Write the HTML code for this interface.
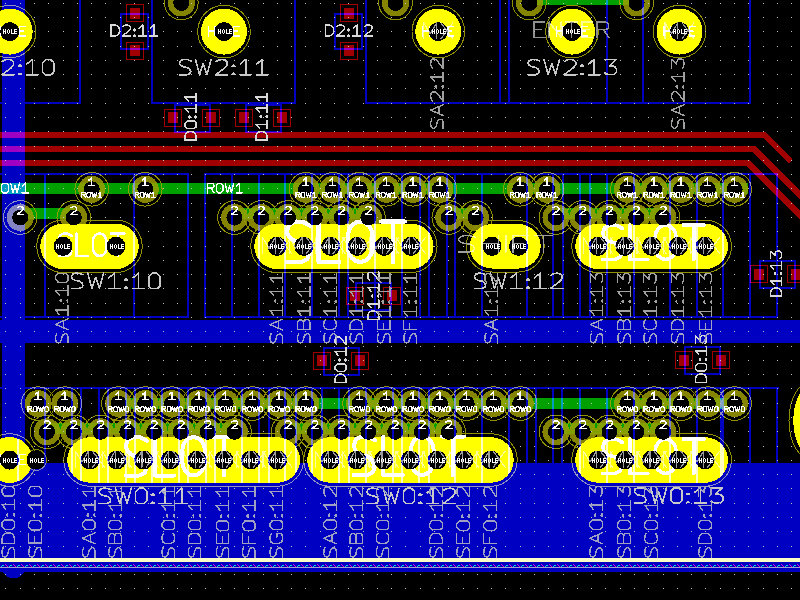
<!DOCTYPE html><html><head><meta charset="utf-8"><style>
*{margin:0;padding:0}
body{background:#000;width:800px;height:600px;overflow:hidden}
svg{display:block;shape-rendering:crispEdges}
text{font-family:"Liberation Sans",sans-serif}
.pn{fill:#fff;font-size:10.5px;text-anchor:middle}
.pnet{fill:#fff;font-size:7.6px;text-anchor:middle}
.hole{fill:#fff;font-size:6.4px;font-weight:bold;text-anchor:middle}
.bl{mix-blend-mode:lighten}
</style></head><body><svg width="800" height="600" viewBox="0 0 800 600"><rect width="800" height="600" fill="#000"/><g><path fill="#c0c0c0" d="M5 3h1v1h-1zM20 3h1v1h-1zM34 3h1v1h-1zM48 3h1v1h-1zM63 3h1v1h-1zM77 3h1v1h-1zM91 3h1v1h-1zM105 3h1v1h-1zM120 3h1v1h-1zM134 3h1v1h-1zM148 3h1v1h-1zM163 3h1v1h-1zM177 3h1v1h-1zM191 3h1v1h-1zM205 3h1v1h-1zM220 3h1v1h-1zM234 3h1v1h-1zM248 3h1v1h-1zM263 3h1v1h-1zM277 3h1v1h-1zM291 3h1v1h-1zM305 3h1v1h-1zM320 3h1v1h-1zM334 3h1v1h-1zM348 3h1v1h-1zM363 3h1v1h-1zM377 3h1v1h-1zM391 3h1v1h-1zM405 3h1v1h-1zM420 3h1v1h-1zM434 3h1v1h-1zM448 3h1v1h-1zM463 3h1v1h-1zM477 3h1v1h-1zM491 3h1v1h-1zM505 3h1v1h-1zM520 3h1v1h-1zM534 3h1v1h-1zM548 3h1v1h-1zM563 3h1v1h-1zM577 3h1v1h-1zM591 3h1v1h-1zM605 3h1v1h-1zM620 3h1v1h-1zM634 3h1v1h-1zM648 3h1v1h-1zM663 3h1v1h-1zM677 3h1v1h-1zM691 3h1v1h-1zM705 3h1v1h-1zM720 3h1v1h-1zM734 3h1v1h-1zM748 3h1v1h-1zM763 3h1v1h-1zM777 3h1v1h-1zM791 3h1v1h-1zM5 17h1v1h-1zM20 17h1v1h-1zM34 17h1v1h-1zM48 17h1v1h-1zM63 17h1v1h-1zM77 17h1v1h-1zM91 17h1v1h-1zM105 17h1v1h-1zM120 17h1v1h-1zM134 17h1v1h-1zM148 17h1v1h-1zM163 17h1v1h-1zM177 17h1v1h-1zM191 17h1v1h-1zM205 17h1v1h-1zM220 17h1v1h-1zM234 17h1v1h-1zM248 17h1v1h-1zM263 17h1v1h-1zM277 17h1v1h-1zM291 17h1v1h-1zM305 17h1v1h-1zM320 17h1v1h-1zM334 17h1v1h-1zM348 17h1v1h-1zM363 17h1v1h-1zM377 17h1v1h-1zM391 17h1v1h-1zM405 17h1v1h-1zM420 17h1v1h-1zM434 17h1v1h-1zM448 17h1v1h-1zM463 17h1v1h-1zM477 17h1v1h-1zM491 17h1v1h-1zM505 17h1v1h-1zM520 17h1v1h-1zM534 17h1v1h-1zM548 17h1v1h-1zM563 17h1v1h-1zM577 17h1v1h-1zM591 17h1v1h-1zM605 17h1v1h-1zM620 17h1v1h-1zM634 17h1v1h-1zM648 17h1v1h-1zM663 17h1v1h-1zM677 17h1v1h-1zM691 17h1v1h-1zM705 17h1v1h-1zM720 17h1v1h-1zM734 17h1v1h-1zM748 17h1v1h-1zM763 17h1v1h-1zM777 17h1v1h-1zM791 17h1v1h-1zM5 31h1v1h-1zM20 31h1v1h-1zM34 31h1v1h-1zM48 31h1v1h-1zM63 31h1v1h-1zM77 31h1v1h-1zM91 31h1v1h-1zM105 31h1v1h-1zM120 31h1v1h-1zM134 31h1v1h-1zM148 31h1v1h-1zM163 31h1v1h-1zM177 31h1v1h-1zM191 31h1v1h-1zM205 31h1v1h-1zM220 31h1v1h-1zM234 31h1v1h-1zM248 31h1v1h-1zM263 31h1v1h-1zM277 31h1v1h-1zM291 31h1v1h-1zM305 31h1v1h-1zM320 31h1v1h-1zM334 31h1v1h-1zM348 31h1v1h-1zM363 31h1v1h-1zM377 31h1v1h-1zM391 31h1v1h-1zM405 31h1v1h-1zM420 31h1v1h-1zM434 31h1v1h-1zM448 31h1v1h-1zM463 31h1v1h-1zM477 31h1v1h-1zM491 31h1v1h-1zM505 31h1v1h-1zM520 31h1v1h-1zM534 31h1v1h-1zM548 31h1v1h-1zM563 31h1v1h-1zM577 31h1v1h-1zM591 31h1v1h-1zM605 31h1v1h-1zM620 31h1v1h-1zM634 31h1v1h-1zM648 31h1v1h-1zM663 31h1v1h-1zM677 31h1v1h-1zM691 31h1v1h-1zM705 31h1v1h-1zM720 31h1v1h-1zM734 31h1v1h-1zM748 31h1v1h-1zM763 31h1v1h-1zM777 31h1v1h-1zM791 31h1v1h-1zM5 46h1v1h-1zM20 46h1v1h-1zM34 46h1v1h-1zM48 46h1v1h-1zM63 46h1v1h-1zM77 46h1v1h-1zM91 46h1v1h-1zM105 46h1v1h-1zM120 46h1v1h-1zM134 46h1v1h-1zM148 46h1v1h-1zM163 46h1v1h-1zM177 46h1v1h-1zM191 46h1v1h-1zM205 46h1v1h-1zM220 46h1v1h-1zM234 46h1v1h-1zM248 46h1v1h-1zM263 46h1v1h-1zM277 46h1v1h-1zM291 46h1v1h-1zM305 46h1v1h-1zM320 46h1v1h-1zM334 46h1v1h-1zM348 46h1v1h-1zM363 46h1v1h-1zM377 46h1v1h-1zM391 46h1v1h-1zM405 46h1v1h-1zM420 46h1v1h-1zM434 46h1v1h-1zM448 46h1v1h-1zM463 46h1v1h-1zM477 46h1v1h-1zM491 46h1v1h-1zM505 46h1v1h-1zM520 46h1v1h-1zM534 46h1v1h-1zM548 46h1v1h-1zM563 46h1v1h-1zM577 46h1v1h-1zM591 46h1v1h-1zM605 46h1v1h-1zM620 46h1v1h-1zM634 46h1v1h-1zM648 46h1v1h-1zM663 46h1v1h-1zM677 46h1v1h-1zM691 46h1v1h-1zM705 46h1v1h-1zM720 46h1v1h-1zM734 46h1v1h-1zM748 46h1v1h-1zM763 46h1v1h-1zM777 46h1v1h-1zM791 46h1v1h-1zM5 60h1v1h-1zM20 60h1v1h-1zM34 60h1v1h-1zM48 60h1v1h-1zM63 60h1v1h-1zM77 60h1v1h-1zM91 60h1v1h-1zM105 60h1v1h-1zM120 60h1v1h-1zM134 60h1v1h-1zM148 60h1v1h-1zM163 60h1v1h-1zM177 60h1v1h-1zM191 60h1v1h-1zM205 60h1v1h-1zM220 60h1v1h-1zM234 60h1v1h-1zM248 60h1v1h-1zM263 60h1v1h-1zM277 60h1v1h-1zM291 60h1v1h-1zM305 60h1v1h-1zM320 60h1v1h-1zM334 60h1v1h-1zM348 60h1v1h-1zM363 60h1v1h-1zM377 60h1v1h-1zM391 60h1v1h-1zM405 60h1v1h-1zM420 60h1v1h-1zM434 60h1v1h-1zM448 60h1v1h-1zM463 60h1v1h-1zM477 60h1v1h-1zM491 60h1v1h-1zM505 60h1v1h-1zM520 60h1v1h-1zM534 60h1v1h-1zM548 60h1v1h-1zM563 60h1v1h-1zM577 60h1v1h-1zM591 60h1v1h-1zM605 60h1v1h-1zM620 60h1v1h-1zM634 60h1v1h-1zM648 60h1v1h-1zM663 60h1v1h-1zM677 60h1v1h-1zM691 60h1v1h-1zM705 60h1v1h-1zM720 60h1v1h-1zM734 60h1v1h-1zM748 60h1v1h-1zM763 60h1v1h-1zM777 60h1v1h-1zM791 60h1v1h-1zM5 74h1v1h-1zM20 74h1v1h-1zM34 74h1v1h-1zM48 74h1v1h-1zM63 74h1v1h-1zM77 74h1v1h-1zM91 74h1v1h-1zM105 74h1v1h-1zM120 74h1v1h-1zM134 74h1v1h-1zM148 74h1v1h-1zM163 74h1v1h-1zM177 74h1v1h-1zM191 74h1v1h-1zM205 74h1v1h-1zM220 74h1v1h-1zM234 74h1v1h-1zM248 74h1v1h-1zM263 74h1v1h-1zM277 74h1v1h-1zM291 74h1v1h-1zM305 74h1v1h-1zM320 74h1v1h-1zM334 74h1v1h-1zM348 74h1v1h-1zM363 74h1v1h-1zM377 74h1v1h-1zM391 74h1v1h-1zM405 74h1v1h-1zM420 74h1v1h-1zM434 74h1v1h-1zM448 74h1v1h-1zM463 74h1v1h-1zM477 74h1v1h-1zM491 74h1v1h-1zM505 74h1v1h-1zM520 74h1v1h-1zM534 74h1v1h-1zM548 74h1v1h-1zM563 74h1v1h-1zM577 74h1v1h-1zM591 74h1v1h-1zM605 74h1v1h-1zM620 74h1v1h-1zM634 74h1v1h-1zM648 74h1v1h-1zM663 74h1v1h-1zM677 74h1v1h-1zM691 74h1v1h-1zM705 74h1v1h-1zM720 74h1v1h-1zM734 74h1v1h-1zM748 74h1v1h-1zM763 74h1v1h-1zM777 74h1v1h-1zM791 74h1v1h-1zM5 88h1v1h-1zM20 88h1v1h-1zM34 88h1v1h-1zM48 88h1v1h-1zM63 88h1v1h-1zM77 88h1v1h-1zM91 88h1v1h-1zM105 88h1v1h-1zM120 88h1v1h-1zM134 88h1v1h-1zM148 88h1v1h-1zM163 88h1v1h-1zM177 88h1v1h-1zM191 88h1v1h-1zM205 88h1v1h-1zM220 88h1v1h-1zM234 88h1v1h-1zM248 88h1v1h-1zM263 88h1v1h-1zM277 88h1v1h-1zM291 88h1v1h-1zM305 88h1v1h-1zM320 88h1v1h-1zM334 88h1v1h-1zM348 88h1v1h-1zM363 88h1v1h-1zM377 88h1v1h-1zM391 88h1v1h-1zM405 88h1v1h-1zM420 88h1v1h-1zM434 88h1v1h-1zM448 88h1v1h-1zM463 88h1v1h-1zM477 88h1v1h-1zM491 88h1v1h-1zM505 88h1v1h-1zM520 88h1v1h-1zM534 88h1v1h-1zM548 88h1v1h-1zM563 88h1v1h-1zM577 88h1v1h-1zM591 88h1v1h-1zM605 88h1v1h-1zM620 88h1v1h-1zM634 88h1v1h-1zM648 88h1v1h-1zM663 88h1v1h-1zM677 88h1v1h-1zM691 88h1v1h-1zM705 88h1v1h-1zM720 88h1v1h-1zM734 88h1v1h-1zM748 88h1v1h-1zM763 88h1v1h-1zM777 88h1v1h-1zM791 88h1v1h-1zM5 103h1v1h-1zM20 103h1v1h-1zM34 103h1v1h-1zM48 103h1v1h-1zM63 103h1v1h-1zM77 103h1v1h-1zM91 103h1v1h-1zM105 103h1v1h-1zM120 103h1v1h-1zM134 103h1v1h-1zM148 103h1v1h-1zM163 103h1v1h-1zM177 103h1v1h-1zM191 103h1v1h-1zM205 103h1v1h-1zM220 103h1v1h-1zM234 103h1v1h-1zM248 103h1v1h-1zM263 103h1v1h-1zM277 103h1v1h-1zM291 103h1v1h-1zM305 103h1v1h-1zM320 103h1v1h-1zM334 103h1v1h-1zM348 103h1v1h-1zM363 103h1v1h-1zM377 103h1v1h-1zM391 103h1v1h-1zM405 103h1v1h-1zM420 103h1v1h-1zM434 103h1v1h-1zM448 103h1v1h-1zM463 103h1v1h-1zM477 103h1v1h-1zM491 103h1v1h-1zM505 103h1v1h-1zM520 103h1v1h-1zM534 103h1v1h-1zM548 103h1v1h-1zM563 103h1v1h-1zM577 103h1v1h-1zM591 103h1v1h-1zM605 103h1v1h-1zM620 103h1v1h-1zM634 103h1v1h-1zM648 103h1v1h-1zM663 103h1v1h-1zM677 103h1v1h-1zM691 103h1v1h-1zM705 103h1v1h-1zM720 103h1v1h-1zM734 103h1v1h-1zM748 103h1v1h-1zM763 103h1v1h-1zM777 103h1v1h-1zM791 103h1v1h-1zM5 117h1v1h-1zM20 117h1v1h-1zM34 117h1v1h-1zM48 117h1v1h-1zM63 117h1v1h-1zM77 117h1v1h-1zM91 117h1v1h-1zM105 117h1v1h-1zM120 117h1v1h-1zM134 117h1v1h-1zM148 117h1v1h-1zM163 117h1v1h-1zM177 117h1v1h-1zM191 117h1v1h-1zM205 117h1v1h-1zM220 117h1v1h-1zM234 117h1v1h-1zM248 117h1v1h-1zM263 117h1v1h-1zM277 117h1v1h-1zM291 117h1v1h-1zM305 117h1v1h-1zM320 117h1v1h-1zM334 117h1v1h-1zM348 117h1v1h-1zM363 117h1v1h-1zM377 117h1v1h-1zM391 117h1v1h-1zM405 117h1v1h-1zM420 117h1v1h-1zM434 117h1v1h-1zM448 117h1v1h-1zM463 117h1v1h-1zM477 117h1v1h-1zM491 117h1v1h-1zM505 117h1v1h-1zM520 117h1v1h-1zM534 117h1v1h-1zM548 117h1v1h-1zM563 117h1v1h-1zM577 117h1v1h-1zM591 117h1v1h-1zM605 117h1v1h-1zM620 117h1v1h-1zM634 117h1v1h-1zM648 117h1v1h-1zM663 117h1v1h-1zM677 117h1v1h-1zM691 117h1v1h-1zM705 117h1v1h-1zM720 117h1v1h-1zM734 117h1v1h-1zM748 117h1v1h-1zM763 117h1v1h-1zM777 117h1v1h-1zM791 117h1v1h-1zM5 131h1v1h-1zM20 131h1v1h-1zM34 131h1v1h-1zM48 131h1v1h-1zM63 131h1v1h-1zM77 131h1v1h-1zM91 131h1v1h-1zM105 131h1v1h-1zM120 131h1v1h-1zM134 131h1v1h-1zM148 131h1v1h-1zM163 131h1v1h-1zM177 131h1v1h-1zM191 131h1v1h-1zM205 131h1v1h-1zM220 131h1v1h-1zM234 131h1v1h-1zM248 131h1v1h-1zM263 131h1v1h-1zM277 131h1v1h-1zM291 131h1v1h-1zM305 131h1v1h-1zM320 131h1v1h-1zM334 131h1v1h-1zM348 131h1v1h-1zM363 131h1v1h-1zM377 131h1v1h-1zM391 131h1v1h-1zM405 131h1v1h-1zM420 131h1v1h-1zM434 131h1v1h-1zM448 131h1v1h-1zM463 131h1v1h-1zM477 131h1v1h-1zM491 131h1v1h-1zM505 131h1v1h-1zM520 131h1v1h-1zM534 131h1v1h-1zM548 131h1v1h-1zM563 131h1v1h-1zM577 131h1v1h-1zM591 131h1v1h-1zM605 131h1v1h-1zM620 131h1v1h-1zM634 131h1v1h-1zM648 131h1v1h-1zM663 131h1v1h-1zM677 131h1v1h-1zM691 131h1v1h-1zM705 131h1v1h-1zM720 131h1v1h-1zM734 131h1v1h-1zM748 131h1v1h-1zM763 131h1v1h-1zM777 131h1v1h-1zM791 131h1v1h-1zM5 146h1v1h-1zM20 146h1v1h-1zM34 146h1v1h-1zM48 146h1v1h-1zM63 146h1v1h-1zM77 146h1v1h-1zM91 146h1v1h-1zM105 146h1v1h-1zM120 146h1v1h-1zM134 146h1v1h-1zM148 146h1v1h-1zM163 146h1v1h-1zM177 146h1v1h-1zM191 146h1v1h-1zM205 146h1v1h-1zM220 146h1v1h-1zM234 146h1v1h-1zM248 146h1v1h-1zM263 146h1v1h-1zM277 146h1v1h-1zM291 146h1v1h-1zM305 146h1v1h-1zM320 146h1v1h-1zM334 146h1v1h-1zM348 146h1v1h-1zM363 146h1v1h-1zM377 146h1v1h-1zM391 146h1v1h-1zM405 146h1v1h-1zM420 146h1v1h-1zM434 146h1v1h-1zM448 146h1v1h-1zM463 146h1v1h-1zM477 146h1v1h-1zM491 146h1v1h-1zM505 146h1v1h-1zM520 146h1v1h-1zM534 146h1v1h-1zM548 146h1v1h-1zM563 146h1v1h-1zM577 146h1v1h-1zM591 146h1v1h-1zM605 146h1v1h-1zM620 146h1v1h-1zM634 146h1v1h-1zM648 146h1v1h-1zM663 146h1v1h-1zM677 146h1v1h-1zM691 146h1v1h-1zM705 146h1v1h-1zM720 146h1v1h-1zM734 146h1v1h-1zM748 146h1v1h-1zM763 146h1v1h-1zM777 146h1v1h-1zM791 146h1v1h-1zM5 160h1v1h-1zM20 160h1v1h-1zM34 160h1v1h-1zM48 160h1v1h-1zM63 160h1v1h-1zM77 160h1v1h-1zM91 160h1v1h-1zM105 160h1v1h-1zM120 160h1v1h-1zM134 160h1v1h-1zM148 160h1v1h-1zM163 160h1v1h-1zM177 160h1v1h-1zM191 160h1v1h-1zM205 160h1v1h-1zM220 160h1v1h-1zM234 160h1v1h-1zM248 160h1v1h-1zM263 160h1v1h-1zM277 160h1v1h-1zM291 160h1v1h-1zM305 160h1v1h-1zM320 160h1v1h-1zM334 160h1v1h-1zM348 160h1v1h-1zM363 160h1v1h-1zM377 160h1v1h-1zM391 160h1v1h-1zM405 160h1v1h-1zM420 160h1v1h-1zM434 160h1v1h-1zM448 160h1v1h-1zM463 160h1v1h-1zM477 160h1v1h-1zM491 160h1v1h-1zM505 160h1v1h-1zM520 160h1v1h-1zM534 160h1v1h-1zM548 160h1v1h-1zM563 160h1v1h-1zM577 160h1v1h-1zM591 160h1v1h-1zM605 160h1v1h-1zM620 160h1v1h-1zM634 160h1v1h-1zM648 160h1v1h-1zM663 160h1v1h-1zM677 160h1v1h-1zM691 160h1v1h-1zM705 160h1v1h-1zM720 160h1v1h-1zM734 160h1v1h-1zM748 160h1v1h-1zM763 160h1v1h-1zM777 160h1v1h-1zM791 160h1v1h-1zM5 174h1v1h-1zM20 174h1v1h-1zM34 174h1v1h-1zM48 174h1v1h-1zM63 174h1v1h-1zM77 174h1v1h-1zM91 174h1v1h-1zM105 174h1v1h-1zM120 174h1v1h-1zM134 174h1v1h-1zM148 174h1v1h-1zM163 174h1v1h-1zM177 174h1v1h-1zM191 174h1v1h-1zM205 174h1v1h-1zM220 174h1v1h-1zM234 174h1v1h-1zM248 174h1v1h-1zM263 174h1v1h-1zM277 174h1v1h-1zM291 174h1v1h-1zM305 174h1v1h-1zM320 174h1v1h-1zM334 174h1v1h-1zM348 174h1v1h-1zM363 174h1v1h-1zM377 174h1v1h-1zM391 174h1v1h-1zM405 174h1v1h-1zM420 174h1v1h-1zM434 174h1v1h-1zM448 174h1v1h-1zM463 174h1v1h-1zM477 174h1v1h-1zM491 174h1v1h-1zM505 174h1v1h-1zM520 174h1v1h-1zM534 174h1v1h-1zM548 174h1v1h-1zM563 174h1v1h-1zM577 174h1v1h-1zM591 174h1v1h-1zM605 174h1v1h-1zM620 174h1v1h-1zM634 174h1v1h-1zM648 174h1v1h-1zM663 174h1v1h-1zM677 174h1v1h-1zM691 174h1v1h-1zM705 174h1v1h-1zM720 174h1v1h-1zM734 174h1v1h-1zM748 174h1v1h-1zM763 174h1v1h-1zM777 174h1v1h-1zM791 174h1v1h-1zM5 188h1v1h-1zM20 188h1v1h-1zM34 188h1v1h-1zM48 188h1v1h-1zM63 188h1v1h-1zM77 188h1v1h-1zM91 188h1v1h-1zM105 188h1v1h-1zM120 188h1v1h-1zM134 188h1v1h-1zM148 188h1v1h-1zM163 188h1v1h-1zM177 188h1v1h-1zM191 188h1v1h-1zM205 188h1v1h-1zM220 188h1v1h-1zM234 188h1v1h-1zM248 188h1v1h-1zM263 188h1v1h-1zM277 188h1v1h-1zM291 188h1v1h-1zM305 188h1v1h-1zM320 188h1v1h-1zM334 188h1v1h-1zM348 188h1v1h-1zM363 188h1v1h-1zM377 188h1v1h-1zM391 188h1v1h-1zM405 188h1v1h-1zM420 188h1v1h-1zM434 188h1v1h-1zM448 188h1v1h-1zM463 188h1v1h-1zM477 188h1v1h-1zM491 188h1v1h-1zM505 188h1v1h-1zM520 188h1v1h-1zM534 188h1v1h-1zM548 188h1v1h-1zM563 188h1v1h-1zM577 188h1v1h-1zM591 188h1v1h-1zM605 188h1v1h-1zM620 188h1v1h-1zM634 188h1v1h-1zM648 188h1v1h-1zM663 188h1v1h-1zM677 188h1v1h-1zM691 188h1v1h-1zM705 188h1v1h-1zM720 188h1v1h-1zM734 188h1v1h-1zM748 188h1v1h-1zM763 188h1v1h-1zM777 188h1v1h-1zM791 188h1v1h-1zM5 203h1v1h-1zM20 203h1v1h-1zM34 203h1v1h-1zM48 203h1v1h-1zM63 203h1v1h-1zM77 203h1v1h-1zM91 203h1v1h-1zM105 203h1v1h-1zM120 203h1v1h-1zM134 203h1v1h-1zM148 203h1v1h-1zM163 203h1v1h-1zM177 203h1v1h-1zM191 203h1v1h-1zM205 203h1v1h-1zM220 203h1v1h-1zM234 203h1v1h-1zM248 203h1v1h-1zM263 203h1v1h-1zM277 203h1v1h-1zM291 203h1v1h-1zM305 203h1v1h-1zM320 203h1v1h-1zM334 203h1v1h-1zM348 203h1v1h-1zM363 203h1v1h-1zM377 203h1v1h-1zM391 203h1v1h-1zM405 203h1v1h-1zM420 203h1v1h-1zM434 203h1v1h-1zM448 203h1v1h-1zM463 203h1v1h-1zM477 203h1v1h-1zM491 203h1v1h-1zM505 203h1v1h-1zM520 203h1v1h-1zM534 203h1v1h-1zM548 203h1v1h-1zM563 203h1v1h-1zM577 203h1v1h-1zM591 203h1v1h-1zM605 203h1v1h-1zM620 203h1v1h-1zM634 203h1v1h-1zM648 203h1v1h-1zM663 203h1v1h-1zM677 203h1v1h-1zM691 203h1v1h-1zM705 203h1v1h-1zM720 203h1v1h-1zM734 203h1v1h-1zM748 203h1v1h-1zM763 203h1v1h-1zM777 203h1v1h-1zM791 203h1v1h-1zM5 217h1v1h-1zM20 217h1v1h-1zM34 217h1v1h-1zM48 217h1v1h-1zM63 217h1v1h-1zM77 217h1v1h-1zM91 217h1v1h-1zM105 217h1v1h-1zM120 217h1v1h-1zM134 217h1v1h-1zM148 217h1v1h-1zM163 217h1v1h-1zM177 217h1v1h-1zM191 217h1v1h-1zM205 217h1v1h-1zM220 217h1v1h-1zM234 217h1v1h-1zM248 217h1v1h-1zM263 217h1v1h-1zM277 217h1v1h-1zM291 217h1v1h-1zM305 217h1v1h-1zM320 217h1v1h-1zM334 217h1v1h-1zM348 217h1v1h-1zM363 217h1v1h-1zM377 217h1v1h-1zM391 217h1v1h-1zM405 217h1v1h-1zM420 217h1v1h-1zM434 217h1v1h-1zM448 217h1v1h-1zM463 217h1v1h-1zM477 217h1v1h-1zM491 217h1v1h-1zM505 217h1v1h-1zM520 217h1v1h-1zM534 217h1v1h-1zM548 217h1v1h-1zM563 217h1v1h-1zM577 217h1v1h-1zM591 217h1v1h-1zM605 217h1v1h-1zM620 217h1v1h-1zM634 217h1v1h-1zM648 217h1v1h-1zM663 217h1v1h-1zM677 217h1v1h-1zM691 217h1v1h-1zM705 217h1v1h-1zM720 217h1v1h-1zM734 217h1v1h-1zM748 217h1v1h-1zM763 217h1v1h-1zM777 217h1v1h-1zM791 217h1v1h-1zM5 231h1v1h-1zM20 231h1v1h-1zM34 231h1v1h-1zM48 231h1v1h-1zM63 231h1v1h-1zM77 231h1v1h-1zM91 231h1v1h-1zM105 231h1v1h-1zM120 231h1v1h-1zM134 231h1v1h-1zM148 231h1v1h-1zM163 231h1v1h-1zM177 231h1v1h-1zM191 231h1v1h-1zM205 231h1v1h-1zM220 231h1v1h-1zM234 231h1v1h-1zM248 231h1v1h-1zM263 231h1v1h-1zM277 231h1v1h-1zM291 231h1v1h-1zM305 231h1v1h-1zM320 231h1v1h-1zM334 231h1v1h-1zM348 231h1v1h-1zM363 231h1v1h-1zM377 231h1v1h-1zM391 231h1v1h-1zM405 231h1v1h-1zM420 231h1v1h-1zM434 231h1v1h-1zM448 231h1v1h-1zM463 231h1v1h-1zM477 231h1v1h-1zM491 231h1v1h-1zM505 231h1v1h-1zM520 231h1v1h-1zM534 231h1v1h-1zM548 231h1v1h-1zM563 231h1v1h-1zM577 231h1v1h-1zM591 231h1v1h-1zM605 231h1v1h-1zM620 231h1v1h-1zM634 231h1v1h-1zM648 231h1v1h-1zM663 231h1v1h-1zM677 231h1v1h-1zM691 231h1v1h-1zM705 231h1v1h-1zM720 231h1v1h-1zM734 231h1v1h-1zM748 231h1v1h-1zM763 231h1v1h-1zM777 231h1v1h-1zM791 231h1v1h-1zM5 246h1v1h-1zM20 246h1v1h-1zM34 246h1v1h-1zM48 246h1v1h-1zM63 246h1v1h-1zM77 246h1v1h-1zM91 246h1v1h-1zM105 246h1v1h-1zM120 246h1v1h-1zM134 246h1v1h-1zM148 246h1v1h-1zM163 246h1v1h-1zM177 246h1v1h-1zM191 246h1v1h-1zM205 246h1v1h-1zM220 246h1v1h-1zM234 246h1v1h-1zM248 246h1v1h-1zM263 246h1v1h-1zM277 246h1v1h-1zM291 246h1v1h-1zM305 246h1v1h-1zM320 246h1v1h-1zM334 246h1v1h-1zM348 246h1v1h-1zM363 246h1v1h-1zM377 246h1v1h-1zM391 246h1v1h-1zM405 246h1v1h-1zM420 246h1v1h-1zM434 246h1v1h-1zM448 246h1v1h-1zM463 246h1v1h-1zM477 246h1v1h-1zM491 246h1v1h-1zM505 246h1v1h-1zM520 246h1v1h-1zM534 246h1v1h-1zM548 246h1v1h-1zM563 246h1v1h-1zM577 246h1v1h-1zM591 246h1v1h-1zM605 246h1v1h-1zM620 246h1v1h-1zM634 246h1v1h-1zM648 246h1v1h-1zM663 246h1v1h-1zM677 246h1v1h-1zM691 246h1v1h-1zM705 246h1v1h-1zM720 246h1v1h-1zM734 246h1v1h-1zM748 246h1v1h-1zM763 246h1v1h-1zM777 246h1v1h-1zM791 246h1v1h-1zM5 260h1v1h-1zM20 260h1v1h-1zM34 260h1v1h-1zM48 260h1v1h-1zM63 260h1v1h-1zM77 260h1v1h-1zM91 260h1v1h-1zM105 260h1v1h-1zM120 260h1v1h-1zM134 260h1v1h-1zM148 260h1v1h-1zM163 260h1v1h-1zM177 260h1v1h-1zM191 260h1v1h-1zM205 260h1v1h-1zM220 260h1v1h-1zM234 260h1v1h-1zM248 260h1v1h-1zM263 260h1v1h-1zM277 260h1v1h-1zM291 260h1v1h-1zM305 260h1v1h-1zM320 260h1v1h-1zM334 260h1v1h-1zM348 260h1v1h-1zM363 260h1v1h-1zM377 260h1v1h-1zM391 260h1v1h-1zM405 260h1v1h-1zM420 260h1v1h-1zM434 260h1v1h-1zM448 260h1v1h-1zM463 260h1v1h-1zM477 260h1v1h-1zM491 260h1v1h-1zM505 260h1v1h-1zM520 260h1v1h-1zM534 260h1v1h-1zM548 260h1v1h-1zM563 260h1v1h-1zM577 260h1v1h-1zM591 260h1v1h-1zM605 260h1v1h-1zM620 260h1v1h-1zM634 260h1v1h-1zM648 260h1v1h-1zM663 260h1v1h-1zM677 260h1v1h-1zM691 260h1v1h-1zM705 260h1v1h-1zM720 260h1v1h-1zM734 260h1v1h-1zM748 260h1v1h-1zM763 260h1v1h-1zM777 260h1v1h-1zM791 260h1v1h-1zM5 274h1v1h-1zM20 274h1v1h-1zM34 274h1v1h-1zM48 274h1v1h-1zM63 274h1v1h-1zM77 274h1v1h-1zM91 274h1v1h-1zM105 274h1v1h-1zM120 274h1v1h-1zM134 274h1v1h-1zM148 274h1v1h-1zM163 274h1v1h-1zM177 274h1v1h-1zM191 274h1v1h-1zM205 274h1v1h-1zM220 274h1v1h-1zM234 274h1v1h-1zM248 274h1v1h-1zM263 274h1v1h-1zM277 274h1v1h-1zM291 274h1v1h-1zM305 274h1v1h-1zM320 274h1v1h-1zM334 274h1v1h-1zM348 274h1v1h-1zM363 274h1v1h-1zM377 274h1v1h-1zM391 274h1v1h-1zM405 274h1v1h-1zM420 274h1v1h-1zM434 274h1v1h-1zM448 274h1v1h-1zM463 274h1v1h-1zM477 274h1v1h-1zM491 274h1v1h-1zM505 274h1v1h-1zM520 274h1v1h-1zM534 274h1v1h-1zM548 274h1v1h-1zM563 274h1v1h-1zM577 274h1v1h-1zM591 274h1v1h-1zM605 274h1v1h-1zM620 274h1v1h-1zM634 274h1v1h-1zM648 274h1v1h-1zM663 274h1v1h-1zM677 274h1v1h-1zM691 274h1v1h-1zM705 274h1v1h-1zM720 274h1v1h-1zM734 274h1v1h-1zM748 274h1v1h-1zM763 274h1v1h-1zM777 274h1v1h-1zM791 274h1v1h-1zM5 288h1v1h-1zM20 288h1v1h-1zM34 288h1v1h-1zM48 288h1v1h-1zM63 288h1v1h-1zM77 288h1v1h-1zM91 288h1v1h-1zM105 288h1v1h-1zM120 288h1v1h-1zM134 288h1v1h-1zM148 288h1v1h-1zM163 288h1v1h-1zM177 288h1v1h-1zM191 288h1v1h-1zM205 288h1v1h-1zM220 288h1v1h-1zM234 288h1v1h-1zM248 288h1v1h-1zM263 288h1v1h-1zM277 288h1v1h-1zM291 288h1v1h-1zM305 288h1v1h-1zM320 288h1v1h-1zM334 288h1v1h-1zM348 288h1v1h-1zM363 288h1v1h-1zM377 288h1v1h-1zM391 288h1v1h-1zM405 288h1v1h-1zM420 288h1v1h-1zM434 288h1v1h-1zM448 288h1v1h-1zM463 288h1v1h-1zM477 288h1v1h-1zM491 288h1v1h-1zM505 288h1v1h-1zM520 288h1v1h-1zM534 288h1v1h-1zM548 288h1v1h-1zM563 288h1v1h-1zM577 288h1v1h-1zM591 288h1v1h-1zM605 288h1v1h-1zM620 288h1v1h-1zM634 288h1v1h-1zM648 288h1v1h-1zM663 288h1v1h-1zM677 288h1v1h-1zM691 288h1v1h-1zM705 288h1v1h-1zM720 288h1v1h-1zM734 288h1v1h-1zM748 288h1v1h-1zM763 288h1v1h-1zM777 288h1v1h-1zM791 288h1v1h-1zM5 303h1v1h-1zM20 303h1v1h-1zM34 303h1v1h-1zM48 303h1v1h-1zM63 303h1v1h-1zM77 303h1v1h-1zM91 303h1v1h-1zM105 303h1v1h-1zM120 303h1v1h-1zM134 303h1v1h-1zM148 303h1v1h-1zM163 303h1v1h-1zM177 303h1v1h-1zM191 303h1v1h-1zM205 303h1v1h-1zM220 303h1v1h-1zM234 303h1v1h-1zM248 303h1v1h-1zM263 303h1v1h-1zM277 303h1v1h-1zM291 303h1v1h-1zM305 303h1v1h-1zM320 303h1v1h-1zM334 303h1v1h-1zM348 303h1v1h-1zM363 303h1v1h-1zM377 303h1v1h-1zM391 303h1v1h-1zM405 303h1v1h-1zM420 303h1v1h-1zM434 303h1v1h-1zM448 303h1v1h-1zM463 303h1v1h-1zM477 303h1v1h-1zM491 303h1v1h-1zM505 303h1v1h-1zM520 303h1v1h-1zM534 303h1v1h-1zM548 303h1v1h-1zM563 303h1v1h-1zM577 303h1v1h-1zM591 303h1v1h-1zM605 303h1v1h-1zM620 303h1v1h-1zM634 303h1v1h-1zM648 303h1v1h-1zM663 303h1v1h-1zM677 303h1v1h-1zM691 303h1v1h-1zM705 303h1v1h-1zM720 303h1v1h-1zM734 303h1v1h-1zM748 303h1v1h-1zM763 303h1v1h-1zM777 303h1v1h-1zM791 303h1v1h-1zM5 317h1v1h-1zM20 317h1v1h-1zM34 317h1v1h-1zM48 317h1v1h-1zM63 317h1v1h-1zM77 317h1v1h-1zM91 317h1v1h-1zM105 317h1v1h-1zM120 317h1v1h-1zM134 317h1v1h-1zM148 317h1v1h-1zM163 317h1v1h-1zM177 317h1v1h-1zM191 317h1v1h-1zM205 317h1v1h-1zM220 317h1v1h-1zM234 317h1v1h-1zM248 317h1v1h-1zM263 317h1v1h-1zM277 317h1v1h-1zM291 317h1v1h-1zM305 317h1v1h-1zM320 317h1v1h-1zM334 317h1v1h-1zM348 317h1v1h-1zM363 317h1v1h-1zM377 317h1v1h-1zM391 317h1v1h-1zM405 317h1v1h-1zM420 317h1v1h-1zM434 317h1v1h-1zM448 317h1v1h-1zM463 317h1v1h-1zM477 317h1v1h-1zM491 317h1v1h-1zM505 317h1v1h-1zM520 317h1v1h-1zM534 317h1v1h-1zM548 317h1v1h-1zM563 317h1v1h-1zM577 317h1v1h-1zM591 317h1v1h-1zM605 317h1v1h-1zM620 317h1v1h-1zM634 317h1v1h-1zM648 317h1v1h-1zM663 317h1v1h-1zM677 317h1v1h-1zM691 317h1v1h-1zM705 317h1v1h-1zM720 317h1v1h-1zM734 317h1v1h-1zM748 317h1v1h-1zM763 317h1v1h-1zM777 317h1v1h-1zM791 317h1v1h-1zM5 331h1v1h-1zM20 331h1v1h-1zM34 331h1v1h-1zM48 331h1v1h-1zM63 331h1v1h-1zM77 331h1v1h-1zM91 331h1v1h-1zM105 331h1v1h-1zM120 331h1v1h-1zM134 331h1v1h-1zM148 331h1v1h-1zM163 331h1v1h-1zM177 331h1v1h-1zM191 331h1v1h-1zM205 331h1v1h-1zM220 331h1v1h-1zM234 331h1v1h-1zM248 331h1v1h-1zM263 331h1v1h-1zM277 331h1v1h-1zM291 331h1v1h-1zM305 331h1v1h-1zM320 331h1v1h-1zM334 331h1v1h-1zM348 331h1v1h-1zM363 331h1v1h-1zM377 331h1v1h-1zM391 331h1v1h-1zM405 331h1v1h-1zM420 331h1v1h-1zM434 331h1v1h-1zM448 331h1v1h-1zM463 331h1v1h-1zM477 331h1v1h-1zM491 331h1v1h-1zM505 331h1v1h-1zM520 331h1v1h-1zM534 331h1v1h-1zM548 331h1v1h-1zM563 331h1v1h-1zM577 331h1v1h-1zM591 331h1v1h-1zM605 331h1v1h-1zM620 331h1v1h-1zM634 331h1v1h-1zM648 331h1v1h-1zM663 331h1v1h-1zM677 331h1v1h-1zM691 331h1v1h-1zM705 331h1v1h-1zM720 331h1v1h-1zM734 331h1v1h-1zM748 331h1v1h-1zM763 331h1v1h-1zM777 331h1v1h-1zM791 331h1v1h-1zM5 346h1v1h-1zM20 346h1v1h-1zM34 346h1v1h-1zM48 346h1v1h-1zM63 346h1v1h-1zM77 346h1v1h-1zM91 346h1v1h-1zM105 346h1v1h-1zM120 346h1v1h-1zM134 346h1v1h-1zM148 346h1v1h-1zM163 346h1v1h-1zM177 346h1v1h-1zM191 346h1v1h-1zM205 346h1v1h-1zM220 346h1v1h-1zM234 346h1v1h-1zM248 346h1v1h-1zM263 346h1v1h-1zM277 346h1v1h-1zM291 346h1v1h-1zM305 346h1v1h-1zM320 346h1v1h-1zM334 346h1v1h-1zM348 346h1v1h-1zM363 346h1v1h-1zM377 346h1v1h-1zM391 346h1v1h-1zM405 346h1v1h-1zM420 346h1v1h-1zM434 346h1v1h-1zM448 346h1v1h-1zM463 346h1v1h-1zM477 346h1v1h-1zM491 346h1v1h-1zM505 346h1v1h-1zM520 346h1v1h-1zM534 346h1v1h-1zM548 346h1v1h-1zM563 346h1v1h-1zM577 346h1v1h-1zM591 346h1v1h-1zM605 346h1v1h-1zM620 346h1v1h-1zM634 346h1v1h-1zM648 346h1v1h-1zM663 346h1v1h-1zM677 346h1v1h-1zM691 346h1v1h-1zM705 346h1v1h-1zM720 346h1v1h-1zM734 346h1v1h-1zM748 346h1v1h-1zM763 346h1v1h-1zM777 346h1v1h-1zM791 346h1v1h-1zM5 360h1v1h-1zM20 360h1v1h-1zM34 360h1v1h-1zM48 360h1v1h-1zM63 360h1v1h-1zM77 360h1v1h-1zM91 360h1v1h-1zM105 360h1v1h-1zM120 360h1v1h-1zM134 360h1v1h-1zM148 360h1v1h-1zM163 360h1v1h-1zM177 360h1v1h-1zM191 360h1v1h-1zM205 360h1v1h-1zM220 360h1v1h-1zM234 360h1v1h-1zM248 360h1v1h-1zM263 360h1v1h-1zM277 360h1v1h-1zM291 360h1v1h-1zM305 360h1v1h-1zM320 360h1v1h-1zM334 360h1v1h-1zM348 360h1v1h-1zM363 360h1v1h-1zM377 360h1v1h-1zM391 360h1v1h-1zM405 360h1v1h-1zM420 360h1v1h-1zM434 360h1v1h-1zM448 360h1v1h-1zM463 360h1v1h-1zM477 360h1v1h-1zM491 360h1v1h-1zM505 360h1v1h-1zM520 360h1v1h-1zM534 360h1v1h-1zM548 360h1v1h-1zM563 360h1v1h-1zM577 360h1v1h-1zM591 360h1v1h-1zM605 360h1v1h-1zM620 360h1v1h-1zM634 360h1v1h-1zM648 360h1v1h-1zM663 360h1v1h-1zM677 360h1v1h-1zM691 360h1v1h-1zM705 360h1v1h-1zM720 360h1v1h-1zM734 360h1v1h-1zM748 360h1v1h-1zM763 360h1v1h-1zM777 360h1v1h-1zM791 360h1v1h-1zM5 374h1v1h-1zM20 374h1v1h-1zM34 374h1v1h-1zM48 374h1v1h-1zM63 374h1v1h-1zM77 374h1v1h-1zM91 374h1v1h-1zM105 374h1v1h-1zM120 374h1v1h-1zM134 374h1v1h-1zM148 374h1v1h-1zM163 374h1v1h-1zM177 374h1v1h-1zM191 374h1v1h-1zM205 374h1v1h-1zM220 374h1v1h-1zM234 374h1v1h-1zM248 374h1v1h-1zM263 374h1v1h-1zM277 374h1v1h-1zM291 374h1v1h-1zM305 374h1v1h-1zM320 374h1v1h-1zM334 374h1v1h-1zM348 374h1v1h-1zM363 374h1v1h-1zM377 374h1v1h-1zM391 374h1v1h-1zM405 374h1v1h-1zM420 374h1v1h-1zM434 374h1v1h-1zM448 374h1v1h-1zM463 374h1v1h-1zM477 374h1v1h-1zM491 374h1v1h-1zM505 374h1v1h-1zM520 374h1v1h-1zM534 374h1v1h-1zM548 374h1v1h-1zM563 374h1v1h-1zM577 374h1v1h-1zM591 374h1v1h-1zM605 374h1v1h-1zM620 374h1v1h-1zM634 374h1v1h-1zM648 374h1v1h-1zM663 374h1v1h-1zM677 374h1v1h-1zM691 374h1v1h-1zM705 374h1v1h-1zM720 374h1v1h-1zM734 374h1v1h-1zM748 374h1v1h-1zM763 374h1v1h-1zM777 374h1v1h-1zM791 374h1v1h-1zM5 388h1v1h-1zM20 388h1v1h-1zM34 388h1v1h-1zM48 388h1v1h-1zM63 388h1v1h-1zM77 388h1v1h-1zM91 388h1v1h-1zM105 388h1v1h-1zM120 388h1v1h-1zM134 388h1v1h-1zM148 388h1v1h-1zM163 388h1v1h-1zM177 388h1v1h-1zM191 388h1v1h-1zM205 388h1v1h-1zM220 388h1v1h-1zM234 388h1v1h-1zM248 388h1v1h-1zM263 388h1v1h-1zM277 388h1v1h-1zM291 388h1v1h-1zM305 388h1v1h-1zM320 388h1v1h-1zM334 388h1v1h-1zM348 388h1v1h-1zM363 388h1v1h-1zM377 388h1v1h-1zM391 388h1v1h-1zM405 388h1v1h-1zM420 388h1v1h-1zM434 388h1v1h-1zM448 388h1v1h-1zM463 388h1v1h-1zM477 388h1v1h-1zM491 388h1v1h-1zM505 388h1v1h-1zM520 388h1v1h-1zM534 388h1v1h-1zM548 388h1v1h-1zM563 388h1v1h-1zM577 388h1v1h-1zM591 388h1v1h-1zM605 388h1v1h-1zM620 388h1v1h-1zM634 388h1v1h-1zM648 388h1v1h-1zM663 388h1v1h-1zM677 388h1v1h-1zM691 388h1v1h-1zM705 388h1v1h-1zM720 388h1v1h-1zM734 388h1v1h-1zM748 388h1v1h-1zM763 388h1v1h-1zM777 388h1v1h-1zM791 388h1v1h-1zM5 403h1v1h-1zM20 403h1v1h-1zM34 403h1v1h-1zM48 403h1v1h-1zM63 403h1v1h-1zM77 403h1v1h-1zM91 403h1v1h-1zM105 403h1v1h-1zM120 403h1v1h-1zM134 403h1v1h-1zM148 403h1v1h-1zM163 403h1v1h-1zM177 403h1v1h-1zM191 403h1v1h-1zM205 403h1v1h-1zM220 403h1v1h-1zM234 403h1v1h-1zM248 403h1v1h-1zM263 403h1v1h-1zM277 403h1v1h-1zM291 403h1v1h-1zM305 403h1v1h-1zM320 403h1v1h-1zM334 403h1v1h-1zM348 403h1v1h-1zM363 403h1v1h-1zM377 403h1v1h-1zM391 403h1v1h-1zM405 403h1v1h-1zM420 403h1v1h-1zM434 403h1v1h-1zM448 403h1v1h-1zM463 403h1v1h-1zM477 403h1v1h-1zM491 403h1v1h-1zM505 403h1v1h-1zM520 403h1v1h-1zM534 403h1v1h-1zM548 403h1v1h-1zM563 403h1v1h-1zM577 403h1v1h-1zM591 403h1v1h-1zM605 403h1v1h-1zM620 403h1v1h-1zM634 403h1v1h-1zM648 403h1v1h-1zM663 403h1v1h-1zM677 403h1v1h-1zM691 403h1v1h-1zM705 403h1v1h-1zM720 403h1v1h-1zM734 403h1v1h-1zM748 403h1v1h-1zM763 403h1v1h-1zM777 403h1v1h-1zM791 403h1v1h-1zM5 417h1v1h-1zM20 417h1v1h-1zM34 417h1v1h-1zM48 417h1v1h-1zM63 417h1v1h-1zM77 417h1v1h-1zM91 417h1v1h-1zM105 417h1v1h-1zM120 417h1v1h-1zM134 417h1v1h-1zM148 417h1v1h-1zM163 417h1v1h-1zM177 417h1v1h-1zM191 417h1v1h-1zM205 417h1v1h-1zM220 417h1v1h-1zM234 417h1v1h-1zM248 417h1v1h-1zM263 417h1v1h-1zM277 417h1v1h-1zM291 417h1v1h-1zM305 417h1v1h-1zM320 417h1v1h-1zM334 417h1v1h-1zM348 417h1v1h-1zM363 417h1v1h-1zM377 417h1v1h-1zM391 417h1v1h-1zM405 417h1v1h-1zM420 417h1v1h-1zM434 417h1v1h-1zM448 417h1v1h-1zM463 417h1v1h-1zM477 417h1v1h-1zM491 417h1v1h-1zM505 417h1v1h-1zM520 417h1v1h-1zM534 417h1v1h-1zM548 417h1v1h-1zM563 417h1v1h-1zM577 417h1v1h-1zM591 417h1v1h-1zM605 417h1v1h-1zM620 417h1v1h-1zM634 417h1v1h-1zM648 417h1v1h-1zM663 417h1v1h-1zM677 417h1v1h-1zM691 417h1v1h-1zM705 417h1v1h-1zM720 417h1v1h-1zM734 417h1v1h-1zM748 417h1v1h-1zM763 417h1v1h-1zM777 417h1v1h-1zM791 417h1v1h-1zM5 431h1v1h-1zM20 431h1v1h-1zM34 431h1v1h-1zM48 431h1v1h-1zM63 431h1v1h-1zM77 431h1v1h-1zM91 431h1v1h-1zM105 431h1v1h-1zM120 431h1v1h-1zM134 431h1v1h-1zM148 431h1v1h-1zM163 431h1v1h-1zM177 431h1v1h-1zM191 431h1v1h-1zM205 431h1v1h-1zM220 431h1v1h-1zM234 431h1v1h-1zM248 431h1v1h-1zM263 431h1v1h-1zM277 431h1v1h-1zM291 431h1v1h-1zM305 431h1v1h-1zM320 431h1v1h-1zM334 431h1v1h-1zM348 431h1v1h-1zM363 431h1v1h-1zM377 431h1v1h-1zM391 431h1v1h-1zM405 431h1v1h-1zM420 431h1v1h-1zM434 431h1v1h-1zM448 431h1v1h-1zM463 431h1v1h-1zM477 431h1v1h-1zM491 431h1v1h-1zM505 431h1v1h-1zM520 431h1v1h-1zM534 431h1v1h-1zM548 431h1v1h-1zM563 431h1v1h-1zM577 431h1v1h-1zM591 431h1v1h-1zM605 431h1v1h-1zM620 431h1v1h-1zM634 431h1v1h-1zM648 431h1v1h-1zM663 431h1v1h-1zM677 431h1v1h-1zM691 431h1v1h-1zM705 431h1v1h-1zM720 431h1v1h-1zM734 431h1v1h-1zM748 431h1v1h-1zM763 431h1v1h-1zM777 431h1v1h-1zM791 431h1v1h-1zM5 446h1v1h-1zM20 446h1v1h-1zM34 446h1v1h-1zM48 446h1v1h-1zM63 446h1v1h-1zM77 446h1v1h-1zM91 446h1v1h-1zM105 446h1v1h-1zM120 446h1v1h-1zM134 446h1v1h-1zM148 446h1v1h-1zM163 446h1v1h-1zM177 446h1v1h-1zM191 446h1v1h-1zM205 446h1v1h-1zM220 446h1v1h-1zM234 446h1v1h-1zM248 446h1v1h-1zM263 446h1v1h-1zM277 446h1v1h-1zM291 446h1v1h-1zM305 446h1v1h-1zM320 446h1v1h-1zM334 446h1v1h-1zM348 446h1v1h-1zM363 446h1v1h-1zM377 446h1v1h-1zM391 446h1v1h-1zM405 446h1v1h-1zM420 446h1v1h-1zM434 446h1v1h-1zM448 446h1v1h-1zM463 446h1v1h-1zM477 446h1v1h-1zM491 446h1v1h-1zM505 446h1v1h-1zM520 446h1v1h-1zM534 446h1v1h-1zM548 446h1v1h-1zM563 446h1v1h-1zM577 446h1v1h-1zM591 446h1v1h-1zM605 446h1v1h-1zM620 446h1v1h-1zM634 446h1v1h-1zM648 446h1v1h-1zM663 446h1v1h-1zM677 446h1v1h-1zM691 446h1v1h-1zM705 446h1v1h-1zM720 446h1v1h-1zM734 446h1v1h-1zM748 446h1v1h-1zM763 446h1v1h-1zM777 446h1v1h-1zM791 446h1v1h-1zM5 460h1v1h-1zM20 460h1v1h-1zM34 460h1v1h-1zM48 460h1v1h-1zM63 460h1v1h-1zM77 460h1v1h-1zM91 460h1v1h-1zM105 460h1v1h-1zM120 460h1v1h-1zM134 460h1v1h-1zM148 460h1v1h-1zM163 460h1v1h-1zM177 460h1v1h-1zM191 460h1v1h-1zM205 460h1v1h-1zM220 460h1v1h-1zM234 460h1v1h-1zM248 460h1v1h-1zM263 460h1v1h-1zM277 460h1v1h-1zM291 460h1v1h-1zM305 460h1v1h-1zM320 460h1v1h-1zM334 460h1v1h-1zM348 460h1v1h-1zM363 460h1v1h-1zM377 460h1v1h-1zM391 460h1v1h-1zM405 460h1v1h-1zM420 460h1v1h-1zM434 460h1v1h-1zM448 460h1v1h-1zM463 460h1v1h-1zM477 460h1v1h-1zM491 460h1v1h-1zM505 460h1v1h-1zM520 460h1v1h-1zM534 460h1v1h-1zM548 460h1v1h-1zM563 460h1v1h-1zM577 460h1v1h-1zM591 460h1v1h-1zM605 460h1v1h-1zM620 460h1v1h-1zM634 460h1v1h-1zM648 460h1v1h-1zM663 460h1v1h-1zM677 460h1v1h-1zM691 460h1v1h-1zM705 460h1v1h-1zM720 460h1v1h-1zM734 460h1v1h-1zM748 460h1v1h-1zM763 460h1v1h-1zM777 460h1v1h-1zM791 460h1v1h-1zM5 474h1v1h-1zM20 474h1v1h-1zM34 474h1v1h-1zM48 474h1v1h-1zM63 474h1v1h-1zM77 474h1v1h-1zM91 474h1v1h-1zM105 474h1v1h-1zM120 474h1v1h-1zM134 474h1v1h-1zM148 474h1v1h-1zM163 474h1v1h-1zM177 474h1v1h-1zM191 474h1v1h-1zM205 474h1v1h-1zM220 474h1v1h-1zM234 474h1v1h-1zM248 474h1v1h-1zM263 474h1v1h-1zM277 474h1v1h-1zM291 474h1v1h-1zM305 474h1v1h-1zM320 474h1v1h-1zM334 474h1v1h-1zM348 474h1v1h-1zM363 474h1v1h-1zM377 474h1v1h-1zM391 474h1v1h-1zM405 474h1v1h-1zM420 474h1v1h-1zM434 474h1v1h-1zM448 474h1v1h-1zM463 474h1v1h-1zM477 474h1v1h-1zM491 474h1v1h-1zM505 474h1v1h-1zM520 474h1v1h-1zM534 474h1v1h-1zM548 474h1v1h-1zM563 474h1v1h-1zM577 474h1v1h-1zM591 474h1v1h-1zM605 474h1v1h-1zM620 474h1v1h-1zM634 474h1v1h-1zM648 474h1v1h-1zM663 474h1v1h-1zM677 474h1v1h-1zM691 474h1v1h-1zM705 474h1v1h-1zM720 474h1v1h-1zM734 474h1v1h-1zM748 474h1v1h-1zM763 474h1v1h-1zM777 474h1v1h-1zM791 474h1v1h-1zM5 488h1v1h-1zM20 488h1v1h-1zM34 488h1v1h-1zM48 488h1v1h-1zM63 488h1v1h-1zM77 488h1v1h-1zM91 488h1v1h-1zM105 488h1v1h-1zM120 488h1v1h-1zM134 488h1v1h-1zM148 488h1v1h-1zM163 488h1v1h-1zM177 488h1v1h-1zM191 488h1v1h-1zM205 488h1v1h-1zM220 488h1v1h-1zM234 488h1v1h-1zM248 488h1v1h-1zM263 488h1v1h-1zM277 488h1v1h-1zM291 488h1v1h-1zM305 488h1v1h-1zM320 488h1v1h-1zM334 488h1v1h-1zM348 488h1v1h-1zM363 488h1v1h-1zM377 488h1v1h-1zM391 488h1v1h-1zM405 488h1v1h-1zM420 488h1v1h-1zM434 488h1v1h-1zM448 488h1v1h-1zM463 488h1v1h-1zM477 488h1v1h-1zM491 488h1v1h-1zM505 488h1v1h-1zM520 488h1v1h-1zM534 488h1v1h-1zM548 488h1v1h-1zM563 488h1v1h-1zM577 488h1v1h-1zM591 488h1v1h-1zM605 488h1v1h-1zM620 488h1v1h-1zM634 488h1v1h-1zM648 488h1v1h-1zM663 488h1v1h-1zM677 488h1v1h-1zM691 488h1v1h-1zM705 488h1v1h-1zM720 488h1v1h-1zM734 488h1v1h-1zM748 488h1v1h-1zM763 488h1v1h-1zM777 488h1v1h-1zM791 488h1v1h-1zM5 503h1v1h-1zM20 503h1v1h-1zM34 503h1v1h-1zM48 503h1v1h-1zM63 503h1v1h-1zM77 503h1v1h-1zM91 503h1v1h-1zM105 503h1v1h-1zM120 503h1v1h-1zM134 503h1v1h-1zM148 503h1v1h-1zM163 503h1v1h-1zM177 503h1v1h-1zM191 503h1v1h-1zM205 503h1v1h-1zM220 503h1v1h-1zM234 503h1v1h-1zM248 503h1v1h-1zM263 503h1v1h-1zM277 503h1v1h-1zM291 503h1v1h-1zM305 503h1v1h-1zM320 503h1v1h-1zM334 503h1v1h-1zM348 503h1v1h-1zM363 503h1v1h-1zM377 503h1v1h-1zM391 503h1v1h-1zM405 503h1v1h-1zM420 503h1v1h-1zM434 503h1v1h-1zM448 503h1v1h-1zM463 503h1v1h-1zM477 503h1v1h-1zM491 503h1v1h-1zM505 503h1v1h-1zM520 503h1v1h-1zM534 503h1v1h-1zM548 503h1v1h-1zM563 503h1v1h-1zM577 503h1v1h-1zM591 503h1v1h-1zM605 503h1v1h-1zM620 503h1v1h-1zM634 503h1v1h-1zM648 503h1v1h-1zM663 503h1v1h-1zM677 503h1v1h-1zM691 503h1v1h-1zM705 503h1v1h-1zM720 503h1v1h-1zM734 503h1v1h-1zM748 503h1v1h-1zM763 503h1v1h-1zM777 503h1v1h-1zM791 503h1v1h-1zM5 517h1v1h-1zM20 517h1v1h-1zM34 517h1v1h-1zM48 517h1v1h-1zM63 517h1v1h-1zM77 517h1v1h-1zM91 517h1v1h-1zM105 517h1v1h-1zM120 517h1v1h-1zM134 517h1v1h-1zM148 517h1v1h-1zM163 517h1v1h-1zM177 517h1v1h-1zM191 517h1v1h-1zM205 517h1v1h-1zM220 517h1v1h-1zM234 517h1v1h-1zM248 517h1v1h-1zM263 517h1v1h-1zM277 517h1v1h-1zM291 517h1v1h-1zM305 517h1v1h-1zM320 517h1v1h-1zM334 517h1v1h-1zM348 517h1v1h-1zM363 517h1v1h-1zM377 517h1v1h-1zM391 517h1v1h-1zM405 517h1v1h-1zM420 517h1v1h-1zM434 517h1v1h-1zM448 517h1v1h-1zM463 517h1v1h-1zM477 517h1v1h-1zM491 517h1v1h-1zM505 517h1v1h-1zM520 517h1v1h-1zM534 517h1v1h-1zM548 517h1v1h-1zM563 517h1v1h-1zM577 517h1v1h-1zM591 517h1v1h-1zM605 517h1v1h-1zM620 517h1v1h-1zM634 517h1v1h-1zM648 517h1v1h-1zM663 517h1v1h-1zM677 517h1v1h-1zM691 517h1v1h-1zM705 517h1v1h-1zM720 517h1v1h-1zM734 517h1v1h-1zM748 517h1v1h-1zM763 517h1v1h-1zM777 517h1v1h-1zM791 517h1v1h-1zM5 531h1v1h-1zM20 531h1v1h-1zM34 531h1v1h-1zM48 531h1v1h-1zM63 531h1v1h-1zM77 531h1v1h-1zM91 531h1v1h-1zM105 531h1v1h-1zM120 531h1v1h-1zM134 531h1v1h-1zM148 531h1v1h-1zM163 531h1v1h-1zM177 531h1v1h-1zM191 531h1v1h-1zM205 531h1v1h-1zM220 531h1v1h-1zM234 531h1v1h-1zM248 531h1v1h-1zM263 531h1v1h-1zM277 531h1v1h-1zM291 531h1v1h-1zM305 531h1v1h-1zM320 531h1v1h-1zM334 531h1v1h-1zM348 531h1v1h-1zM363 531h1v1h-1zM377 531h1v1h-1zM391 531h1v1h-1zM405 531h1v1h-1zM420 531h1v1h-1zM434 531h1v1h-1zM448 531h1v1h-1zM463 531h1v1h-1zM477 531h1v1h-1zM491 531h1v1h-1zM505 531h1v1h-1zM520 531h1v1h-1zM534 531h1v1h-1zM548 531h1v1h-1zM563 531h1v1h-1zM577 531h1v1h-1zM591 531h1v1h-1zM605 531h1v1h-1zM620 531h1v1h-1zM634 531h1v1h-1zM648 531h1v1h-1zM663 531h1v1h-1zM677 531h1v1h-1zM691 531h1v1h-1zM705 531h1v1h-1zM720 531h1v1h-1zM734 531h1v1h-1zM748 531h1v1h-1zM763 531h1v1h-1zM777 531h1v1h-1zM791 531h1v1h-1zM5 546h1v1h-1zM20 546h1v1h-1zM34 546h1v1h-1zM48 546h1v1h-1zM63 546h1v1h-1zM77 546h1v1h-1zM91 546h1v1h-1zM105 546h1v1h-1zM120 546h1v1h-1zM134 546h1v1h-1zM148 546h1v1h-1zM163 546h1v1h-1zM177 546h1v1h-1zM191 546h1v1h-1zM205 546h1v1h-1zM220 546h1v1h-1zM234 546h1v1h-1zM248 546h1v1h-1zM263 546h1v1h-1zM277 546h1v1h-1zM291 546h1v1h-1zM305 546h1v1h-1zM320 546h1v1h-1zM334 546h1v1h-1zM348 546h1v1h-1zM363 546h1v1h-1zM377 546h1v1h-1zM391 546h1v1h-1zM405 546h1v1h-1zM420 546h1v1h-1zM434 546h1v1h-1zM448 546h1v1h-1zM463 546h1v1h-1zM477 546h1v1h-1zM491 546h1v1h-1zM505 546h1v1h-1zM520 546h1v1h-1zM534 546h1v1h-1zM548 546h1v1h-1zM563 546h1v1h-1zM577 546h1v1h-1zM591 546h1v1h-1zM605 546h1v1h-1zM620 546h1v1h-1zM634 546h1v1h-1zM648 546h1v1h-1zM663 546h1v1h-1zM677 546h1v1h-1zM691 546h1v1h-1zM705 546h1v1h-1zM720 546h1v1h-1zM734 546h1v1h-1zM748 546h1v1h-1zM763 546h1v1h-1zM777 546h1v1h-1zM791 546h1v1h-1zM5 560h1v1h-1zM20 560h1v1h-1zM34 560h1v1h-1zM48 560h1v1h-1zM63 560h1v1h-1zM77 560h1v1h-1zM91 560h1v1h-1zM105 560h1v1h-1zM120 560h1v1h-1zM134 560h1v1h-1zM148 560h1v1h-1zM163 560h1v1h-1zM177 560h1v1h-1zM191 560h1v1h-1zM205 560h1v1h-1zM220 560h1v1h-1zM234 560h1v1h-1zM248 560h1v1h-1zM263 560h1v1h-1zM277 560h1v1h-1zM291 560h1v1h-1zM305 560h1v1h-1zM320 560h1v1h-1zM334 560h1v1h-1zM348 560h1v1h-1zM363 560h1v1h-1zM377 560h1v1h-1zM391 560h1v1h-1zM405 560h1v1h-1zM420 560h1v1h-1zM434 560h1v1h-1zM448 560h1v1h-1zM463 560h1v1h-1zM477 560h1v1h-1zM491 560h1v1h-1zM505 560h1v1h-1zM520 560h1v1h-1zM534 560h1v1h-1zM548 560h1v1h-1zM563 560h1v1h-1zM577 560h1v1h-1zM591 560h1v1h-1zM605 560h1v1h-1zM620 560h1v1h-1zM634 560h1v1h-1zM648 560h1v1h-1zM663 560h1v1h-1zM677 560h1v1h-1zM691 560h1v1h-1zM705 560h1v1h-1zM720 560h1v1h-1zM734 560h1v1h-1zM748 560h1v1h-1zM763 560h1v1h-1zM777 560h1v1h-1zM791 560h1v1h-1zM5 574h1v1h-1zM20 574h1v1h-1zM34 574h1v1h-1zM48 574h1v1h-1zM63 574h1v1h-1zM77 574h1v1h-1zM91 574h1v1h-1zM105 574h1v1h-1zM120 574h1v1h-1zM134 574h1v1h-1zM148 574h1v1h-1zM163 574h1v1h-1zM177 574h1v1h-1zM191 574h1v1h-1zM205 574h1v1h-1zM220 574h1v1h-1zM234 574h1v1h-1zM248 574h1v1h-1zM263 574h1v1h-1zM277 574h1v1h-1zM291 574h1v1h-1zM305 574h1v1h-1zM320 574h1v1h-1zM334 574h1v1h-1zM348 574h1v1h-1zM363 574h1v1h-1zM377 574h1v1h-1zM391 574h1v1h-1zM405 574h1v1h-1zM420 574h1v1h-1zM434 574h1v1h-1zM448 574h1v1h-1zM463 574h1v1h-1zM477 574h1v1h-1zM491 574h1v1h-1zM505 574h1v1h-1zM520 574h1v1h-1zM534 574h1v1h-1zM548 574h1v1h-1zM563 574h1v1h-1zM577 574h1v1h-1zM591 574h1v1h-1zM605 574h1v1h-1zM620 574h1v1h-1zM634 574h1v1h-1zM648 574h1v1h-1zM663 574h1v1h-1zM677 574h1v1h-1zM691 574h1v1h-1zM705 574h1v1h-1zM720 574h1v1h-1zM734 574h1v1h-1zM748 574h1v1h-1zM763 574h1v1h-1zM777 574h1v1h-1zM791 574h1v1h-1zM5 588h1v1h-1zM20 588h1v1h-1zM34 588h1v1h-1zM48 588h1v1h-1zM63 588h1v1h-1zM77 588h1v1h-1zM91 588h1v1h-1zM105 588h1v1h-1zM120 588h1v1h-1zM134 588h1v1h-1zM148 588h1v1h-1zM163 588h1v1h-1zM177 588h1v1h-1zM191 588h1v1h-1zM205 588h1v1h-1zM220 588h1v1h-1zM234 588h1v1h-1zM248 588h1v1h-1zM263 588h1v1h-1zM277 588h1v1h-1zM291 588h1v1h-1zM305 588h1v1h-1zM320 588h1v1h-1zM334 588h1v1h-1zM348 588h1v1h-1zM363 588h1v1h-1zM377 588h1v1h-1zM391 588h1v1h-1zM405 588h1v1h-1zM420 588h1v1h-1zM434 588h1v1h-1zM448 588h1v1h-1zM463 588h1v1h-1zM477 588h1v1h-1zM491 588h1v1h-1zM505 588h1v1h-1zM520 588h1v1h-1zM534 588h1v1h-1zM548 588h1v1h-1zM563 588h1v1h-1zM577 588h1v1h-1zM591 588h1v1h-1zM605 588h1v1h-1zM620 588h1v1h-1zM634 588h1v1h-1zM648 588h1v1h-1zM663 588h1v1h-1zM677 588h1v1h-1zM691 588h1v1h-1zM705 588h1v1h-1zM720 588h1v1h-1zM734 588h1v1h-1zM748 588h1v1h-1zM763 588h1v1h-1zM777 588h1v1h-1zM791 588h1v1h-1z"/></g><g class="bl"><path fill="#0000c2" d="M2 0H25V567A11.5 11.5 0 0 1 2 567Z"/><rect fill="#0000c2" x="0" y="320" width="800" height="23"/><rect fill="#0000c2" x="0" y="463" width="800" height="109"/><rect x="0" y="558" width="800" height="4" fill="#ffffc8"/><rect x="0" y="567" width="800" height="1" fill="#a0a0c8"/><path stroke="#e000e0" stroke-width="1" fill="none" d="M-2.9 564.5L0.1 566.7M5.1 564.5L8.1 566.7M13.1 564.5L16.1 566.7M21.1 564.5L24.1 566.7M29.1 564.5L32.1 566.7M37.1 564.5L40.1 566.7M45.1 564.5L48.1 566.7M53.1 564.5L56.1 566.7M61.1 564.5L64.1 566.7M69.1 564.5L72.1 566.7M77.1 564.5L80.1 566.7M85.1 564.5L88.1 566.7M93.1 564.5L96.1 566.7M101.1 564.5L104.1 566.7M109.1 564.5L112.1 566.7M117.1 564.5L120.1 566.7M125.1 564.5L128.1 566.7M133.1 564.5L136.1 566.7M141.1 564.5L144.1 566.7M149.1 564.5L152.1 566.7M157.1 564.5L160.1 566.7M165.1 564.5L168.1 566.7M173.1 564.5L176.1 566.7M181.1 564.5L184.1 566.7M189.1 564.5L192.1 566.7M197.1 564.5L200.1 566.7M205.1 564.5L208.1 566.7M213.1 564.5L216.1 566.7M221.1 564.5L224.1 566.7M229.1 564.5L232.1 566.7M237.1 564.5L240.1 566.7M245.1 564.5L248.1 566.7M253.1 564.5L256.1 566.7M261.1 564.5L264.1 566.7M269.1 564.5L272.1 566.7M277.1 564.5L280.1 566.7M285.1 564.5L288.1 566.7M293.1 564.5L296.1 566.7M301.1 564.5L304.1 566.7M309.1 564.5L312.1 566.7M317.1 564.5L320.1 566.7M325.1 564.5L328.1 566.7M333.1 564.5L336.1 566.7M341.1 564.5L344.1 566.7M349.1 564.5L352.1 566.7M357.1 564.5L360.1 566.7M365.1 564.5L368.1 566.7M373.1 564.5L376.1 566.7M381.1 564.5L384.1 566.7M389.1 564.5L392.1 566.7M397.1 564.5L400.1 566.7M405.1 564.5L408.1 566.7M413.1 564.5L416.1 566.7M421.1 564.5L424.1 566.7M429.1 564.5L432.1 566.7M437.1 564.5L440.1 566.7M445.1 564.5L448.1 566.7M453.1 564.5L456.1 566.7M461.1 564.5L464.1 566.7M469.1 564.5L472.1 566.7M477.1 564.5L480.1 566.7M485.1 564.5L488.1 566.7M493.1 564.5L496.1 566.7M501.1 564.5L504.1 566.7M509.1 564.5L512.1 566.7M517.1 564.5L520.1 566.7M525.1 564.5L528.1 566.7M533.1 564.5L536.1 566.7M541.1 564.5L544.1 566.7M549.1 564.5L552.1 566.7M557.1 564.5L560.1 566.7M565.1 564.5L568.1 566.7M573.1 564.5L576.1 566.7M581.1 564.5L584.1 566.7M589.1 564.5L592.1 566.7M597.1 564.5L600.1 566.7M605.1 564.5L608.1 566.7M613.1 564.5L616.1 566.7M621.1 564.5L624.1 566.7M629.1 564.5L632.1 566.7M637.1 564.5L640.1 566.7M645.1 564.5L648.1 566.7M653.1 564.5L656.1 566.7M661.1 564.5L664.1 566.7M669.1 564.5L672.1 566.7M677.1 564.5L680.1 566.7M685.1 564.5L688.1 566.7M693.1 564.5L696.1 566.7M701.1 564.5L704.1 566.7M709.1 564.5L712.1 566.7M717.1 564.5L720.1 566.7M725.1 564.5L728.1 566.7M733.1 564.5L736.1 566.7M741.1 564.5L744.1 566.7M749.1 564.5L752.1 566.7M757.1 564.5L760.1 566.7M765.1 564.5L768.1 566.7M773.1 564.5L776.1 566.7M781.1 564.5L784.1 566.7M789.1 564.5L792.1 566.7M797.1 564.5L800.1 566.7M805.1 564.5L808.1 566.7"/><path stroke="#00e0e0" stroke-width="1" fill="none" d="M0.9 566.7L4.5 564.5M8.9 566.7L12.5 564.5M16.9 566.7L20.5 564.5M24.9 566.7L28.5 564.5M32.9 566.7L36.5 564.5M40.9 566.7L44.5 564.5M48.9 566.7L52.5 564.5M56.9 566.7L60.5 564.5M64.9 566.7L68.5 564.5M72.9 566.7L76.5 564.5M80.9 566.7L84.5 564.5M88.9 566.7L92.5 564.5M96.9 566.7L100.5 564.5M104.9 566.7L108.5 564.5M112.9 566.7L116.5 564.5M120.9 566.7L124.5 564.5M128.9 566.7L132.5 564.5M136.9 566.7L140.5 564.5M144.9 566.7L148.5 564.5M152.9 566.7L156.5 564.5M160.9 566.7L164.5 564.5M168.9 566.7L172.5 564.5M176.9 566.7L180.5 564.5M184.9 566.7L188.5 564.5M192.9 566.7L196.5 564.5M200.9 566.7L204.5 564.5M208.9 566.7L212.5 564.5M216.9 566.7L220.5 564.5M224.9 566.7L228.5 564.5M232.9 566.7L236.5 564.5M240.9 566.7L244.5 564.5M248.9 566.7L252.5 564.5M256.9 566.7L260.5 564.5M264.9 566.7L268.5 564.5M272.9 566.7L276.5 564.5M280.9 566.7L284.5 564.5M288.9 566.7L292.5 564.5M296.9 566.7L300.5 564.5M304.9 566.7L308.5 564.5M312.9 566.7L316.5 564.5M320.9 566.7L324.5 564.5M328.9 566.7L332.5 564.5M336.9 566.7L340.5 564.5M344.9 566.7L348.5 564.5M352.9 566.7L356.5 564.5M360.9 566.7L364.5 564.5M368.9 566.7L372.5 564.5M376.9 566.7L380.5 564.5M384.9 566.7L388.5 564.5M392.9 566.7L396.5 564.5M400.9 566.7L404.5 564.5M408.9 566.7L412.5 564.5M416.9 566.7L420.5 564.5M424.9 566.7L428.5 564.5M432.9 566.7L436.5 564.5M440.9 566.7L444.5 564.5M448.9 566.7L452.5 564.5M456.9 566.7L460.5 564.5M464.9 566.7L468.5 564.5M472.9 566.7L476.5 564.5M480.9 566.7L484.5 564.5M488.9 566.7L492.5 564.5M496.9 566.7L500.5 564.5M504.9 566.7L508.5 564.5M512.9 566.7L516.5 564.5M520.9 566.7L524.5 564.5M528.9 566.7L532.5 564.5M536.9 566.7L540.5 564.5M544.9 566.7L548.5 564.5M552.9 566.7L556.5 564.5M560.9 566.7L564.5 564.5M568.9 566.7L572.5 564.5M576.9 566.7L580.5 564.5M584.9 566.7L588.5 564.5M592.9 566.7L596.5 564.5M600.9 566.7L604.5 564.5M608.9 566.7L612.5 564.5M616.9 566.7L620.5 564.5M624.9 566.7L628.5 564.5M632.9 566.7L636.5 564.5M640.9 566.7L644.5 564.5M648.9 566.7L652.5 564.5M656.9 566.7L660.5 564.5M664.9 566.7L668.5 564.5M672.9 566.7L676.5 564.5M680.9 566.7L684.5 564.5M688.9 566.7L692.5 564.5M696.9 566.7L700.5 564.5M704.9 566.7L708.5 564.5M712.9 566.7L716.5 564.5M720.9 566.7L724.5 564.5M728.9 566.7L732.5 564.5M736.9 566.7L740.5 564.5M744.9 566.7L748.5 564.5M752.9 566.7L756.5 564.5M760.9 566.7L764.5 564.5M768.9 566.7L772.5 564.5M776.9 566.7L780.5 564.5M784.9 566.7L788.5 564.5M792.9 566.7L796.5 564.5M800.9 566.7L804.5 564.5M808.9 566.7L812.5 564.5"/></g><g class="bl"><path stroke="#a00000" stroke-width="6" fill="none" stroke-linecap="round" stroke-linejoin="round" d="M-5 135H764.4L789 159.6"/><path stroke="#a00000" stroke-width="6" fill="none" d="M-5 149H754L830 225"/><path stroke="#a00000" stroke-width="6" fill="none" d="M-5 163H748L830 245"/><rect x="129.5" y="7.65" width="10" height="11" fill="#a00000"/><rect x="126" y="4.65" width="17" height="17" fill="none" stroke="#a00000" stroke-width="1"/><rect x="129.5" y="45.15" width="10" height="11" fill="#a00000"/><rect x="126" y="42.15" width="17" height="17" fill="none" stroke="#a00000" stroke-width="1"/><rect x="343.8" y="7.65" width="10" height="11" fill="#a00000"/><rect x="340.3" y="4.65" width="17" height="17" fill="none" stroke="#a00000" stroke-width="1"/><rect x="343.8" y="45.15" width="10" height="11" fill="#a00000"/><rect x="340.3" y="42.15" width="17" height="17" fill="none" stroke="#a00000" stroke-width="1"/><rect x="168.25" y="112" width="10" height="11" fill="#a00000"/><rect x="164.75" y="109" width="17" height="17" fill="none" stroke="#a00000" stroke-width="1"/><rect x="205.75" y="112" width="10" height="11" fill="#a00000"/><rect x="202.25" y="109" width="17" height="17" fill="none" stroke="#a00000" stroke-width="1"/><rect x="239.25" y="112" width="10" height="11" fill="#a00000"/><rect x="235.75" y="109" width="17" height="17" fill="none" stroke="#a00000" stroke-width="1"/><rect x="276.75" y="112" width="10" height="11" fill="#a00000"/><rect x="273.25" y="109" width="17" height="17" fill="none" stroke="#a00000" stroke-width="1"/><rect x="317.25" y="355.1" width="10" height="11" fill="#a00000"/><rect x="313.75" y="352.1" width="17" height="17" fill="none" stroke="#a00000" stroke-width="1"/><rect x="354.75" y="355.1" width="10" height="11" fill="#a00000"/><rect x="351.25" y="352.1" width="17" height="17" fill="none" stroke="#a00000" stroke-width="1"/><rect x="349.5" y="290.25" width="10" height="11" fill="#a00000"/><rect x="346" y="287.25" width="17" height="17" fill="none" stroke="#a00000" stroke-width="1"/><rect x="387" y="290.25" width="10" height="11" fill="#a00000"/><rect x="383.5" y="287.25" width="17" height="17" fill="none" stroke="#a00000" stroke-width="1"/><rect x="678.5" y="354.5" width="10" height="11" fill="#a00000"/><rect x="675" y="351.5" width="17" height="17" fill="none" stroke="#a00000" stroke-width="1"/><rect x="716" y="354.5" width="10" height="11" fill="#a00000"/><rect x="712.5" y="351.5" width="17" height="17" fill="none" stroke="#a00000" stroke-width="1"/><rect x="753.5" y="268.5" width="10" height="11" fill="#a00000"/><rect x="750" y="265.5" width="17" height="17" fill="none" stroke="#a00000" stroke-width="1"/><rect x="791" y="268.5" width="10" height="11" fill="#a00000"/><rect x="787.5" y="265.5" width="17" height="17" fill="none" stroke="#a00000" stroke-width="1"/></g><g class="bl"><rect x="-5" y="183" width="753" height="11" fill="#00a000"/><rect x="20.21" y="208" width="53.57" height="11" fill="#00a000"/><rect x="234.5" y="208" width="133.93" height="11" fill="#00a000"/><rect x="448.79" y="208" width="26.79" height="11" fill="#00a000"/><rect x="555.93" y="208" width="107.14" height="11" fill="#00a000"/><rect x="118" y="398" width="616" height="11" fill="#00a000"/><rect x="47" y="422.8" width="187.5" height="11" fill="#00a000"/><rect x="288.07" y="422.8" width="160.71" height="11" fill="#00a000"/><rect x="555.93" y="422.8" width="107.14" height="11" fill="#00a000"/><rect x="529.4" y="-6" width="107.2" height="11" fill="#00a000"/></g><g class="bl"><circle cx="91.71" cy="189.3" r="13.5" fill="#848400"/><circle cx="91.71" cy="189.3" r="16.8" fill="none" stroke="#909000" stroke-width="1"/><circle cx="20.21" cy="217.5" r="13.5" fill="#848400"/><circle cx="20.21" cy="217.5" r="16.8" fill="none" stroke="#909000" stroke-width="1"/><circle cx="145.29" cy="189.3" r="13.5" fill="#848400"/><circle cx="145.29" cy="189.3" r="16.8" fill="none" stroke="#909000" stroke-width="1"/><circle cx="73.79" cy="217.5" r="13.5" fill="#848400"/><circle cx="73.79" cy="217.5" r="16.8" fill="none" stroke="#909000" stroke-width="1"/><circle cx="306" cy="189.3" r="13.5" fill="#848400"/><circle cx="306" cy="189.3" r="16.8" fill="none" stroke="#909000" stroke-width="1"/><circle cx="234.5" cy="217.5" r="13.5" fill="#848400"/><circle cx="234.5" cy="217.5" r="16.8" fill="none" stroke="#909000" stroke-width="1"/><circle cx="332.79" cy="189.3" r="13.5" fill="#848400"/><circle cx="332.79" cy="189.3" r="16.8" fill="none" stroke="#909000" stroke-width="1"/><circle cx="261.29" cy="217.5" r="13.5" fill="#848400"/><circle cx="261.29" cy="217.5" r="16.8" fill="none" stroke="#909000" stroke-width="1"/><circle cx="359.57" cy="189.3" r="13.5" fill="#848400"/><circle cx="359.57" cy="189.3" r="16.8" fill="none" stroke="#909000" stroke-width="1"/><circle cx="288.07" cy="217.5" r="13.5" fill="#848400"/><circle cx="288.07" cy="217.5" r="16.8" fill="none" stroke="#909000" stroke-width="1"/><circle cx="386.36" cy="189.3" r="13.5" fill="#848400"/><circle cx="386.36" cy="189.3" r="16.8" fill="none" stroke="#909000" stroke-width="1"/><circle cx="314.86" cy="217.5" r="13.5" fill="#848400"/><circle cx="314.86" cy="217.5" r="16.8" fill="none" stroke="#909000" stroke-width="1"/><circle cx="413.14" cy="189.3" r="13.5" fill="#848400"/><circle cx="413.14" cy="189.3" r="16.8" fill="none" stroke="#909000" stroke-width="1"/><circle cx="341.64" cy="217.5" r="13.5" fill="#848400"/><circle cx="341.64" cy="217.5" r="16.8" fill="none" stroke="#909000" stroke-width="1"/><circle cx="439.93" cy="189.3" r="13.5" fill="#848400"/><circle cx="439.93" cy="189.3" r="16.8" fill="none" stroke="#909000" stroke-width="1"/><circle cx="368.43" cy="217.5" r="13.5" fill="#848400"/><circle cx="368.43" cy="217.5" r="16.8" fill="none" stroke="#909000" stroke-width="1"/><circle cx="520.29" cy="189.3" r="13.5" fill="#848400"/><circle cx="520.29" cy="189.3" r="16.8" fill="none" stroke="#909000" stroke-width="1"/><circle cx="448.79" cy="217.5" r="13.5" fill="#848400"/><circle cx="448.79" cy="217.5" r="16.8" fill="none" stroke="#909000" stroke-width="1"/><circle cx="547.07" cy="189.3" r="13.5" fill="#848400"/><circle cx="547.07" cy="189.3" r="16.8" fill="none" stroke="#909000" stroke-width="1"/><circle cx="475.57" cy="217.5" r="13.5" fill="#848400"/><circle cx="475.57" cy="217.5" r="16.8" fill="none" stroke="#909000" stroke-width="1"/><circle cx="627.43" cy="189.3" r="13.5" fill="#848400"/><circle cx="627.43" cy="189.3" r="16.8" fill="none" stroke="#909000" stroke-width="1"/><circle cx="555.93" cy="217.5" r="13.5" fill="#848400"/><circle cx="555.93" cy="217.5" r="16.8" fill="none" stroke="#909000" stroke-width="1"/><circle cx="654.21" cy="189.3" r="13.5" fill="#848400"/><circle cx="654.21" cy="189.3" r="16.8" fill="none" stroke="#909000" stroke-width="1"/><circle cx="582.71" cy="217.5" r="13.5" fill="#848400"/><circle cx="582.71" cy="217.5" r="16.8" fill="none" stroke="#909000" stroke-width="1"/><circle cx="681" cy="189.3" r="13.5" fill="#848400"/><circle cx="681" cy="189.3" r="16.8" fill="none" stroke="#909000" stroke-width="1"/><circle cx="609.5" cy="217.5" r="13.5" fill="#848400"/><circle cx="609.5" cy="217.5" r="16.8" fill="none" stroke="#909000" stroke-width="1"/><circle cx="707.79" cy="189.3" r="13.5" fill="#848400"/><circle cx="707.79" cy="189.3" r="16.8" fill="none" stroke="#909000" stroke-width="1"/><circle cx="636.29" cy="217.5" r="13.5" fill="#848400"/><circle cx="636.29" cy="217.5" r="16.8" fill="none" stroke="#909000" stroke-width="1"/><circle cx="734.57" cy="189.3" r="13.5" fill="#848400"/><circle cx="734.57" cy="189.3" r="16.8" fill="none" stroke="#909000" stroke-width="1"/><circle cx="663.07" cy="217.5" r="13.5" fill="#848400"/><circle cx="663.07" cy="217.5" r="16.8" fill="none" stroke="#909000" stroke-width="1"/><circle cx="38.14" cy="403.6" r="13.5" fill="#848400"/><circle cx="38.14" cy="403.6" r="16.8" fill="none" stroke="#909000" stroke-width="1"/><circle cx="64.93" cy="403.6" r="13.5" fill="#848400"/><circle cx="64.93" cy="403.6" r="16.8" fill="none" stroke="#909000" stroke-width="1"/><circle cx="118.5" cy="403.6" r="13.5" fill="#848400"/><circle cx="118.5" cy="403.6" r="16.8" fill="none" stroke="#909000" stroke-width="1"/><circle cx="145.29" cy="403.6" r="13.5" fill="#848400"/><circle cx="145.29" cy="403.6" r="16.8" fill="none" stroke="#909000" stroke-width="1"/><circle cx="172.07" cy="403.6" r="13.5" fill="#848400"/><circle cx="172.07" cy="403.6" r="16.8" fill="none" stroke="#909000" stroke-width="1"/><circle cx="198.86" cy="403.6" r="13.5" fill="#848400"/><circle cx="198.86" cy="403.6" r="16.8" fill="none" stroke="#909000" stroke-width="1"/><circle cx="225.64" cy="403.6" r="13.5" fill="#848400"/><circle cx="225.64" cy="403.6" r="16.8" fill="none" stroke="#909000" stroke-width="1"/><circle cx="252.43" cy="403.6" r="13.5" fill="#848400"/><circle cx="252.43" cy="403.6" r="16.8" fill="none" stroke="#909000" stroke-width="1"/><circle cx="279.21" cy="403.6" r="13.5" fill="#848400"/><circle cx="279.21" cy="403.6" r="16.8" fill="none" stroke="#909000" stroke-width="1"/><circle cx="306" cy="403.6" r="13.5" fill="#848400"/><circle cx="306" cy="403.6" r="16.8" fill="none" stroke="#909000" stroke-width="1"/><circle cx="359.57" cy="403.6" r="13.5" fill="#848400"/><circle cx="359.57" cy="403.6" r="16.8" fill="none" stroke="#909000" stroke-width="1"/><circle cx="386.36" cy="403.6" r="13.5" fill="#848400"/><circle cx="386.36" cy="403.6" r="16.8" fill="none" stroke="#909000" stroke-width="1"/><circle cx="413.14" cy="403.6" r="13.5" fill="#848400"/><circle cx="413.14" cy="403.6" r="16.8" fill="none" stroke="#909000" stroke-width="1"/><circle cx="439.93" cy="403.6" r="13.5" fill="#848400"/><circle cx="439.93" cy="403.6" r="16.8" fill="none" stroke="#909000" stroke-width="1"/><circle cx="466.71" cy="403.6" r="13.5" fill="#848400"/><circle cx="466.71" cy="403.6" r="16.8" fill="none" stroke="#909000" stroke-width="1"/><circle cx="493.5" cy="403.6" r="13.5" fill="#848400"/><circle cx="493.5" cy="403.6" r="16.8" fill="none" stroke="#909000" stroke-width="1"/><circle cx="520.29" cy="403.6" r="13.5" fill="#848400"/><circle cx="520.29" cy="403.6" r="16.8" fill="none" stroke="#909000" stroke-width="1"/><circle cx="627.43" cy="403.6" r="13.5" fill="#848400"/><circle cx="627.43" cy="403.6" r="16.8" fill="none" stroke="#909000" stroke-width="1"/><circle cx="654.21" cy="403.6" r="13.5" fill="#848400"/><circle cx="654.21" cy="403.6" r="16.8" fill="none" stroke="#909000" stroke-width="1"/><circle cx="681" cy="403.6" r="13.5" fill="#848400"/><circle cx="681" cy="403.6" r="16.8" fill="none" stroke="#909000" stroke-width="1"/><circle cx="707.79" cy="403.6" r="13.5" fill="#848400"/><circle cx="707.79" cy="403.6" r="16.8" fill="none" stroke="#909000" stroke-width="1"/><circle cx="734.57" cy="403.6" r="13.5" fill="#848400"/><circle cx="734.57" cy="403.6" r="16.8" fill="none" stroke="#909000" stroke-width="1"/><circle cx="47" cy="431.8" r="13.5" fill="#848400"/><circle cx="47" cy="431.8" r="16.8" fill="none" stroke="#909000" stroke-width="1"/><circle cx="73.79" cy="431.8" r="13.5" fill="#848400"/><circle cx="73.79" cy="431.8" r="16.8" fill="none" stroke="#909000" stroke-width="1"/><circle cx="100.57" cy="431.8" r="13.5" fill="#848400"/><circle cx="100.57" cy="431.8" r="16.8" fill="none" stroke="#909000" stroke-width="1"/><circle cx="127.36" cy="431.8" r="13.5" fill="#848400"/><circle cx="127.36" cy="431.8" r="16.8" fill="none" stroke="#909000" stroke-width="1"/><circle cx="154.14" cy="431.8" r="13.5" fill="#848400"/><circle cx="154.14" cy="431.8" r="16.8" fill="none" stroke="#909000" stroke-width="1"/><circle cx="180.93" cy="431.8" r="13.5" fill="#848400"/><circle cx="180.93" cy="431.8" r="16.8" fill="none" stroke="#909000" stroke-width="1"/><circle cx="207.71" cy="431.8" r="13.5" fill="#848400"/><circle cx="207.71" cy="431.8" r="16.8" fill="none" stroke="#909000" stroke-width="1"/><circle cx="234.5" cy="431.8" r="13.5" fill="#848400"/><circle cx="234.5" cy="431.8" r="16.8" fill="none" stroke="#909000" stroke-width="1"/><circle cx="288.07" cy="431.8" r="13.5" fill="#848400"/><circle cx="288.07" cy="431.8" r="16.8" fill="none" stroke="#909000" stroke-width="1"/><circle cx="314.86" cy="431.8" r="13.5" fill="#848400"/><circle cx="314.86" cy="431.8" r="16.8" fill="none" stroke="#909000" stroke-width="1"/><circle cx="341.64" cy="431.8" r="13.5" fill="#848400"/><circle cx="341.64" cy="431.8" r="16.8" fill="none" stroke="#909000" stroke-width="1"/><circle cx="368.43" cy="431.8" r="13.5" fill="#848400"/><circle cx="368.43" cy="431.8" r="16.8" fill="none" stroke="#909000" stroke-width="1"/><circle cx="395.21" cy="431.8" r="13.5" fill="#848400"/><circle cx="395.21" cy="431.8" r="16.8" fill="none" stroke="#909000" stroke-width="1"/><circle cx="422" cy="431.8" r="13.5" fill="#848400"/><circle cx="422" cy="431.8" r="16.8" fill="none" stroke="#909000" stroke-width="1"/><circle cx="448.79" cy="431.8" r="13.5" fill="#848400"/><circle cx="448.79" cy="431.8" r="16.8" fill="none" stroke="#909000" stroke-width="1"/><circle cx="555.93" cy="431.8" r="13.5" fill="#848400"/><circle cx="555.93" cy="431.8" r="16.8" fill="none" stroke="#909000" stroke-width="1"/><circle cx="582.71" cy="431.8" r="13.5" fill="#848400"/><circle cx="582.71" cy="431.8" r="16.8" fill="none" stroke="#909000" stroke-width="1"/><circle cx="609.5" cy="431.8" r="13.5" fill="#848400"/><circle cx="609.5" cy="431.8" r="16.8" fill="none" stroke="#909000" stroke-width="1"/><circle cx="636.29" cy="431.8" r="13.5" fill="#848400"/><circle cx="636.29" cy="431.8" r="16.8" fill="none" stroke="#909000" stroke-width="1"/><circle cx="663.07" cy="431.8" r="13.5" fill="#848400"/><circle cx="663.07" cy="431.8" r="16.8" fill="none" stroke="#909000" stroke-width="1"/><circle cx="181.3" cy="3" r="13.5" fill="#848400"/><circle cx="181.3" cy="3" r="16.8" fill="none" stroke="#909000" stroke-width="1"/><circle cx="395.5" cy="3" r="13.5" fill="#848400"/><circle cx="395.5" cy="3" r="16.8" fill="none" stroke="#909000" stroke-width="1"/><circle cx="529.4" cy="3" r="13.5" fill="#848400"/><circle cx="529.4" cy="3" r="16.8" fill="none" stroke="#909000" stroke-width="1"/><circle cx="636.6" cy="3" r="13.5" fill="#848400"/><circle cx="636.6" cy="3" r="16.8" fill="none" stroke="#909000" stroke-width="1"/><circle cx="9.7" cy="31.6" r="26.3" fill="none" stroke="#909000" stroke-width="1"/><circle cx="224" cy="31.6" r="26.3" fill="none" stroke="#909000" stroke-width="1"/><circle cx="438.3" cy="31.6" r="26.3" fill="none" stroke="#909000" stroke-width="1"/><circle cx="572" cy="31.6" r="26.3" fill="none" stroke="#909000" stroke-width="1"/><circle cx="679.5" cy="31.6" r="26.3" fill="none" stroke="#909000" stroke-width="1"/><ellipse cx="810" cy="420.5" rx="21" ry="38" fill="none" stroke="#909000" stroke-width="1"/><circle cx="9.5" cy="460" r="26.3" fill="none" stroke="#909000" stroke-width="1"/><circle cx="36" cy="460" r="10.5" fill="none" stroke="#848400" stroke-width="1"/><rect x="36.75" y="220.05" width="105.5" height="52.5" rx="26.25" fill="none" stroke="#909000" stroke-width="1"/><rect x="250.75" y="220.05" width="186.3" height="52.5" rx="26.25" fill="none" stroke="#909000" stroke-width="1"/><rect x="466.3" y="220.6" width="77.9" height="51.4" rx="25.7" fill="none" stroke="#909000" stroke-width="1"/><rect x="571.75" y="220.05" width="159.7" height="52.5" rx="26.25" fill="none" stroke="#909000" stroke-width="1"/><rect x="63.75" y="433.75" width="239.8" height="52.5" rx="26.25" fill="none" stroke="#909000" stroke-width="1"/><rect x="303.75" y="433.75" width="213.5" height="52.5" rx="26.25" fill="none" stroke="#909000" stroke-width="1"/><rect x="571.75" y="433.75" width="159.7" height="52.5" rx="26.25" fill="none" stroke="#909000" stroke-width="1"/></g><g><circle cx="9.7" cy="31.6" r="23" fill="#ffff00"/><circle cx="224" cy="31.6" r="23" fill="#ffff00"/><circle cx="438.3" cy="31.6" r="23" fill="#ffff00"/><circle cx="572" cy="31.6" r="23" fill="#ffff00"/><circle cx="679.5" cy="31.6" r="23" fill="#ffff00"/><ellipse cx="810" cy="420.5" rx="16.7" ry="34" fill="#ffff00"/><circle cx="9.5" cy="460" r="23" fill="#ffff00"/><rect x="40.25" y="223.55" width="98.5" height="45.5" rx="22.75" fill="#ffff00"/><rect x="254.25" y="223.55" width="179.3" height="45.5" rx="22.75" fill="#ffff00"/><rect x="469.8" y="224.1" width="70.9" height="44.4" rx="22.2" fill="#ffff00"/><rect x="575.25" y="223.55" width="152.7" height="45.5" rx="22.75" fill="#ffff00"/><rect x="67.25" y="437.25" width="232.8" height="45.5" rx="22.75" fill="#ffff00"/><rect x="307.25" y="437.25" width="206.5" height="45.5" rx="22.75" fill="#ffff00"/><rect x="575.25" y="437.25" width="152.7" height="45.5" rx="22.75" fill="#ffff00"/></g><g class="bl"><path d="M71.67 235.75L67.83 233.72L63.50 233.50L60.33 235.07L58.83 238.90L60.17 242.05L62.83 244.07L67.83 245.43L70.33 247.90L71.33 251.50L70.33 254.43L67.17 256.00L59.00 256.00M76.50 233.50L76.50 256.00L88.17 256.00M92.83 241.60L93.35 238.50L94.83 235.87L97.05 234.12L99.67 233.50L102.28 234.12L104.50 235.87L105.98 238.50L106.50 241.60L106.50 247.90L105.98 251.00L104.50 253.63L102.28 255.38L99.67 256.00L97.05 255.38L94.83 253.63L93.35 251.00L92.83 247.90L92.83 241.60M111.17 233.50L124.50 233.50M117.83 233.50L117.83 256.00" fill="none" stroke="#ffffff" stroke-width="2.6" stroke-linecap="round" stroke-linejoin="round"/><path d="M309.74 225.55L302.83 221.91L295.02 221.50L289.31 224.34L286.60 231.22L289.01 236.89L293.81 240.53L302.83 242.97L307.34 247.42L309.14 253.90L307.34 259.17L301.63 262.00L286.90 262.00M318.45 221.50L318.45 262.00L339.49 262.00M347.90 236.08L348.84 230.50L351.51 225.77L355.51 222.61L360.22 221.50L364.94 222.61L368.94 225.77L371.61 230.50L372.55 236.08L372.55 247.42L371.61 253.00L368.94 257.73L364.94 260.89L360.22 262.00L355.51 260.89L351.51 257.73L348.84 253.00L347.90 247.42L347.90 236.08M380.96 221.50L405.00 221.50M392.98 221.50L392.98 262.00" fill="none" stroke="#ffffff" stroke-width="4.2" stroke-linecap="round" stroke-linejoin="round"/><path d="M622.35 228.45L616.42 225.34L609.73 225.00L604.83 227.41L602.52 233.28L604.58 238.11L608.70 241.22L616.42 243.28L620.29 247.08L621.83 252.60L620.29 257.08L615.39 259.50L602.77 259.50M629.82 225.00L629.82 259.50L647.85 259.50M655.06 237.42L655.86 232.67L658.15 228.64L661.58 225.95L665.62 225.00L669.66 225.95L673.09 228.64L675.38 232.67L676.18 237.42L676.18 247.08L675.38 251.83L673.09 255.86L669.66 258.55L665.62 259.50L661.58 258.55L658.15 255.86L655.86 251.83L655.06 247.08L655.06 237.42M683.39 225.00L704.00 225.00M693.70 225.00L693.70 259.50" fill="none" stroke="#ffffff" stroke-width="3.6" stroke-linecap="round" stroke-linejoin="round"/><path d="M146.94 440.85L140.56 437.38L133.33 437.00L128.06 439.69L125.56 446.24L127.78 451.63L132.22 455.10L140.56 457.40L144.72 461.64L146.39 467.80L144.72 472.81L139.44 475.50L125.83 475.50M155.00 437.00L155.00 475.50L174.44 475.50M182.22 450.86L183.09 445.56L185.56 441.06L189.25 438.06L193.61 437.00L197.97 438.06L201.66 441.06L204.13 445.56L205.00 450.86L205.00 461.64L204.13 466.94L201.66 471.44L197.97 474.44L193.61 475.50L189.25 474.44L185.56 471.44L183.09 466.94L182.22 461.64L182.22 450.86M212.78 437.00L235.00 437.00M223.89 437.00L223.89 475.50" fill="none" stroke="#ffffff" stroke-width="4.0" stroke-linecap="round" stroke-linejoin="round"/><path d="M375.14 440.35L368.70 436.88L361.41 436.50L356.08 439.19L353.56 445.74L355.80 451.13L360.29 454.60L368.70 456.90L372.90 461.14L374.58 467.30L372.90 472.31L367.58 475.00L353.84 475.00M383.27 436.50L383.27 475.00L402.89 475.00M410.74 450.36L411.62 445.06L414.11 440.56L417.84 437.56L422.23 436.50L426.63 437.56L430.36 440.56L432.85 445.06L433.73 450.36L433.73 461.14L432.85 466.44L430.36 470.94L426.63 473.94L422.23 475.00L417.84 473.94L414.11 470.94L411.62 466.44L410.74 461.14L410.74 450.36M441.58 436.50L464.00 436.50M452.79 436.50L452.79 475.00" fill="none" stroke="#ffffff" stroke-width="4.0" stroke-linecap="round" stroke-linejoin="round"/><path d="M622.35 442.45L616.42 439.35L609.73 439.00L604.83 441.42L602.52 447.28L604.58 452.11L608.70 455.21L616.42 457.29L620.29 461.08L621.83 466.60L620.29 471.08L615.39 473.50L602.77 473.50M629.82 439.00L629.82 473.50L647.85 473.50M655.06 451.42L655.86 446.67L658.15 442.64L661.58 439.95L665.62 439.00L669.66 439.95L673.09 442.64L675.38 446.67L676.18 451.42L676.18 461.08L675.38 465.83L673.09 469.86L669.66 472.55L665.62 473.50L661.58 472.55L658.15 469.86L655.86 465.83L655.06 461.08L655.06 451.42M683.39 439.00L704.00 439.00M693.70 439.00L693.70 473.50" fill="none" stroke="#ffffff" stroke-width="3.6" stroke-linecap="round" stroke-linejoin="round"/><path d="M-5.80 26.40L-5.80 36.00M0.62 26.40L0.62 36.00M-5.80 31.01L0.62 31.01M2.87 28.70L4.64 26.40L7.53 26.40L9.30 28.51L9.30 34.08L7.69 36.00L4.48 36.00L2.87 34.08L2.87 28.70M11.55 26.40L11.55 36.00L17.17 36.00M25.20 26.40L19.42 26.40L19.42 36.00L25.20 36.00M19.42 31.01L23.27 31.01" fill="none" stroke="#ffffff" stroke-width="1.3" stroke-linecap="round" stroke-linejoin="round"/><path d="M208.50 26.40L208.50 36.00M214.92 26.40L214.92 36.00M208.50 31.01L214.92 31.01M217.17 28.70L218.94 26.40L221.83 26.40L223.60 28.51L223.60 34.08L221.99 36.00L218.78 36.00L217.17 34.08L217.17 28.70M225.85 26.40L225.85 36.00L231.47 36.00M239.50 26.40L233.72 26.40L233.72 36.00L239.50 36.00M233.72 31.01L237.57 31.01" fill="none" stroke="#ffffff" stroke-width="1.3" stroke-linecap="round" stroke-linejoin="round"/><path d="M422.80 26.40L422.80 36.00M429.22 26.40L429.22 36.00M422.80 31.01L429.22 31.01M431.47 28.70L433.24 26.40L436.13 26.40L437.90 28.51L437.90 34.08L436.29 36.00L433.08 36.00L431.47 34.08L431.47 28.70M440.15 26.40L440.15 36.00L445.77 36.00M453.80 26.40L448.02 26.40L448.02 36.00L453.80 36.00M448.02 31.01L451.87 31.01" fill="none" stroke="#ffffff" stroke-width="1.3" stroke-linecap="round" stroke-linejoin="round"/><path d="M556.50 26.40L556.50 36.00M562.92 26.40L562.92 36.00M556.50 31.01L562.92 31.01M565.17 28.70L566.94 26.40L569.83 26.40L571.60 28.51L571.60 34.08L569.99 36.00L566.78 36.00L565.17 34.08L565.17 28.70M573.85 26.40L573.85 36.00L579.47 36.00M587.50 26.40L581.72 26.40L581.72 36.00L587.50 36.00M581.72 31.01L585.57 31.01" fill="none" stroke="#ffffff" stroke-width="1.3" stroke-linecap="round" stroke-linejoin="round"/><path d="M664.00 26.40L664.00 36.00M670.42 26.40L670.42 36.00M664.00 31.01L670.42 31.01M672.67 28.70L674.44 26.40L677.33 26.40L679.10 28.51L679.10 34.08L677.49 36.00L674.28 36.00L672.67 34.08L672.67 28.70M681.35 26.40L681.35 36.00L686.97 36.00M695.00 26.40L689.22 26.40L689.22 36.00L695.00 36.00M689.22 31.01L693.07 31.01" fill="none" stroke="#ffffff" stroke-width="1.3" stroke-linecap="round" stroke-linejoin="round"/><path d="M-6.00 454.80L-6.00 464.40M0.42 454.80L0.42 464.40M-6.00 459.41L0.42 459.41M2.67 457.10L4.44 454.80L7.33 454.80L9.10 456.91L9.10 462.48L7.49 464.40L4.28 464.40L2.67 462.48L2.67 457.10M11.35 454.80L11.35 464.40L16.97 464.40M25.00 454.80L19.22 454.80L19.22 464.40L25.00 464.40M19.22 459.41L23.07 459.41" fill="none" stroke="#ffffff" stroke-width="1.3" stroke-linecap="round" stroke-linejoin="round"/></g><g><circle cx="91.71" cy="189.3" r="8" fill="#000"/><circle cx="20.21" cy="217.5" r="8" fill="#000"/><circle cx="145.29" cy="189.3" r="8" fill="#000"/><circle cx="73.79" cy="217.5" r="8" fill="#000"/><circle cx="306" cy="189.3" r="8" fill="#000"/><circle cx="234.5" cy="217.5" r="8" fill="#000"/><circle cx="332.79" cy="189.3" r="8" fill="#000"/><circle cx="261.29" cy="217.5" r="8" fill="#000"/><circle cx="359.57" cy="189.3" r="8" fill="#000"/><circle cx="288.07" cy="217.5" r="8" fill="#000"/><circle cx="386.36" cy="189.3" r="8" fill="#000"/><circle cx="314.86" cy="217.5" r="8" fill="#000"/><circle cx="413.14" cy="189.3" r="8" fill="#000"/><circle cx="341.64" cy="217.5" r="8" fill="#000"/><circle cx="439.93" cy="189.3" r="8" fill="#000"/><circle cx="368.43" cy="217.5" r="8" fill="#000"/><circle cx="520.29" cy="189.3" r="8" fill="#000"/><circle cx="448.79" cy="217.5" r="8" fill="#000"/><circle cx="547.07" cy="189.3" r="8" fill="#000"/><circle cx="475.57" cy="217.5" r="8" fill="#000"/><circle cx="627.43" cy="189.3" r="8" fill="#000"/><circle cx="555.93" cy="217.5" r="8" fill="#000"/><circle cx="654.21" cy="189.3" r="8" fill="#000"/><circle cx="582.71" cy="217.5" r="8" fill="#000"/><circle cx="681" cy="189.3" r="8" fill="#000"/><circle cx="609.5" cy="217.5" r="8" fill="#000"/><circle cx="707.79" cy="189.3" r="8" fill="#000"/><circle cx="636.29" cy="217.5" r="8" fill="#000"/><circle cx="734.57" cy="189.3" r="8" fill="#000"/><circle cx="663.07" cy="217.5" r="8" fill="#000"/><circle cx="38.14" cy="403.6" r="8" fill="#000"/><circle cx="64.93" cy="403.6" r="8" fill="#000"/><circle cx="118.5" cy="403.6" r="8" fill="#000"/><circle cx="145.29" cy="403.6" r="8" fill="#000"/><circle cx="172.07" cy="403.6" r="8" fill="#000"/><circle cx="198.86" cy="403.6" r="8" fill="#000"/><circle cx="225.64" cy="403.6" r="8" fill="#000"/><circle cx="252.43" cy="403.6" r="8" fill="#000"/><circle cx="279.21" cy="403.6" r="8" fill="#000"/><circle cx="306" cy="403.6" r="8" fill="#000"/><circle cx="359.57" cy="403.6" r="8" fill="#000"/><circle cx="386.36" cy="403.6" r="8" fill="#000"/><circle cx="413.14" cy="403.6" r="8" fill="#000"/><circle cx="439.93" cy="403.6" r="8" fill="#000"/><circle cx="466.71" cy="403.6" r="8" fill="#000"/><circle cx="493.5" cy="403.6" r="8" fill="#000"/><circle cx="520.29" cy="403.6" r="8" fill="#000"/><circle cx="627.43" cy="403.6" r="8" fill="#000"/><circle cx="654.21" cy="403.6" r="8" fill="#000"/><circle cx="681" cy="403.6" r="8" fill="#000"/><circle cx="707.79" cy="403.6" r="8" fill="#000"/><circle cx="734.57" cy="403.6" r="8" fill="#000"/><circle cx="47" cy="431.8" r="8" fill="#000"/><circle cx="73.79" cy="431.8" r="8" fill="#000"/><circle cx="100.57" cy="431.8" r="8" fill="#000"/><circle cx="127.36" cy="431.8" r="8" fill="#000"/><circle cx="154.14" cy="431.8" r="8" fill="#000"/><circle cx="180.93" cy="431.8" r="8" fill="#000"/><circle cx="207.71" cy="431.8" r="8" fill="#000"/><circle cx="234.5" cy="431.8" r="8" fill="#000"/><circle cx="288.07" cy="431.8" r="8" fill="#000"/><circle cx="314.86" cy="431.8" r="8" fill="#000"/><circle cx="341.64" cy="431.8" r="8" fill="#000"/><circle cx="368.43" cy="431.8" r="8" fill="#000"/><circle cx="395.21" cy="431.8" r="8" fill="#000"/><circle cx="422" cy="431.8" r="8" fill="#000"/><circle cx="448.79" cy="431.8" r="8" fill="#000"/><circle cx="555.93" cy="431.8" r="8" fill="#000"/><circle cx="582.71" cy="431.8" r="8" fill="#000"/><circle cx="609.5" cy="431.8" r="8" fill="#000"/><circle cx="636.29" cy="431.8" r="8" fill="#000"/><circle cx="663.07" cy="431.8" r="8" fill="#000"/><circle cx="181.3" cy="3" r="8" fill="#000"/><circle cx="395.5" cy="3" r="8" fill="#000"/><circle cx="529.4" cy="3" r="8" fill="#000"/><circle cx="636.6" cy="3" r="8" fill="#000"/><circle cx="9.7" cy="31.6" r="9.5" fill="#000"/><circle cx="224" cy="31.6" r="9.5" fill="#000"/><circle cx="438.3" cy="31.6" r="9.5" fill="#000"/><circle cx="572" cy="31.6" r="9.5" fill="#000"/><circle cx="679.5" cy="31.6" r="9.5" fill="#000"/><circle cx="9.5" cy="460" r="9.5" fill="#000"/><circle cx="36" cy="460" r="9.5" fill="#000"/><circle cx="63" cy="246.3" r="9.5" fill="#000"/><circle cx="116" cy="246.3" r="9.5" fill="#000"/><circle cx="277" cy="246.3" r="9.5" fill="#000"/><circle cx="303.79" cy="246.3" r="9.5" fill="#000"/><circle cx="330.57" cy="246.3" r="9.5" fill="#000"/><circle cx="357.36" cy="246.3" r="9.5" fill="#000"/><circle cx="384.14" cy="246.3" r="9.5" fill="#000"/><circle cx="410.93" cy="246.3" r="9.5" fill="#000"/><circle cx="492" cy="246.3" r="9.5" fill="#000"/><circle cx="518.5" cy="246.3" r="9.5" fill="#000"/><circle cx="598" cy="246.3" r="9.5" fill="#000"/><circle cx="624.79" cy="246.3" r="9.5" fill="#000"/><circle cx="651.57" cy="246.3" r="9.5" fill="#000"/><circle cx="678.36" cy="246.3" r="9.5" fill="#000"/><circle cx="705.14" cy="246.3" r="9.5" fill="#000"/><circle cx="90" cy="460" r="9.5" fill="#000"/><circle cx="116.79" cy="460" r="9.5" fill="#000"/><circle cx="143.57" cy="460" r="9.5" fill="#000"/><circle cx="170.36" cy="460" r="9.5" fill="#000"/><circle cx="197.14" cy="460" r="9.5" fill="#000"/><circle cx="223.93" cy="460" r="9.5" fill="#000"/><circle cx="250.71" cy="460" r="9.5" fill="#000"/><circle cx="277.5" cy="460" r="9.5" fill="#000"/><circle cx="330" cy="460" r="9.5" fill="#000"/><circle cx="356.79" cy="460" r="9.5" fill="#000"/><circle cx="383.57" cy="460" r="9.5" fill="#000"/><circle cx="410.36" cy="460" r="9.5" fill="#000"/><circle cx="437.14" cy="460" r="9.5" fill="#000"/><circle cx="463.93" cy="460" r="9.5" fill="#000"/><circle cx="490.71" cy="460" r="9.5" fill="#000"/><circle cx="598" cy="460" r="9.5" fill="#000"/><circle cx="624.79" cy="460" r="9.5" fill="#000"/><circle cx="651.57" cy="460" r="9.5" fill="#000"/><circle cx="678.36" cy="460" r="9.5" fill="#000"/><circle cx="705.14" cy="460" r="9.5" fill="#000"/></g><g class="bl"><path d="M423.80 38.80L423.80 22.80L430.23 33.68L436.66 22.80L436.66 38.80M440.84 22.80L452.80 38.80M452.80 22.80L440.84 38.80" fill="none" stroke="#9a9a9a" stroke-width="1.2" stroke-linecap="round" stroke-linejoin="round"/><path d="M665.00 38.80L665.00 22.80L671.43 33.68L677.86 22.80L677.86 38.80M682.04 22.80L694.00 38.80M694.00 22.80L682.04 38.80" fill="none" stroke="#9a9a9a" stroke-width="1.2" stroke-linecap="round" stroke-linejoin="round"/><path d="M262.50 253.50L262.50 237.50L268.93 248.38L275.36 237.50L275.36 253.50M279.54 237.50L291.50 253.50M291.50 237.50L279.54 253.50" fill="none" stroke="#9a9a9a" stroke-width="1.2" stroke-linecap="round" stroke-linejoin="round"/><path d="M289.29 253.50L289.29 237.50L295.71 248.38L302.14 237.50L302.14 253.50M306.33 237.50L318.29 253.50M318.29 237.50L306.33 253.50" fill="none" stroke="#9a9a9a" stroke-width="1.2" stroke-linecap="round" stroke-linejoin="round"/><path d="M316.07 253.50L316.07 237.50L322.50 248.38L328.93 237.50L328.93 253.50M333.11 237.50L345.07 253.50M345.07 237.50L333.11 253.50" fill="none" stroke="#9a9a9a" stroke-width="1.2" stroke-linecap="round" stroke-linejoin="round"/><path d="M342.86 253.50L342.86 237.50L349.28 248.38L355.71 237.50L355.71 253.50M359.90 237.50L371.86 253.50M371.86 237.50L359.90 253.50" fill="none" stroke="#9a9a9a" stroke-width="1.2" stroke-linecap="round" stroke-linejoin="round"/><path d="M369.64 253.50L369.64 237.50L376.07 248.38L382.50 237.50L382.50 253.50M386.68 237.50L398.64 253.50M398.64 237.50L386.68 253.50" fill="none" stroke="#9a9a9a" stroke-width="1.2" stroke-linecap="round" stroke-linejoin="round"/><path d="M396.43 253.50L396.43 237.50L402.86 248.38L409.28 237.50L409.28 253.50M413.47 237.50L425.43 253.50M425.43 237.50L413.47 253.50" fill="none" stroke="#9a9a9a" stroke-width="1.2" stroke-linecap="round" stroke-linejoin="round"/><path d="M583.50 253.50L583.50 237.50L589.93 248.38L596.36 237.50L596.36 253.50M600.54 237.50L612.50 253.50M612.50 237.50L600.54 253.50" fill="none" stroke="#9a9a9a" stroke-width="1.2" stroke-linecap="round" stroke-linejoin="round"/><path d="M610.29 253.50L610.29 237.50L616.71 248.38L623.14 237.50L623.14 253.50M627.33 237.50L639.29 253.50M639.29 237.50L627.33 253.50" fill="none" stroke="#9a9a9a" stroke-width="1.2" stroke-linecap="round" stroke-linejoin="round"/><path d="M637.07 253.50L637.07 237.50L643.50 248.38L649.93 237.50L649.93 253.50M654.11 237.50L666.07 253.50M666.07 237.50L654.11 253.50" fill="none" stroke="#9a9a9a" stroke-width="1.2" stroke-linecap="round" stroke-linejoin="round"/><path d="M663.86 253.50L663.86 237.50L670.28 248.38L676.71 237.50L676.71 253.50M680.90 237.50L692.86 253.50M692.86 237.50L680.90 253.50" fill="none" stroke="#9a9a9a" stroke-width="1.2" stroke-linecap="round" stroke-linejoin="round"/><path d="M690.64 253.50L690.64 237.50L697.07 248.38L703.50 237.50L703.50 253.50M707.68 237.50L719.64 253.50M719.64 237.50L707.68 253.50" fill="none" stroke="#9a9a9a" stroke-width="1.2" stroke-linecap="round" stroke-linejoin="round"/><path d="M75.50 467.20L75.50 451.20L81.93 462.08L88.36 451.20L88.36 467.20M92.54 451.20L104.50 467.20M104.50 451.20L92.54 467.20" fill="none" stroke="#9a9a9a" stroke-width="1.2" stroke-linecap="round" stroke-linejoin="round"/><path d="M102.29 467.20L102.29 451.20L108.71 462.08L115.14 451.20L115.14 467.20M119.33 451.20L131.29 467.20M131.29 451.20L119.33 467.20" fill="none" stroke="#9a9a9a" stroke-width="1.2" stroke-linecap="round" stroke-linejoin="round"/><path d="M129.07 467.20L129.07 451.20L135.50 462.08L141.93 451.20L141.93 467.20M146.11 451.20L158.07 467.20M158.07 451.20L146.11 467.20" fill="none" stroke="#9a9a9a" stroke-width="1.2" stroke-linecap="round" stroke-linejoin="round"/><path d="M155.86 467.20L155.86 451.20L162.28 462.08L168.71 451.20L168.71 467.20M172.90 451.20L184.86 467.20M184.86 451.20L172.90 467.20" fill="none" stroke="#9a9a9a" stroke-width="1.2" stroke-linecap="round" stroke-linejoin="round"/><path d="M182.64 467.20L182.64 451.20L189.07 462.08L195.50 451.20L195.50 467.20M199.68 451.20L211.64 467.20M211.64 451.20L199.68 467.20" fill="none" stroke="#9a9a9a" stroke-width="1.2" stroke-linecap="round" stroke-linejoin="round"/><path d="M209.43 467.20L209.43 451.20L215.86 462.08L222.28 451.20L222.28 467.20M226.47 451.20L238.43 467.20M238.43 451.20L226.47 467.20" fill="none" stroke="#9a9a9a" stroke-width="1.2" stroke-linecap="round" stroke-linejoin="round"/><path d="M236.21 467.20L236.21 451.20L242.64 462.08L249.07 451.20L249.07 467.20M253.26 451.20L265.21 467.20M265.21 451.20L253.26 467.20" fill="none" stroke="#9a9a9a" stroke-width="1.2" stroke-linecap="round" stroke-linejoin="round"/><path d="M263.00 467.20L263.00 451.20L269.43 462.08L275.86 451.20L275.86 467.20M280.04 451.20L292.00 467.20M292.00 451.20L280.04 467.20" fill="none" stroke="#9a9a9a" stroke-width="1.2" stroke-linecap="round" stroke-linejoin="round"/><path d="M315.50 467.20L315.50 451.20L321.93 462.08L328.36 451.20L328.36 467.20M332.54 451.20L344.50 467.20M344.50 451.20L332.54 467.20" fill="none" stroke="#9a9a9a" stroke-width="1.2" stroke-linecap="round" stroke-linejoin="round"/><path d="M342.29 467.20L342.29 451.20L348.71 462.08L355.14 451.20L355.14 467.20M359.33 451.20L371.29 467.20M371.29 451.20L359.33 467.20" fill="none" stroke="#9a9a9a" stroke-width="1.2" stroke-linecap="round" stroke-linejoin="round"/><path d="M369.07 467.20L369.07 451.20L375.50 462.08L381.93 451.20L381.93 467.20M386.11 451.20L398.07 467.20M398.07 451.20L386.11 467.20" fill="none" stroke="#9a9a9a" stroke-width="1.2" stroke-linecap="round" stroke-linejoin="round"/><path d="M395.86 467.20L395.86 451.20L402.28 462.08L408.71 451.20L408.71 467.20M412.90 451.20L424.86 467.20M424.86 451.20L412.90 467.20" fill="none" stroke="#9a9a9a" stroke-width="1.2" stroke-linecap="round" stroke-linejoin="round"/><path d="M422.64 467.20L422.64 451.20L429.07 462.08L435.50 451.20L435.50 467.20M439.68 451.20L451.64 467.20M451.64 451.20L439.68 467.20" fill="none" stroke="#9a9a9a" stroke-width="1.2" stroke-linecap="round" stroke-linejoin="round"/><path d="M449.43 467.20L449.43 451.20L455.86 462.08L462.28 451.20L462.28 467.20M466.47 451.20L478.43 467.20M478.43 451.20L466.47 467.20" fill="none" stroke="#9a9a9a" stroke-width="1.2" stroke-linecap="round" stroke-linejoin="round"/><path d="M476.21 467.20L476.21 451.20L482.64 462.08L489.07 451.20L489.07 467.20M493.26 451.20L505.21 467.20M505.21 451.20L493.26 467.20" fill="none" stroke="#9a9a9a" stroke-width="1.2" stroke-linecap="round" stroke-linejoin="round"/><path d="M583.50 467.20L583.50 451.20L589.93 462.08L596.36 451.20L596.36 467.20M600.54 451.20L612.50 467.20M612.50 451.20L600.54 467.20" fill="none" stroke="#9a9a9a" stroke-width="1.2" stroke-linecap="round" stroke-linejoin="round"/><path d="M610.29 467.20L610.29 451.20L616.71 462.08L623.14 451.20L623.14 467.20M627.33 451.20L639.29 467.20M639.29 451.20L627.33 467.20" fill="none" stroke="#9a9a9a" stroke-width="1.2" stroke-linecap="round" stroke-linejoin="round"/><path d="M637.07 467.20L637.07 451.20L643.50 462.08L649.93 451.20L649.93 467.20M654.11 451.20L666.07 467.20M666.07 451.20L654.11 467.20" fill="none" stroke="#9a9a9a" stroke-width="1.2" stroke-linecap="round" stroke-linejoin="round"/><path d="M663.86 467.20L663.86 451.20L670.28 462.08L676.71 451.20L676.71 467.20M680.90 451.20L692.86 467.20M692.86 451.20L680.90 467.20" fill="none" stroke="#9a9a9a" stroke-width="1.2" stroke-linecap="round" stroke-linejoin="round"/><path d="M690.64 467.20L690.64 451.20L697.07 462.08L703.50 451.20L703.50 467.20M707.68 451.20L719.64 467.20M719.64 451.20L707.68 467.20" fill="none" stroke="#9a9a9a" stroke-width="1.2" stroke-linecap="round" stroke-linejoin="round"/></g><g class="bl"><rect x="0" y="102" width="81" height="2" fill="#0000c2"/><rect x="151" y="102" width="145" height="2" fill="#0000c2"/><rect x="365" y="102" width="386" height="2" fill="#0000c2"/><rect x="79" y="0" width="2" height="104" fill="#0000c2"/><rect x="151" y="0" width="2" height="104" fill="#0000c2"/><rect x="294" y="0" width="2" height="104" fill="#0000c2"/><rect x="365" y="0" width="2" height="104" fill="#0000c2"/><rect x="499" y="0" width="2" height="104" fill="#0000c2"/><rect x="508" y="0" width="2" height="104" fill="#0000c2"/><rect x="606" y="0" width="2" height="104" fill="#0000c2"/><rect x="642" y="0" width="2" height="104" fill="#0000c2"/><rect x="749" y="0" width="2" height="104" fill="#0000c2"/><rect x="0" y="173" width="189" height="2" fill="#0000c2"/><rect x="204" y="173" width="574" height="2" fill="#0000c2"/><rect x="0" y="316" width="189" height="2" fill="#0000c2"/><rect x="204" y="316" width="574" height="2" fill="#0000c2"/><rect x="-10" y="173" width="2" height="145" fill="#0000c2"/><rect x="133" y="173" width="2" height="145" fill="#0000c2"/><rect x="44" y="173" width="2" height="145" fill="#0000c2"/><rect x="187" y="173" width="2" height="145" fill="#0000c2"/><rect x="204" y="173" width="2" height="145" fill="#0000c2"/><rect x="347" y="173" width="2" height="145" fill="#0000c2"/><rect x="231" y="173" width="2" height="145" fill="#0000c2"/><rect x="374" y="173" width="2" height="145" fill="#0000c2"/><rect x="258" y="173" width="2" height="145" fill="#0000c2"/><rect x="401" y="173" width="2" height="145" fill="#0000c2"/><rect x="284" y="173" width="2" height="145" fill="#0000c2"/><rect x="428" y="173" width="2" height="145" fill="#0000c2"/><rect x="311" y="173" width="2" height="145" fill="#0000c2"/><rect x="454" y="173" width="2" height="145" fill="#0000c2"/><rect x="338" y="173" width="2" height="145" fill="#0000c2"/><rect x="481" y="173" width="2" height="145" fill="#0000c2"/><rect x="419" y="173" width="2" height="145" fill="#0000c2"/><rect x="562" y="173" width="2" height="145" fill="#0000c2"/><rect x="446" y="173" width="2" height="145" fill="#0000c2"/><rect x="589" y="173" width="2" height="145" fill="#0000c2"/><rect x="526" y="173" width="2" height="145" fill="#0000c2"/><rect x="669" y="173" width="2" height="145" fill="#0000c2"/><rect x="552" y="173" width="2" height="145" fill="#0000c2"/><rect x="696" y="173" width="2" height="145" fill="#0000c2"/><rect x="579" y="173" width="2" height="145" fill="#0000c2"/><rect x="722" y="173" width="2" height="145" fill="#0000c2"/><rect x="606" y="173" width="2" height="145" fill="#0000c2"/><rect x="749" y="173" width="2" height="145" fill="#0000c2"/><rect x="633" y="173" width="2" height="145" fill="#0000c2"/><rect x="776" y="173" width="2" height="145" fill="#0000c2"/><rect x="0" y="387" width="779" height="2" fill="#0000c2"/><rect x="-63" y="387" width="2" height="143" fill="#0000c2"/><rect x="80" y="387" width="2" height="143" fill="#0000c2"/><rect x="-36" y="387" width="2" height="143" fill="#0000c2"/><rect x="107" y="387" width="2" height="143" fill="#0000c2"/><rect x="-9" y="387" width="2" height="143" fill="#0000c2"/><rect x="134" y="387" width="2" height="143" fill="#0000c2"/><rect x="17" y="387" width="2" height="143" fill="#0000c2"/><rect x="161" y="387" width="2" height="143" fill="#0000c2"/><rect x="44" y="387" width="2" height="143" fill="#0000c2"/><rect x="187" y="387" width="2" height="143" fill="#0000c2"/><rect x="71" y="387" width="2" height="143" fill="#0000c2"/><rect x="214" y="387" width="2" height="143" fill="#0000c2"/><rect x="98" y="387" width="2" height="143" fill="#0000c2"/><rect x="241" y="387" width="2" height="143" fill="#0000c2"/><rect x="125" y="387" width="2" height="143" fill="#0000c2"/><rect x="268" y="387" width="2" height="143" fill="#0000c2"/><rect x="151" y="387" width="2" height="143" fill="#0000c2"/><rect x="295" y="387" width="2" height="143" fill="#0000c2"/><rect x="178" y="387" width="2" height="143" fill="#0000c2"/><rect x="321" y="387" width="2" height="143" fill="#0000c2"/><rect x="205" y="387" width="2" height="143" fill="#0000c2"/><rect x="348" y="387" width="2" height="143" fill="#0000c2"/><rect x="258" y="387" width="2" height="143" fill="#0000c2"/><rect x="401" y="387" width="2" height="143" fill="#0000c2"/><rect x="284" y="387" width="2" height="143" fill="#0000c2"/><rect x="428" y="387" width="2" height="143" fill="#0000c2"/><rect x="311" y="387" width="2" height="143" fill="#0000c2"/><rect x="454" y="387" width="2" height="143" fill="#0000c2"/><rect x="338" y="387" width="2" height="143" fill="#0000c2"/><rect x="481" y="387" width="2" height="143" fill="#0000c2"/><rect x="365" y="387" width="2" height="143" fill="#0000c2"/><rect x="508" y="387" width="2" height="143" fill="#0000c2"/><rect x="392" y="387" width="2" height="143" fill="#0000c2"/><rect x="535" y="387" width="2" height="143" fill="#0000c2"/><rect x="418" y="387" width="2" height="143" fill="#0000c2"/><rect x="561" y="387" width="2" height="143" fill="#0000c2"/><rect x="526" y="387" width="2" height="143" fill="#0000c2"/><rect x="669" y="387" width="2" height="143" fill="#0000c2"/><rect x="552" y="387" width="2" height="143" fill="#0000c2"/><rect x="696" y="387" width="2" height="143" fill="#0000c2"/><rect x="579" y="387" width="2" height="143" fill="#0000c2"/><rect x="722" y="387" width="2" height="143" fill="#0000c2"/><rect x="606" y="387" width="2" height="143" fill="#0000c2"/><rect x="749" y="387" width="2" height="143" fill="#0000c2"/><rect x="633" y="387" width="2" height="143" fill="#0000c2"/><rect x="776" y="387" width="2" height="143" fill="#0000c2"/><rect x="720" y="387" width="2" height="143" fill="#0000c2"/><rect x="863" y="387" width="2" height="143" fill="#0000c2"/><rect x="121" y="13.9" width="27" height="35" fill="none" stroke="#0000c2" stroke-width="2"/><rect x="335.3" y="13.9" width="27" height="35" fill="none" stroke="#0000c2" stroke-width="2"/><rect x="175" y="104.5" width="35" height="27" fill="none" stroke="#0000c2" stroke-width="2"/><rect x="246" y="104.5" width="35" height="27" fill="none" stroke="#0000c2" stroke-width="2"/><rect x="324" y="347.6" width="35" height="27" fill="none" stroke="#0000c2" stroke-width="2"/><rect x="356.25" y="282.75" width="35" height="27" fill="none" stroke="#0000c2" stroke-width="2"/><rect x="685.25" y="347" width="35" height="27" fill="none" stroke="#0000c2" stroke-width="2"/><rect x="760.25" y="261" width="35" height="27" fill="none" stroke="#0000c2" stroke-width="2"/></g><g class="bl"><path d="M475.11 237.15L470.13 235.66L464.50 235.50L460.38 236.66L458.43 239.46L460.17 241.77L463.63 243.25L470.13 244.25L473.38 246.06L474.68 248.70L473.38 250.84L469.26 252.00L458.65 252.00M481.39 235.50L481.39 252.00M498.72 235.50L498.72 252.00M481.39 243.42L498.72 243.42M505.87 235.50L505.87 252.00M528.61 235.50L513.01 235.50L513.01 252.00M513.01 243.42L523.41 243.42M534.67 235.50L552.00 235.50M543.34 235.50L543.34 252.00" fill="none" stroke="#a0a0a0" stroke-width="1.5" stroke-linecap="round" stroke-linejoin="round"/><path d="M544.89 22.00L534.00 22.00L534.00 37.50L544.89 37.50M534.00 29.44L541.26 29.44M549.12 37.50L549.12 22.00L561.22 37.50L561.22 22.00M565.45 22.00L577.55 22.00M571.50 22.00L571.50 37.50M592.67 22.00L581.78 22.00L581.78 37.50L592.67 37.50M581.78 29.44L589.04 29.44M596.90 37.50L596.90 22.00L605.22 22.00L607.79 22.93L608.70 24.48L608.70 27.12L607.79 28.66L605.22 29.59L596.90 29.59M603.25 29.59L609.00 37.50" fill="none" stroke="#909090" stroke-width="1.5" stroke-linecap="round" stroke-linejoin="round"/><path d="M191.06 60.98L187.55 59.60L183.58 59.45L180.68 60.52L179.31 63.12L180.53 65.26L182.97 66.64L187.55 67.56L189.84 69.24L190.75 71.69L189.84 73.68L186.94 74.75L179.46 74.75M195.49 59.45L199.61 74.75L203.27 63.58L206.94 74.75L211.06 59.45M215.94 61.59L219.15 59.76L222.20 59.45L225.10 60.06L227.24 62.05L227.24 64.81L224.80 67.86L215.64 74.75L227.70 74.75M231.97 66.18L233.50 64.96L235.03 66.18L231.97 66.18M231.97 74.44L233.50 73.22L235.03 74.44L231.97 74.44M240.22 64.04L245.71 59.45L245.71 74.75M239.76 74.75L251.36 74.75M256.70 64.04L262.20 59.45L262.20 74.75M256.25 74.75L267.85 74.75" fill="none" stroke="#c8c8c8" stroke-width="1.6" stroke-linecap="round" stroke-linejoin="round"/><path d="M-23.06 60.98L-26.62 59.60L-30.65 59.45L-33.59 60.52L-34.98 63.12L-33.74 65.26L-31.27 66.64L-26.62 67.56L-24.30 69.24L-23.37 71.69L-24.30 73.68L-27.24 74.75L-34.83 74.75M-18.57 59.45L-14.39 74.75L-10.68 63.58L-6.96 74.75L-2.79 59.45M2.17 61.59L5.42 59.76L8.51 59.45L11.45 60.06L13.62 62.05L13.62 64.81L11.14 67.86L1.86 74.75L14.09 74.75M18.42 66.18L19.97 64.96L21.52 66.18L18.42 66.18M18.42 74.44L19.97 73.22L21.52 74.44L18.42 74.44M26.78 64.04L32.35 59.45L32.35 74.75M26.31 74.75L38.08 74.75M42.57 62.82L46.13 59.45L50.30 59.45L53.71 62.51L53.71 72.30L51.23 74.75L44.89 74.75L42.57 72.30L42.57 62.82" fill="none" stroke="#c8c8c8" stroke-width="1.6" stroke-linecap="round" stroke-linejoin="round"/><path d="M539.56 60.98L536.05 59.60L532.08 59.45L529.18 60.52L527.81 63.12L529.03 65.26L531.47 66.64L536.05 67.56L538.34 69.24L539.25 71.69L538.34 73.68L535.44 74.75L527.96 74.75M543.99 59.45L548.11 74.75L551.77 63.58L555.44 74.75L559.56 59.45M564.44 61.59L567.65 59.76L570.70 59.45L573.60 60.06L575.74 62.05L575.74 64.81L573.30 67.86L564.14 74.75L576.20 74.75M580.47 66.18L582.00 64.96L583.53 66.18L580.47 66.18M580.47 74.44L582.00 73.22L583.53 74.44L580.47 74.44M588.72 64.04L594.21 59.45L594.21 74.75M588.26 74.75L599.86 74.75M605.05 59.45L615.74 59.45L609.33 65.88L611.92 65.88L614.67 66.64L616.35 68.63L616.35 72.00L614.67 74.14L611.16 74.75L607.65 74.44L604.75 72.91" fill="none" stroke="#c8c8c8" stroke-width="1.6" stroke-linecap="round" stroke-linejoin="round"/><path d="M83.25 274.73L79.68 273.35L75.65 273.20L72.71 274.27L71.31 276.87L72.55 279.01L75.03 280.39L79.68 281.31L82.01 282.99L82.94 285.44L82.01 287.43L79.06 288.50L71.47 288.50M87.75 273.20L91.93 288.50L95.65 277.33L99.37 288.50L103.56 273.20M108.83 277.79L114.41 273.20L114.41 288.50M108.37 288.50L120.15 288.50M124.65 279.93L126.20 278.71L127.75 279.93L124.65 279.93M124.65 288.19L126.20 286.97L127.75 288.19L124.65 288.19M133.02 277.79L138.60 273.20L138.60 288.50M132.56 288.50L144.34 288.50M148.84 276.57L152.40 273.20L156.59 273.20L160.00 276.26L160.00 286.05L157.52 288.50L151.16 288.50L148.84 286.05L148.84 276.57" fill="none" stroke="#c8c8c8" stroke-width="1.6" stroke-linecap="round" stroke-linejoin="round"/><path d="M485.99 274.73L482.50 273.35L478.55 273.20L475.67 274.27L474.30 276.87L475.52 279.01L477.95 280.39L482.50 281.31L484.78 282.99L485.69 285.44L484.78 287.43L481.89 288.50L474.46 288.50M490.39 273.20L494.49 288.50L498.14 277.33L501.78 288.50L505.88 273.20M511.04 277.79L516.50 273.20L516.50 288.50M510.58 288.50L522.12 288.50M526.52 279.93L528.04 278.71L529.56 279.93L526.52 279.93M526.52 288.19L528.04 286.97L529.56 288.19L526.52 288.19M534.72 277.79L540.19 273.20L540.19 288.50M534.27 288.50L545.80 288.50M550.81 275.34L554.00 273.51L557.04 273.20L559.92 273.81L562.04 275.80L562.04 278.56L559.62 281.62L550.51 288.50L562.50 288.50" fill="none" stroke="#c8c8c8" stroke-width="1.6" stroke-linecap="round" stroke-linejoin="round"/><path d="M111.00 489.73L107.43 488.35L103.40 488.20L100.46 489.27L99.06 491.87L100.30 494.01L102.78 495.39L107.43 496.31L109.76 497.99L110.69 500.44L109.76 502.43L106.81 503.50L99.22 503.50M115.50 488.20L119.68 503.50L123.40 492.33L127.12 503.50L131.31 488.20M135.65 491.57L139.22 488.20L143.41 488.20L146.82 491.26L146.82 501.05L144.34 503.50L137.98 503.50L135.65 501.05L135.65 491.57M151.16 494.93L152.71 493.71L154.26 494.93L151.16 494.93M151.16 503.19L152.71 501.97L154.26 503.19L151.16 503.19M159.53 492.79L165.11 488.20L165.11 503.50M159.07 503.50L170.85 503.50M176.28 492.79L181.86 488.20L181.86 503.50M175.81 503.50L187.59 503.50" fill="none" stroke="#c8c8c8" stroke-width="1.6" stroke-linecap="round" stroke-linejoin="round"/><path d="M378.73 489.73L375.17 488.35L371.14 488.20L368.20 489.27L366.81 491.87L368.05 494.01L370.52 495.39L375.17 496.31L377.49 497.99L378.42 500.44L377.49 502.43L374.55 503.50L366.96 503.50M383.22 488.20L387.40 503.50L391.11 492.33L394.83 503.50L399.00 488.20M403.34 491.57L406.90 488.20L411.08 488.20L414.48 491.26L414.48 501.05L412.01 503.50L405.66 503.50L403.34 501.05L403.34 491.57M418.82 494.93L420.36 493.71L421.91 494.93L418.82 494.93M418.82 503.19L420.36 501.97L421.91 503.19L418.82 503.19M427.17 492.79L432.75 488.20L432.75 503.50M426.71 503.50L438.47 503.50M443.58 490.34L446.83 488.51L449.93 488.20L452.87 488.81L455.04 490.80L455.04 493.56L452.56 496.62L443.27 503.50L455.50 503.50" fill="none" stroke="#c8c8c8" stroke-width="1.6" stroke-linecap="round" stroke-linejoin="round"/><path d="M646.25 489.23L642.68 487.85L638.65 487.70L635.71 488.77L634.31 491.37L635.55 493.51L638.03 494.89L642.68 495.81L645.01 497.49L645.94 499.94L645.01 501.93L642.06 503.00L634.47 503.00M650.75 487.70L654.93 503.00L658.65 491.83L662.37 503.00L666.56 487.70M670.90 491.07L674.47 487.70L678.66 487.70L682.07 490.76L682.07 500.55L679.59 503.00L673.23 503.00L670.90 500.55L670.90 491.07M686.41 494.43L687.96 493.21L689.51 494.43L686.41 494.43M686.41 502.69L687.96 501.47L689.51 502.69L686.41 502.69M694.78 492.29L700.36 487.70L700.36 503.00M694.32 503.00L706.10 503.00M711.37 487.70L722.22 487.70L715.71 494.13L718.35 494.13L721.14 494.89L722.84 496.88L722.84 500.25L721.14 502.39L717.57 503.00L714.01 502.69L711.06 501.16" fill="none" stroke="#c8c8c8" stroke-width="1.6" stroke-linecap="round" stroke-linejoin="round"/><path d="M111.00 25.00L111.00 36.00L114.63 36.00L117.23 35.23L118.78 33.58L119.30 31.60L119.30 29.40L118.78 27.42L117.23 25.77L114.63 25.00L111.00 25.00M122.62 26.54L124.80 25.22L126.87 25.00L128.85 25.44L130.30 26.87L130.30 28.85L128.64 31.05L122.41 36.00L130.61 36.00M133.51 29.84L134.55 28.96L135.59 29.84L133.51 29.84M133.51 35.78L134.55 34.90L135.59 35.78L133.51 35.78M139.12 28.30L142.85 25.00L142.85 36.00M138.81 36.00L146.69 36.00M150.32 28.30L154.06 25.00L154.06 36.00M150.01 36.00L157.90 36.00" fill="none" stroke="#d8d8d8" stroke-width="1.5" stroke-linecap="round" stroke-linejoin="round"/><path d="M325.30 25.00L325.30 36.00L328.92 36.00L331.51 35.23L333.06 33.58L333.58 31.60L333.58 29.40L333.06 27.42L331.51 25.77L328.92 25.00L325.30 25.00M336.89 26.54L339.07 25.22L341.14 25.00L343.11 25.44L344.56 26.87L344.56 28.85L342.90 31.05L336.69 36.00L344.87 36.00M347.76 29.84L348.80 28.96L349.84 29.84L347.76 29.84M347.76 35.78L348.80 34.90L349.84 35.78L347.76 35.78M353.36 28.30L357.08 25.00L357.08 36.00M353.04 36.00L360.91 36.00M364.33 26.54L366.50 25.22L368.57 25.00L370.54 25.44L371.99 26.87L371.99 28.85L370.33 31.05L364.12 36.00L372.30 36.00" fill="none" stroke="#d8d8d8" stroke-width="1.5" stroke-linecap="round" stroke-linejoin="round"/><path d="M185.00 140.00L196.00 140.00L196.00 136.30L195.23 133.65L193.58 132.06L191.60 131.53L189.40 131.53L187.42 132.06L185.77 133.65L185.00 136.30L185.00 140.00M187.42 128.57L185.00 126.13L185.00 123.27L187.20 120.95L194.24 120.95L196.00 122.64L196.00 126.98L194.24 128.57L187.42 128.57M189.84 117.98L188.96 116.92L189.84 115.86L189.84 117.98M195.78 117.98L194.90 116.92L195.78 115.86L195.78 117.98M188.30 112.27L185.00 108.45L196.00 108.45M196.00 112.58L196.00 104.54M188.30 100.83L185.00 97.02L196.00 97.02M196.00 101.15L196.00 93.11" fill="none" stroke="#d8d8d8" stroke-width="1.5" stroke-linecap="round" stroke-linejoin="round"/><path d="M256.00 140.00L267.00 140.00L267.00 136.36L266.23 133.76L264.58 132.20L262.60 131.68L260.40 131.68L258.42 132.20L256.77 133.76L256.00 136.36L256.00 140.00M259.30 128.15L256.00 124.40L267.00 124.40M267.00 128.46L267.00 120.56M260.84 117.54L259.96 116.50L260.84 115.46L260.84 117.54M266.78 117.54L265.90 116.50L266.78 115.46L266.78 117.54M259.30 111.92L256.00 108.18L267.00 108.18M267.00 112.24L267.00 104.33M259.30 100.69L256.00 96.95L267.00 96.95M267.00 101.01L267.00 93.10" fill="none" stroke="#d8d8d8" stroke-width="1.5" stroke-linecap="round" stroke-linejoin="round"/><path d="M335.00 382.50L346.00 382.50L346.00 378.88L345.23 376.30L343.58 374.75L341.60 374.23L339.40 374.23L337.42 374.75L335.77 376.30L335.00 378.88L335.00 382.50M337.42 371.34L335.00 368.96L335.00 366.17L337.20 363.89L344.24 363.89L346.00 365.55L346.00 369.79L344.24 371.34L337.42 371.34M339.84 361.00L338.96 359.97L339.84 358.93L339.84 361.00M345.78 361.00L344.90 359.97L345.78 358.93L345.78 361.00M338.30 355.42L335.00 351.70L346.00 351.70M346.00 355.73L346.00 347.87M336.54 344.46L335.22 342.29L335.00 340.22L335.44 338.26L336.87 336.81L338.85 336.81L341.05 338.46L346.00 344.67L346.00 336.50" fill="none" stroke="#d8d8d8" stroke-width="1.5" stroke-linecap="round" stroke-linejoin="round"/><path d="M367.75 319.50L378.75 319.50L378.75 315.83L377.98 313.21L376.33 311.64L374.35 311.11L372.15 311.11L370.17 311.64L368.52 313.21L367.75 315.83L367.75 319.50M371.05 307.55L367.75 303.77L378.75 303.77M378.75 307.86L378.75 299.89M372.59 296.85L371.71 295.80L372.59 294.75L372.59 296.85M378.53 296.85L377.65 295.80L378.53 294.75L378.53 296.85M371.05 291.19L367.75 287.41L378.75 287.41M378.75 291.50L378.75 283.53M369.29 280.07L367.97 277.87L367.75 275.77L368.19 273.78L369.62 272.31L371.60 272.31L373.80 273.99L378.75 280.28L378.75 272.00" fill="none" stroke="#d8d8d8" stroke-width="1.5" stroke-linecap="round" stroke-linejoin="round"/><path d="M695.50 382.50L706.50 382.50L706.50 378.80L705.73 376.15L704.08 374.56L702.10 374.03L699.90 374.03L697.92 374.56L696.27 376.15L695.50 378.80L695.50 382.50M697.92 371.07L695.50 368.63L695.50 365.77L697.70 363.45L704.74 363.45L706.50 365.14L706.50 369.48L704.74 371.07L697.92 371.07M700.34 360.48L699.46 359.42L700.34 358.36L700.34 360.48M706.28 360.48L705.40 359.42L706.28 358.36L706.28 360.48M698.80 354.77L695.50 350.95L706.50 350.95M706.50 355.08L706.50 347.04M695.50 343.44L695.50 336.03L700.12 340.48L700.12 338.68L700.67 336.77L702.10 335.61L704.52 335.61L706.06 336.77L706.50 339.20L706.28 341.64L705.18 343.65" fill="none" stroke="#d8d8d8" stroke-width="1.5" stroke-linecap="round" stroke-linejoin="round"/><path d="M770.50 296.00L781.50 296.00L781.50 292.52L780.73 290.03L779.08 288.53L777.10 288.04L774.90 288.04L772.92 288.53L771.27 290.03L770.50 292.52L770.50 296.00M773.80 284.65L770.50 281.07L781.50 281.07M781.50 284.95L781.50 277.38M775.34 274.50L774.46 273.50L775.34 272.50L775.34 274.50M781.28 274.50L780.40 273.50L781.28 272.50L781.28 274.50M773.80 269.12L770.50 265.54L781.50 265.54M781.50 269.42L781.50 261.85M770.50 258.47L770.50 251.50L775.12 255.68L775.12 253.99L775.67 252.19L777.10 251.10L779.52 251.10L781.06 252.19L781.50 254.48L781.28 256.77L780.18 258.67" fill="none" stroke="#d8d8d8" stroke-width="1.5" stroke-linecap="round" stroke-linejoin="round"/><path d="M431.90 119.01L430.77 121.85L430.65 125.05L431.52 127.39L433.65 128.50L435.40 127.52L436.52 125.55L437.27 121.85L438.65 120.00L440.65 119.26L442.27 120.00L443.15 122.34L443.15 128.38M443.15 115.44L430.65 110.14L443.15 104.84M438.90 113.59L438.90 106.69M432.40 100.90L430.90 98.31L430.65 95.85L431.15 93.50L432.77 91.78L435.02 91.78L437.52 93.75L443.15 101.14L443.15 91.41M436.15 87.96L435.15 86.73L436.15 85.49L436.15 87.96M442.90 87.96L441.90 86.73L442.90 85.49L442.90 87.96M434.40 81.30L430.65 76.87L443.15 76.87M443.15 81.67L443.15 72.31M432.40 68.24L430.90 65.65L430.65 63.19L431.15 60.85L432.77 59.12L435.02 59.12L437.52 61.09L443.15 68.49L443.15 58.75" fill="none" stroke="#a0a0a0" stroke-width="1.45" stroke-linecap="round" stroke-linejoin="round"/><path d="M672.75 119.00L671.62 121.84L671.50 125.05L672.38 127.39L674.50 128.50L676.25 127.52L677.38 125.54L678.12 121.84L679.50 119.98L681.50 119.24L683.12 119.98L684.00 122.33L684.00 128.38M684.00 115.42L671.50 110.11L684.00 104.80M679.75 113.56L679.75 106.65M673.25 100.85L671.75 98.26L671.50 95.79L672.00 93.44L673.62 91.71L675.88 91.71L678.38 93.69L684.00 101.10L684.00 91.34M677.00 87.89L676.00 86.65L677.00 85.42L677.00 87.89M683.75 87.89L682.75 86.65L683.75 85.42L683.75 87.89M675.25 81.22L671.50 76.77L684.00 76.77M684.00 81.59L684.00 72.21M671.50 68.01L671.50 59.37L676.75 64.55L676.75 62.45L677.38 60.23L679.00 58.87L681.75 58.87L683.50 60.23L684.00 63.07L683.75 65.91L682.50 68.26" fill="none" stroke="#a0a0a0" stroke-width="1.45" stroke-linecap="round" stroke-linejoin="round"/><path d="M56.75 333.34L55.62 336.22L55.50 339.49L56.38 341.87L58.50 343.00L60.25 342.00L61.38 339.99L62.12 336.22L63.50 334.34L65.50 333.59L67.12 334.34L68.00 336.73L68.00 342.87M68.00 329.70L55.50 324.31L68.00 318.91M63.75 327.82L63.75 320.79M59.25 314.65L55.50 310.13L68.00 310.13M68.00 315.02L68.00 305.49M61.00 301.85L60.00 300.60L61.00 299.34L61.00 301.85M67.75 301.85L66.75 300.60L67.75 299.34L67.75 301.85M59.25 295.08L55.50 290.56L68.00 290.56M68.00 295.45L68.00 285.92M58.25 282.28L55.50 279.40L55.50 276.01L58.00 273.25L66.00 273.25L68.00 275.26L68.00 280.40L66.00 282.28L58.25 282.28" fill="none" stroke="#a0a0a0" stroke-width="1.45" stroke-linecap="round" stroke-linejoin="round"/><path d="M271.25 333.48L270.12 336.32L270.00 339.54L270.88 341.89L273.00 343.00L274.75 342.01L275.88 340.03L276.62 336.32L278.00 334.47L280.00 333.73L281.62 334.47L282.50 336.82L282.50 342.88M282.50 329.89L270.00 324.58L282.50 319.26M278.25 328.04L278.25 321.11M273.75 315.05L270.00 310.60L282.50 310.60M282.50 315.42L282.50 306.02M275.50 302.44L274.50 301.20L275.50 299.96L275.50 302.44M282.25 302.44L281.25 301.20L282.25 299.96L282.25 302.44M273.75 295.76L270.00 291.31L282.50 291.31M282.50 296.13L282.50 286.73M273.75 282.40L270.00 277.95L282.50 277.95M282.50 282.77L282.50 273.37" fill="none" stroke="#a0a0a0" stroke-width="1.45" stroke-linecap="round" stroke-linejoin="round"/><path d="M298.75 333.38L297.62 336.25L297.50 339.50L298.38 341.88L300.50 343.00L302.25 342.00L303.38 340.00L304.12 336.25L305.50 334.38L307.50 333.62L309.12 334.38L310.00 336.75L310.00 342.88M303.50 329.75L303.50 322.88L302.75 320.75L301.25 320.00L299.62 320.00L298.25 320.75L297.50 322.88L297.50 329.75L310.00 329.75L310.00 322.50L309.25 320.38L307.75 319.75L305.75 319.75L304.25 320.38L303.50 322.50M301.25 315.50L297.50 311.00L310.00 311.00M310.00 315.88L310.00 306.38M303.00 302.75L302.00 301.50L303.00 300.25L303.00 302.75M309.75 302.75L308.75 301.50L309.75 300.25L309.75 302.75M301.25 296.00L297.50 291.50L310.00 291.50M310.00 296.38L310.00 286.88M301.25 282.50L297.50 278.00L310.00 278.00M310.00 282.88L310.00 273.38" fill="none" stroke="#a0a0a0" stroke-width="1.45" stroke-linecap="round" stroke-linejoin="round"/><path d="M325.00 333.38L323.88 336.25L323.75 339.50L324.62 341.88L326.75 343.00L328.50 342.00L329.62 340.00L330.38 336.25L331.75 334.38L333.75 333.62L335.38 334.38L336.25 336.75L336.25 342.88M325.50 319.75L324.12 321.50L323.75 324.12L323.75 326.00L324.75 328.25L327.12 329.50L328.75 329.75L331.25 329.75L332.88 329.50L335.25 328.25L336.25 326.00L336.25 324.12L335.88 321.50L334.50 319.75M327.50 315.50L323.75 311.00L336.25 311.00M336.25 315.88L336.25 306.38M329.25 302.75L328.25 301.50L329.25 300.25L329.25 302.75M336.00 302.75L335.00 301.50L336.00 300.25L336.00 302.75M327.50 296.00L323.75 291.50L336.25 291.50M336.25 296.38L336.25 286.88M327.50 282.50L323.75 278.00L336.25 278.00M336.25 282.88L336.25 273.38" fill="none" stroke="#a0a0a0" stroke-width="1.45" stroke-linecap="round" stroke-linejoin="round"/><path d="M351.25 333.38L350.12 336.25L350.00 339.50L350.88 341.88L353.00 343.00L354.75 342.00L355.88 340.00L356.62 336.25L358.00 334.38L360.00 333.62L361.62 334.38L362.50 336.75L362.50 342.88M350.00 329.75L362.50 329.75L362.50 325.38L361.62 322.25L359.75 320.38L357.50 319.75L355.00 319.75L352.75 320.38L350.88 322.25L350.00 325.38L350.00 329.75M353.75 315.50L350.00 311.00L362.50 311.00M362.50 315.88L362.50 306.38M355.50 302.75L354.50 301.50L355.50 300.25L355.50 302.75M362.25 302.75L361.25 301.50L362.25 300.25L362.25 302.75M353.75 296.00L350.00 291.50L362.50 291.50M362.50 296.38L362.50 286.88M353.75 282.50L350.00 278.00L362.50 278.00M362.50 282.88L362.50 273.38" fill="none" stroke="#a0a0a0" stroke-width="1.45" stroke-linecap="round" stroke-linejoin="round"/><path d="M378.75 333.23L377.62 336.15L377.50 339.45L378.38 341.86L380.50 343.00L382.25 341.98L383.38 339.95L384.12 336.15L385.50 334.25L387.50 333.49L389.12 334.25L390.00 336.66L390.00 342.87M377.50 320.42L377.50 329.55L390.00 329.55L390.00 320.42M383.50 329.55L383.50 323.47M381.25 316.11L377.50 311.55L390.00 311.55M390.00 316.49L390.00 306.86M383.00 303.18L382.00 301.91L383.00 300.64L383.00 303.18M389.75 303.18L388.75 301.91L389.75 300.64L389.75 303.18M381.25 296.33L377.50 291.76L390.00 291.76M390.00 296.71L390.00 287.07M381.25 282.63L377.50 278.07L390.00 278.07M390.00 283.01L390.00 273.38" fill="none" stroke="#a0a0a0" stroke-width="1.45" stroke-linecap="round" stroke-linejoin="round"/><path d="M405.00 333.23L403.88 336.15L403.75 339.45L404.62 341.86L406.75 343.00L408.50 341.98L409.62 339.95L410.38 336.15L411.75 334.25L413.75 333.49L415.38 334.25L416.25 336.66L416.25 342.87M403.75 320.42L403.75 329.55L416.25 329.55M409.75 329.55L409.75 323.47M407.50 316.11L403.75 311.55L416.25 311.55M416.25 316.49L416.25 306.86M409.25 303.18L408.25 301.91L409.25 300.64L409.25 303.18M416.00 303.18L415.00 301.91L416.00 300.64L416.00 303.18M407.50 296.33L403.75 291.76L416.25 291.76M416.25 296.71L416.25 287.07M407.50 282.63L403.75 278.07L416.25 278.07M416.25 283.01L416.25 273.38" fill="none" stroke="#a0a0a0" stroke-width="1.45" stroke-linecap="round" stroke-linejoin="round"/><path d="M486.00 333.50L484.88 336.34L484.75 339.55L485.62 341.89L487.75 343.00L489.50 342.02L490.62 340.04L491.38 336.34L492.75 334.48L494.75 333.74L496.38 334.48L497.25 336.83L497.25 342.88M497.25 329.92L484.75 324.61L497.25 319.30M493.00 328.06L493.00 321.15M488.50 315.10L484.75 310.66L497.25 310.66M497.25 315.47L497.25 306.09M490.25 302.51L489.25 301.27L490.25 300.04L490.25 302.51M497.00 302.51L496.00 301.27L497.00 300.04L497.00 302.51M488.50 295.84L484.75 291.40L497.25 291.40M497.25 296.21L497.25 286.83M486.50 282.76L485.00 280.16L484.75 277.69L485.25 275.35L486.88 273.62L489.12 273.62L491.62 275.60L497.25 283.00L497.25 273.25" fill="none" stroke="#a0a0a0" stroke-width="1.45" stroke-linecap="round" stroke-linejoin="round"/><path d="M591.50 333.48L590.38 336.32L590.25 339.54L591.12 341.89L593.25 343.00L595.00 342.01L596.12 340.03L596.88 336.32L598.25 334.47L600.25 333.73L601.88 334.47L602.75 336.82L602.75 342.88M602.75 329.89L590.25 324.58L602.75 319.26M598.50 328.04L598.50 321.11M594.00 315.05L590.25 310.60L602.75 310.60M602.75 315.42L602.75 306.02M595.75 302.44L594.75 301.20L595.75 299.96L595.75 302.44M602.50 302.44L601.50 301.20L602.50 299.96L602.50 302.44M594.00 295.76L590.25 291.31L602.75 291.31M602.75 296.13L602.75 286.73M590.25 282.53L590.25 273.87L595.50 279.06L595.50 276.96L596.12 274.73L597.75 273.37L600.50 273.37L602.25 274.73L602.75 277.58L602.50 280.42L601.25 282.77" fill="none" stroke="#a0a0a0" stroke-width="1.45" stroke-linecap="round" stroke-linejoin="round"/><path d="M619.00 333.38L617.88 336.25L617.75 339.50L618.62 341.88L620.75 343.00L622.50 342.00L623.62 340.00L624.38 336.25L625.75 334.38L627.75 333.62L629.38 334.38L630.25 336.75L630.25 342.88M623.75 329.75L623.75 322.88L623.00 320.75L621.50 320.00L619.88 320.00L618.50 320.75L617.75 322.88L617.75 329.75L630.25 329.75L630.25 322.50L629.50 320.38L628.00 319.75L626.00 319.75L624.50 320.38L623.75 322.50M621.50 315.50L617.75 311.00L630.25 311.00M630.25 315.88L630.25 306.38M623.25 302.75L622.25 301.50L623.25 300.25L623.25 302.75M630.00 302.75L629.00 301.50L630.00 300.25L630.00 302.75M621.50 296.00L617.75 291.50L630.25 291.50M630.25 296.38L630.25 286.88M617.75 282.62L617.75 273.88L623.00 279.12L623.00 277.00L623.62 274.75L625.25 273.38L628.00 273.38L629.75 274.75L630.25 277.62L630.00 280.50L628.75 282.88" fill="none" stroke="#a0a0a0" stroke-width="1.45" stroke-linecap="round" stroke-linejoin="round"/><path d="M645.00 333.38L643.88 336.25L643.75 339.50L644.62 341.88L646.75 343.00L648.50 342.00L649.62 340.00L650.38 336.25L651.75 334.38L653.75 333.62L655.38 334.38L656.25 336.75L656.25 342.88M645.50 319.75L644.12 321.50L643.75 324.12L643.75 326.00L644.75 328.25L647.12 329.50L648.75 329.75L651.25 329.75L652.88 329.50L655.25 328.25L656.25 326.00L656.25 324.12L655.88 321.50L654.50 319.75M647.50 315.50L643.75 311.00L656.25 311.00M656.25 315.88L656.25 306.38M649.25 302.75L648.25 301.50L649.25 300.25L649.25 302.75M656.00 302.75L655.00 301.50L656.00 300.25L656.00 302.75M647.50 296.00L643.75 291.50L656.25 291.50M656.25 296.38L656.25 286.88M643.75 282.62L643.75 273.88L649.00 279.12L649.00 277.00L649.62 274.75L651.25 273.38L654.00 273.38L655.75 274.75L656.25 277.62L656.00 280.50L654.75 282.88" fill="none" stroke="#a0a0a0" stroke-width="1.45" stroke-linecap="round" stroke-linejoin="round"/><path d="M672.50 333.38L671.38 336.25L671.25 339.50L672.12 341.88L674.25 343.00L676.00 342.00L677.12 340.00L677.88 336.25L679.25 334.38L681.25 333.62L682.88 334.38L683.75 336.75L683.75 342.88M671.25 329.75L683.75 329.75L683.75 325.38L682.88 322.25L681.00 320.38L678.75 319.75L676.25 319.75L674.00 320.38L672.12 322.25L671.25 325.38L671.25 329.75M675.00 315.50L671.25 311.00L683.75 311.00M683.75 315.88L683.75 306.38M676.75 302.75L675.75 301.50L676.75 300.25L676.75 302.75M683.50 302.75L682.50 301.50L683.50 300.25L683.50 302.75M675.00 296.00L671.25 291.50L683.75 291.50M683.75 296.38L683.75 286.88M671.25 282.62L671.25 273.88L676.50 279.12L676.50 277.00L677.12 274.75L678.75 273.38L681.50 273.38L683.25 274.75L683.75 277.62L683.50 280.50L682.25 282.88" fill="none" stroke="#a0a0a0" stroke-width="1.45" stroke-linecap="round" stroke-linejoin="round"/><path d="M700.50 333.23L699.38 336.15L699.25 339.45L700.12 341.86L702.25 343.00L704.00 341.98L705.12 339.95L705.88 336.15L707.25 334.25L709.25 333.49L710.88 334.25L711.75 336.66L711.75 342.87M699.25 320.42L699.25 329.55L711.75 329.55L711.75 320.42M705.25 329.55L705.25 323.47M703.00 316.11L699.25 311.55L711.75 311.55M711.75 316.49L711.75 306.86M704.75 303.18L703.75 301.91L704.75 300.64L704.75 303.18M711.50 303.18L710.50 301.91L711.50 300.64L711.50 303.18M703.00 296.33L699.25 291.76L711.75 291.76M711.75 296.71L711.75 287.07M699.25 282.76L699.25 273.88L704.50 279.21L704.50 277.05L705.12 274.77L706.75 273.38L709.50 273.38L711.25 274.77L711.75 277.69L711.50 280.61L710.25 283.01" fill="none" stroke="#a0a0a0" stroke-width="1.45" stroke-linecap="round" stroke-linejoin="round"/><path d="M3.25 547.19L2.12 550.19L2.00 553.58L2.88 556.06L5.00 557.24L6.75 556.19L7.88 554.11L8.62 550.19L10.00 548.23L12.00 547.45L13.62 548.23L14.50 550.71L14.50 557.11M2.00 543.40L14.50 543.40L14.50 538.84L13.62 535.57L11.75 533.62L9.50 532.96L7.00 532.96L4.75 533.62L2.88 535.57L2.00 538.84L2.00 543.40M4.75 529.31L2.00 526.31L2.00 522.78L4.50 519.91L12.50 519.91L14.50 522.00L14.50 527.35L12.50 529.31L4.75 529.31M7.50 516.26L6.50 514.95L7.50 513.65L7.50 516.26M14.25 516.26L13.25 514.95L14.25 513.65L14.25 516.26M5.75 509.21L2.00 504.51L14.50 504.51M14.50 509.60L14.50 499.68M4.75 495.90L2.00 492.90L2.00 489.37L4.50 486.50L12.50 486.50L14.50 488.59L14.50 493.94L12.50 495.90L4.75 495.90" fill="none" stroke="#a0a0a0" stroke-width="1.45" stroke-linecap="round" stroke-linejoin="round"/><path d="M30.00 547.04L28.88 550.08L28.75 553.53L29.62 556.04L31.75 557.24L33.50 556.18L34.62 554.06L35.38 550.08L36.75 548.10L38.75 547.30L40.38 548.10L41.25 550.61L41.25 557.10M28.75 533.66L28.75 543.19L41.25 543.19L41.25 533.66M34.75 543.19L34.75 536.84M31.50 529.95L28.75 526.90L28.75 523.32L31.25 520.41L39.25 520.41L41.25 522.53L41.25 527.96L39.25 529.95L31.50 529.95M34.25 516.70L33.25 515.38L34.25 514.05L34.25 516.70M41.00 516.70L40.00 515.38L41.00 514.05L41.00 516.70M32.50 509.55L28.75 504.78L41.25 504.78M41.25 509.95L41.25 499.88M31.50 496.04L28.75 492.99L28.75 489.41L31.25 486.50L39.25 486.50L41.25 488.62L41.25 494.05L39.25 496.04L31.50 496.04" fill="none" stroke="#a0a0a0" stroke-width="1.45" stroke-linecap="round" stroke-linejoin="round"/><path d="M83.75 547.45L82.62 550.37L82.50 553.68L83.38 556.10L85.50 557.25L87.25 556.23L88.38 554.19L89.12 550.37L90.50 548.47L92.50 547.70L94.12 548.47L95.00 550.88L95.00 557.12M95.00 543.76L82.50 538.29L95.00 532.82M90.75 541.85L90.75 534.72M85.25 529.25L82.50 526.33L82.50 522.89L85.00 520.09L93.00 520.09L95.00 522.13L95.00 527.34L93.00 529.25L85.25 529.25M88.00 516.53L87.00 515.26L88.00 513.98L88.00 516.53M94.75 516.53L93.75 515.26L94.75 513.98L94.75 516.53M86.25 509.66L82.50 505.08L95.00 505.08M95.00 510.04L95.00 500.37M86.25 495.92L82.50 491.34L95.00 491.34M95.00 496.30L95.00 486.63" fill="none" stroke="#a0a0a0" stroke-width="1.45" stroke-linecap="round" stroke-linejoin="round"/><path d="M110.00 547.34L108.88 550.30L108.75 553.64L109.62 556.09L111.75 557.24L113.50 556.21L114.62 554.16L115.38 550.30L116.75 548.37L118.75 547.60L120.38 548.37L121.25 550.81L121.25 557.11M114.75 543.61L114.75 536.53L114.00 534.35L112.50 533.58L110.88 533.58L109.50 534.35L108.75 536.53L108.75 543.61L121.25 543.61L121.25 536.15L120.50 533.96L119.00 533.32L117.00 533.32L115.50 533.96L114.75 536.15M111.50 529.72L108.75 526.76L108.75 523.29L111.25 520.46L119.25 520.46L121.25 522.51L121.25 527.79L119.25 529.72L111.50 529.72M114.25 516.86L113.25 515.57L114.25 514.28L114.25 516.86M121.00 516.86L120.00 515.57L121.00 514.28L121.00 516.86M112.50 509.91L108.75 505.28L121.25 505.28M121.25 510.30L121.25 500.52M112.50 496.02L108.75 491.39L121.25 491.39M121.25 496.40L121.25 486.63" fill="none" stroke="#a0a0a0" stroke-width="1.45" stroke-linecap="round" stroke-linejoin="round"/><path d="M163.25 547.34L162.12 550.30L162.00 553.64L162.88 556.09L165.00 557.24L166.75 556.21L167.88 554.16L168.62 550.30L170.00 548.37L172.00 547.60L173.62 548.37L174.50 550.81L174.50 557.11M163.75 533.32L162.38 535.12L162.00 537.82L162.00 539.75L163.00 542.07L165.38 543.35L167.00 543.61L169.50 543.61L171.12 543.35L173.50 542.07L174.50 539.75L174.50 537.82L174.12 535.12L172.75 533.32M164.75 529.72L162.00 526.76L162.00 523.29L164.50 520.46L172.50 520.46L174.50 522.51L174.50 527.79L172.50 529.72L164.75 529.72M167.50 516.86L166.50 515.57L167.50 514.28L167.50 516.86M174.25 516.86L173.25 515.57L174.25 514.28L174.25 516.86M165.75 509.91L162.00 505.28L174.50 505.28M174.50 510.30L174.50 500.52M165.75 496.02L162.00 491.39L174.50 491.39M174.50 496.40L174.50 486.63" fill="none" stroke="#a0a0a0" stroke-width="1.45" stroke-linecap="round" stroke-linejoin="round"/><path d="M189.50 547.34L188.38 550.30L188.25 553.64L189.12 556.09L191.25 557.24L193.00 556.21L194.12 554.16L194.88 550.30L196.25 548.37L198.25 547.60L199.88 548.37L200.75 550.81L200.75 557.11M188.25 543.61L200.75 543.61L200.75 539.11L199.88 535.89L198.00 533.96L195.75 533.32L193.25 533.32L191.00 533.96L189.12 535.89L188.25 539.11L188.25 543.61M191.00 529.72L188.25 526.76L188.25 523.29L190.75 520.46L198.75 520.46L200.75 522.51L200.75 527.79L198.75 529.72L191.00 529.72M193.75 516.86L192.75 515.57L193.75 514.28L193.75 516.86M200.50 516.86L199.50 515.57L200.50 514.28L200.50 516.86M192.00 509.91L188.25 505.28L200.75 505.28M200.75 510.30L200.75 500.52M192.00 496.02L188.25 491.39L200.75 491.39M200.75 496.40L200.75 486.63" fill="none" stroke="#a0a0a0" stroke-width="1.45" stroke-linecap="round" stroke-linejoin="round"/><path d="M217.50 547.19L216.38 550.19L216.25 553.58L217.12 556.06L219.25 557.24L221.00 556.19L222.12 554.11L222.88 550.19L224.25 548.23L226.25 547.45L227.88 548.23L228.75 550.71L228.75 557.11M216.25 534.01L216.25 543.40L228.75 543.40L228.75 534.01M222.25 543.40L222.25 537.14M219.00 530.35L216.25 527.35L216.25 523.83L218.75 520.96L226.75 520.96L228.75 523.04L228.75 528.40L226.75 530.35L219.00 530.35M221.75 517.30L220.75 516.00L221.75 514.69L221.75 517.30M228.50 517.30L227.50 516.00L228.50 514.69L228.50 517.30M220.00 510.25L216.25 505.56L228.75 505.56M228.75 510.65L228.75 500.73M220.00 496.16L216.25 491.46L228.75 491.46M228.75 496.55L228.75 486.63" fill="none" stroke="#a0a0a0" stroke-width="1.45" stroke-linecap="round" stroke-linejoin="round"/><path d="M243.75 547.19L242.62 550.19L242.50 553.58L243.38 556.06L245.50 557.24L247.25 556.19L248.38 554.11L249.12 550.19L250.50 548.23L252.50 547.45L254.12 548.23L255.00 550.71L255.00 557.11M242.50 534.01L242.50 543.40L255.00 543.40M248.50 543.40L248.50 537.14M245.25 530.35L242.50 527.35L242.50 523.83L245.00 520.96L253.00 520.96L255.00 523.04L255.00 528.40L253.00 530.35L245.25 530.35M248.00 517.30L247.00 516.00L248.00 514.69L248.00 517.30M254.75 517.30L253.75 516.00L254.75 514.69L254.75 517.30M246.25 510.25L242.50 505.56L255.00 505.56M255.00 510.65L255.00 500.73M246.25 496.16L242.50 491.46L255.00 491.46M255.00 496.55L255.00 486.63" fill="none" stroke="#a0a0a0" stroke-width="1.45" stroke-linecap="round" stroke-linejoin="round"/><path d="M271.25 547.34L270.12 550.30L270.00 553.64L270.88 556.09L273.00 557.24L274.75 556.21L275.88 554.16L276.62 550.30L278.00 548.37L280.00 547.60L281.62 548.37L282.50 550.81L282.50 557.11M271.75 533.32L270.38 535.12L270.00 537.82L270.00 539.75L271.00 542.07L273.38 543.35L275.00 543.61L277.50 543.61L279.12 543.35L281.50 542.07L282.50 539.75L282.50 537.82L282.12 535.12L280.75 533.32L276.88 533.32L276.88 537.18M272.75 529.72L270.00 526.76L270.00 523.29L272.50 520.46L280.50 520.46L282.50 522.51L282.50 527.79L280.50 529.72L272.75 529.72M275.50 516.86L274.50 515.57L275.50 514.28L275.50 516.86M282.25 516.86L281.25 515.57L282.25 514.28L282.25 516.86M273.75 509.91L270.00 505.28L282.50 505.28M282.50 510.30L282.50 500.52M273.75 496.02L270.00 491.39L282.50 491.39M282.50 496.40L282.50 486.63" fill="none" stroke="#a0a0a0" stroke-width="1.45" stroke-linecap="round" stroke-linejoin="round"/><path d="M325.00 547.47L323.88 550.39L323.75 553.69L324.62 556.10L326.75 557.25L328.50 556.23L329.62 554.20L330.38 550.39L331.75 548.48L333.75 547.72L335.38 548.48L336.25 550.90L336.25 557.12M336.25 543.78L323.75 538.32L336.25 532.86M332.00 541.88L332.00 534.76M326.50 529.30L323.75 526.38L323.75 522.95L326.25 520.16L334.25 520.16L336.25 522.19L336.25 527.40L334.25 529.30L326.50 529.30M329.25 516.60L328.25 515.33L329.25 514.06L329.25 516.60M336.00 516.60L335.00 515.33L336.00 514.06L336.00 516.60M327.50 509.74L323.75 505.17L336.25 505.17M336.25 510.12L336.25 500.47M325.50 496.28L324.00 493.61L323.75 491.07L324.25 488.66L325.88 486.88L328.12 486.88L330.62 488.91L336.25 496.53L336.25 486.50" fill="none" stroke="#a0a0a0" stroke-width="1.45" stroke-linecap="round" stroke-linejoin="round"/><path d="M351.25 547.36L350.12 550.31L350.00 553.65L350.88 556.09L353.00 557.24L354.75 556.22L355.88 554.16L356.62 550.31L358.00 548.38L360.00 547.61L361.62 548.38L362.50 550.82L362.50 557.11M356.00 543.63L356.00 536.57L355.25 534.39L353.75 533.62L352.12 533.62L350.75 534.39L350.00 536.57L350.00 543.63L362.50 543.63L362.50 536.19L361.75 534.00L360.25 533.36L358.25 533.36L356.75 534.00L356.00 536.19M352.75 529.77L350.00 526.81L350.00 523.35L352.50 520.52L360.50 520.52L362.50 522.58L362.50 527.84L360.50 529.77L352.75 529.77M355.50 516.93L354.50 515.64L355.50 514.36L355.50 516.93M362.25 516.93L361.25 515.64L362.25 514.36L362.25 516.93M353.75 510.00L350.00 505.37L362.50 505.37M362.50 510.38L362.50 500.62M351.75 496.39L350.25 493.69L350.00 491.12L350.50 488.68L352.12 486.89L354.38 486.89L356.88 488.94L362.50 496.64L362.50 486.50" fill="none" stroke="#a0a0a0" stroke-width="1.45" stroke-linecap="round" stroke-linejoin="round"/><path d="M377.50 547.36L376.38 550.31L376.25 553.65L377.12 556.09L379.25 557.24L381.00 556.22L382.12 554.16L382.88 550.31L384.25 548.38L386.25 547.61L387.88 548.38L388.75 550.82L388.75 557.11M378.00 533.36L376.62 535.16L376.25 537.86L376.25 539.78L377.25 542.09L379.62 543.38L381.25 543.63L383.75 543.63L385.38 543.38L387.75 542.09L388.75 539.78L388.75 537.86L388.38 535.16L387.00 533.36M379.00 529.77L376.25 526.81L376.25 523.35L378.75 520.52L386.75 520.52L388.75 522.58L388.75 527.84L386.75 529.77L379.00 529.77M381.75 516.93L380.75 515.64L381.75 514.36L381.75 516.93M388.50 516.93L387.50 515.64L388.50 514.36L388.50 516.93M380.00 510.00L376.25 505.37L388.75 505.37M388.75 510.38L388.75 500.62M378.00 496.39L376.50 493.69L376.25 491.12L376.75 488.68L378.38 486.89L380.62 486.89L383.12 488.94L388.75 496.64L388.75 486.50" fill="none" stroke="#a0a0a0" stroke-width="1.45" stroke-linecap="round" stroke-linejoin="round"/><path d="M431.00 547.36L429.88 550.31L429.75 553.65L430.62 556.09L432.75 557.24L434.50 556.22L435.62 554.16L436.38 550.31L437.75 548.38L439.75 547.61L441.38 548.38L442.25 550.82L442.25 557.11M429.75 543.63L442.25 543.63L442.25 539.14L441.38 535.93L439.50 534.00L437.25 533.36L434.75 533.36L432.50 534.00L430.62 535.93L429.75 539.14L429.75 543.63M432.50 529.77L429.75 526.81L429.75 523.35L432.25 520.52L440.25 520.52L442.25 522.58L442.25 527.84L440.25 529.77L432.50 529.77M435.25 516.93L434.25 515.64L435.25 514.36L435.25 516.93M442.00 516.93L441.00 515.64L442.00 514.36L442.00 516.93M433.50 510.00L429.75 505.37L442.25 505.37M442.25 510.38L442.25 500.62M431.50 496.39L430.00 493.69L429.75 491.12L430.25 488.68L431.88 486.89L434.12 486.89L436.62 488.94L442.25 496.64L442.25 486.50" fill="none" stroke="#a0a0a0" stroke-width="1.45" stroke-linecap="round" stroke-linejoin="round"/><path d="M458.00 547.21L456.88 550.20L456.75 553.59L457.62 556.07L459.75 557.24L461.50 556.20L462.62 554.11L463.38 550.20L464.75 548.25L466.75 547.47L468.38 548.25L469.25 550.73L469.25 557.11M456.75 534.05L456.75 543.43L469.25 543.43L469.25 534.05M462.75 543.43L462.75 537.18M459.50 530.40L456.75 527.41L456.75 523.89L459.25 521.02L467.25 521.02L469.25 523.11L469.25 528.45L467.25 530.40L459.50 530.40M462.25 517.38L461.25 516.07L462.25 514.77L462.25 517.38M469.00 517.38L468.00 516.07L469.00 514.77L469.00 517.38M460.50 510.34L456.75 505.65L469.25 505.65M469.25 510.73L469.25 500.83M458.50 496.53L457.00 493.80L456.75 491.19L457.25 488.71L458.88 486.89L461.12 486.89L463.62 488.98L469.25 496.79L469.25 486.50" fill="none" stroke="#a0a0a0" stroke-width="1.45" stroke-linecap="round" stroke-linejoin="round"/><path d="M485.00 547.21L483.88 550.20L483.75 553.59L484.62 556.07L486.75 557.24L488.50 556.20L489.62 554.11L490.38 550.20L491.75 548.25L493.75 547.47L495.38 548.25L496.25 550.73L496.25 557.11M483.75 534.05L483.75 543.43L496.25 543.43M489.75 543.43L489.75 537.18M486.50 530.40L483.75 527.41L483.75 523.89L486.25 521.02L494.25 521.02L496.25 523.11L496.25 528.45L494.25 530.40L486.50 530.40M489.25 517.38L488.25 516.07L489.25 514.77L489.25 517.38M496.00 517.38L495.00 516.07L496.00 514.77L496.00 517.38M487.50 510.34L483.75 505.65L496.25 505.65M496.25 510.73L496.25 500.83M485.50 496.53L484.00 493.80L483.75 491.19L484.25 488.71L485.88 486.89L488.12 486.89L490.62 488.98L496.25 496.79L496.25 486.50" fill="none" stroke="#a0a0a0" stroke-width="1.45" stroke-linecap="round" stroke-linejoin="round"/><path d="M591.00 547.45L589.88 550.37L589.75 553.68L590.62 556.10L592.75 557.25L594.50 556.23L595.62 554.19L596.38 550.37L597.75 548.47L599.75 547.70L601.38 548.47L602.25 550.88L602.25 557.12M602.25 543.76L589.75 538.29L602.25 532.82M598.00 541.85L598.00 534.72M592.50 529.25L589.75 526.33L589.75 522.89L592.25 520.09L600.25 520.09L602.25 522.13L602.25 527.34L600.25 529.25L592.50 529.25M595.25 516.53L594.25 515.26L595.25 513.98L595.25 516.53M602.00 516.53L601.00 515.26L602.00 513.98L602.00 516.53M593.50 509.66L589.75 505.08L602.25 505.08M602.25 510.04L602.25 500.37M589.75 496.04L589.75 487.14L595.00 492.48L595.00 490.32L595.62 488.03L597.25 486.63L600.00 486.63L601.75 488.03L602.25 490.95L602.00 493.88L600.75 496.30" fill="none" stroke="#a0a0a0" stroke-width="1.45" stroke-linecap="round" stroke-linejoin="round"/><path d="M619.00 547.34L617.88 550.30L617.75 553.64L618.62 556.09L620.75 557.24L622.50 556.21L623.62 554.16L624.38 550.30L625.75 548.37L627.75 547.60L629.38 548.37L630.25 550.81L630.25 557.11M623.75 543.61L623.75 536.53L623.00 534.35L621.50 533.58L619.88 533.58L618.50 534.35L617.75 536.53L617.75 543.61L630.25 543.61L630.25 536.15L629.50 533.96L628.00 533.32L626.00 533.32L624.50 533.96L623.75 536.15M620.50 529.72L617.75 526.76L617.75 523.29L620.25 520.46L628.25 520.46L630.25 522.51L630.25 527.79L628.25 529.72L620.50 529.72M623.25 516.86L622.25 515.57L623.25 514.28L623.25 516.86M630.00 516.86L629.00 515.57L630.00 514.28L630.00 516.86M621.50 509.91L617.75 505.28L630.25 505.28M630.25 510.30L630.25 500.52M617.75 496.15L617.75 487.14L623.00 492.55L623.00 490.36L623.62 488.04L625.25 486.63L628.00 486.63L629.75 488.04L630.25 491.00L630.00 493.96L628.75 496.40" fill="none" stroke="#a0a0a0" stroke-width="1.45" stroke-linecap="round" stroke-linejoin="round"/><path d="M646.00 547.34L644.88 550.30L644.75 553.64L645.62 556.09L647.75 557.24L649.50 556.21L650.62 554.16L651.38 550.30L652.75 548.37L654.75 547.60L656.38 548.37L657.25 550.81L657.25 557.11M646.50 533.32L645.12 535.12L644.75 537.82L644.75 539.75L645.75 542.07L648.12 543.35L649.75 543.61L652.25 543.61L653.88 543.35L656.25 542.07L657.25 539.75L657.25 537.82L656.88 535.12L655.50 533.32M647.50 529.72L644.75 526.76L644.75 523.29L647.25 520.46L655.25 520.46L657.25 522.51L657.25 527.79L655.25 529.72L647.50 529.72M650.25 516.86L649.25 515.57L650.25 514.28L650.25 516.86M657.00 516.86L656.00 515.57L657.00 514.28L657.00 516.86M648.50 509.91L644.75 505.28L657.25 505.28M657.25 510.30L657.25 500.52M644.75 496.15L644.75 487.14L650.00 492.55L650.00 490.36L650.62 488.04L652.25 486.63L655.00 486.63L656.75 488.04L657.25 491.00L657.00 493.96L655.75 496.40" fill="none" stroke="#a0a0a0" stroke-width="1.45" stroke-linecap="round" stroke-linejoin="round"/><path d="M700.00 547.34L698.88 550.30L698.75 553.64L699.62 556.09L701.75 557.24L703.50 556.21L704.62 554.16L705.38 550.30L706.75 548.37L708.75 547.60L710.38 548.37L711.25 550.81L711.25 557.11M698.75 543.61L711.25 543.61L711.25 539.11L710.38 535.89L708.50 533.96L706.25 533.32L703.75 533.32L701.50 533.96L699.62 535.89L698.75 539.11L698.75 543.61M701.50 529.72L698.75 526.76L698.75 523.29L701.25 520.46L709.25 520.46L711.25 522.51L711.25 527.79L709.25 529.72L701.50 529.72M704.25 516.86L703.25 515.57L704.25 514.28L704.25 516.86M711.00 516.86L710.00 515.57L711.00 514.28L711.00 516.86M702.50 509.91L698.75 505.28L711.25 505.28M711.25 510.30L711.25 500.52M698.75 496.15L698.75 487.14L704.00 492.55L704.00 490.36L704.62 488.04L706.25 486.63L709.00 486.63L710.75 488.04L711.25 491.00L711.00 493.96L709.75 496.40" fill="none" stroke="#a0a0a0" stroke-width="1.45" stroke-linecap="round" stroke-linejoin="round"/><path d="M-7.80 192.80L-7.80 183.20L-3.09 183.20L-1.63 183.78L-1.12 184.74L-1.12 186.37L-1.63 187.33L-3.09 187.90L-7.80 187.90M-4.20 187.90L-0.95 192.80M1.45 185.50L3.34 183.20L6.42 183.20L8.31 185.31L8.31 190.88L6.59 192.80L3.17 192.80L1.45 190.88L1.45 185.50M10.71 183.20L13.02 192.80L15.08 185.79L17.13 192.80L19.45 183.20M22.36 186.08L25.44 183.20L25.44 192.80M22.10 192.80L28.61 192.80" fill="none" stroke="#ffffff" stroke-width="1.4" stroke-linecap="round" stroke-linejoin="round"/><path d="M207.50 192.80L207.50 183.40L212.02 183.40L213.42 183.96L213.91 184.90L213.91 186.50L213.42 187.44L212.02 188.01L207.50 188.01M210.95 188.01L214.07 192.80M216.37 185.66L218.18 183.40L221.14 183.40L222.95 185.47L222.95 190.92L221.30 192.80L218.02 192.80L216.37 190.92L216.37 185.66M225.25 183.40L227.46 192.80L229.44 185.94L231.41 192.80L233.63 183.40M236.42 186.22L239.38 183.40L239.38 192.80M236.17 192.80L242.42 192.80" fill="none" stroke="#ffffff" stroke-width="1.4" stroke-linecap="round" stroke-linejoin="round"/></g><g><path d="M88.96 180.05L91.66 177.80L91.66 185.30M88.74 185.30L94.44 185.30" fill="none" stroke="#ffffff" stroke-width="1.5" stroke-linecap="round" stroke-linejoin="round"/><path d="M81.61 197.30L81.61 192.30L84.22 192.30L85.03 192.60L85.31 193.10L85.31 193.95L85.03 194.45L84.22 194.75L81.61 194.75M83.61 194.75L85.41 197.30M86.74 193.50L87.78 192.30L89.49 192.30L90.53 193.40L90.53 196.30L89.58 197.30L87.68 197.30L86.74 196.30L86.74 193.50M91.86 192.30L93.14 197.30L94.27 193.65L95.41 197.30L96.69 192.30M98.31 193.80L100.01 192.30L100.01 197.30M98.16 197.30L101.77 197.30" fill="none" stroke="#ffffff" stroke-width="1.3" stroke-linecap="round" stroke-linejoin="round"/><path d="M17.42 207.68L19.03 206.75L20.56 206.60L22.01 206.91L23.08 207.91L23.08 209.30L21.86 210.84L17.27 214.30L23.31 214.30" fill="none" stroke="#ffffff" stroke-width="1.5" stroke-linecap="round" stroke-linejoin="round"/><path d="M142.54 180.05L145.24 177.80L145.24 185.30M142.31 185.30L148.01 185.30" fill="none" stroke="#ffffff" stroke-width="1.5" stroke-linecap="round" stroke-linejoin="round"/><path d="M135.19 197.30L135.19 192.30L137.79 192.30L138.60 192.60L138.88 193.10L138.88 193.95L138.60 194.45L137.79 194.75L135.19 194.75M137.18 194.75L138.98 197.30M140.31 193.50L141.35 192.30L143.06 192.30L144.10 193.40L144.10 196.30L143.15 197.30L141.26 197.30L140.31 196.30L140.31 193.50M145.43 192.30L146.71 197.30L147.85 193.65L148.98 197.30L150.26 192.30M151.88 193.80L153.58 192.30L153.58 197.30M151.73 197.30L155.34 197.30" fill="none" stroke="#ffffff" stroke-width="1.3" stroke-linecap="round" stroke-linejoin="round"/><path d="M70.99 207.68L72.60 206.75L74.13 206.60L75.58 206.91L76.66 207.91L76.66 209.30L75.43 210.84L70.84 214.30L76.89 214.30" fill="none" stroke="#ffffff" stroke-width="1.5" stroke-linecap="round" stroke-linejoin="round"/><path d="M303.25 180.05L305.95 177.80L305.95 185.30M303.03 185.30L308.73 185.30" fill="none" stroke="#ffffff" stroke-width="1.5" stroke-linecap="round" stroke-linejoin="round"/><path d="M295.90 197.30L295.90 192.30L298.51 192.30L299.31 192.60L299.60 193.10L299.60 193.95L299.31 194.45L298.51 194.75L295.90 194.75M297.89 194.75L299.69 197.30M301.02 193.50L302.06 192.30L303.77 192.30L304.81 193.40L304.81 196.30L303.87 197.30L301.97 197.30L301.02 196.30L301.02 193.50M306.14 192.30L307.42 197.30L308.56 193.65L309.70 197.30L310.98 192.30M312.59 193.80L314.30 192.30L314.30 197.30M312.45 197.30L316.05 197.30" fill="none" stroke="#ffffff" stroke-width="1.3" stroke-linecap="round" stroke-linejoin="round"/><path d="M231.71 207.68L233.31 206.75L234.84 206.60L236.30 206.91L237.37 207.91L237.37 209.30L236.15 210.84L231.55 214.30L237.60 214.30" fill="none" stroke="#ffffff" stroke-width="1.5" stroke-linecap="round" stroke-linejoin="round"/><path d="M330.04 180.05L332.74 177.80L332.74 185.30M329.81 185.30L335.51 185.30" fill="none" stroke="#ffffff" stroke-width="1.5" stroke-linecap="round" stroke-linejoin="round"/><path d="M322.69 197.30L322.69 192.30L325.29 192.30L326.10 192.60L326.38 193.10L326.38 193.95L326.10 194.45L325.29 194.75L322.69 194.75M324.68 194.75L326.48 197.30M327.81 193.50L328.85 192.30L330.56 192.30L331.60 193.40L331.60 196.30L330.65 197.30L328.76 197.30L327.81 196.30L327.81 193.50M332.93 192.30L334.21 197.30L335.35 193.65L336.48 197.30L337.76 192.30M339.38 193.80L341.08 192.30L341.08 197.30M339.23 197.30L342.84 197.30" fill="none" stroke="#ffffff" stroke-width="1.3" stroke-linecap="round" stroke-linejoin="round"/><path d="M258.49 207.68L260.10 206.75L261.63 206.60L263.08 206.91L264.16 207.91L264.16 209.30L262.93 210.84L258.34 214.30L264.39 214.30" fill="none" stroke="#ffffff" stroke-width="1.5" stroke-linecap="round" stroke-linejoin="round"/><path d="M356.82 180.05L359.52 177.80L359.52 185.30M356.60 185.30L362.30 185.30" fill="none" stroke="#ffffff" stroke-width="1.5" stroke-linecap="round" stroke-linejoin="round"/><path d="M349.47 197.30L349.47 192.30L352.08 192.30L352.89 192.60L353.17 193.10L353.17 193.95L352.89 194.45L352.08 194.75L349.47 194.75M351.46 194.75L353.26 197.30M354.59 193.50L355.64 192.30L357.34 192.30L358.39 193.40L358.39 196.30L357.44 197.30L355.54 197.30L354.59 196.30L354.59 193.50M359.71 192.30L360.99 197.30L362.13 193.65L363.27 197.30L364.55 192.30M366.16 193.80L367.87 192.30L367.87 197.30M366.02 197.30L369.62 197.30" fill="none" stroke="#ffffff" stroke-width="1.3" stroke-linecap="round" stroke-linejoin="round"/><path d="M285.28 207.68L286.89 206.75L288.42 206.60L289.87 206.91L290.94 207.91L290.94 209.30L289.72 210.84L285.12 214.30L291.17 214.30" fill="none" stroke="#ffffff" stroke-width="1.5" stroke-linecap="round" stroke-linejoin="round"/><path d="M383.61 180.05L386.31 177.80L386.31 185.30M383.38 185.30L389.08 185.30" fill="none" stroke="#ffffff" stroke-width="1.5" stroke-linecap="round" stroke-linejoin="round"/><path d="M376.26 197.30L376.26 192.30L378.87 192.30L379.67 192.60L379.96 193.10L379.96 193.95L379.67 194.45L378.87 194.75L376.26 194.75M378.25 194.75L380.05 197.30M381.38 193.50L382.42 192.30L384.13 192.30L385.17 193.40L385.17 196.30L384.22 197.30L382.33 197.30L381.38 196.30L381.38 193.50M386.50 192.30L387.78 197.30L388.92 193.65L390.06 197.30L391.34 192.30M392.95 193.80L394.66 192.30L394.66 197.30M392.81 197.30L396.41 197.30" fill="none" stroke="#ffffff" stroke-width="1.3" stroke-linecap="round" stroke-linejoin="round"/><path d="M312.06 207.68L313.67 206.75L315.20 206.60L316.66 206.91L317.73 207.91L317.73 209.30L316.50 210.84L311.91 214.30L317.96 214.30" fill="none" stroke="#ffffff" stroke-width="1.5" stroke-linecap="round" stroke-linejoin="round"/><path d="M410.39 180.05L413.09 177.80L413.09 185.30M410.17 185.30L415.87 185.30" fill="none" stroke="#ffffff" stroke-width="1.5" stroke-linecap="round" stroke-linejoin="round"/><path d="M403.04 197.30L403.04 192.30L405.65 192.30L406.46 192.60L406.74 193.10L406.74 193.95L406.46 194.45L405.65 194.75L403.04 194.75M405.03 194.75L406.84 197.30M408.16 193.50L409.21 192.30L410.91 192.30L411.96 193.40L411.96 196.30L411.01 197.30L409.11 197.30L408.16 196.30L408.16 193.50M413.29 192.30L414.57 197.30L415.70 193.65L416.84 197.30L418.12 192.30M419.73 193.80L421.44 192.30L421.44 197.30M419.59 197.30L423.20 197.30" fill="none" stroke="#ffffff" stroke-width="1.3" stroke-linecap="round" stroke-linejoin="round"/><path d="M338.85 207.68L340.46 206.75L341.99 206.60L343.44 206.91L344.51 207.91L344.51 209.30L343.29 210.84L338.70 214.30L344.74 214.30" fill="none" stroke="#ffffff" stroke-width="1.5" stroke-linecap="round" stroke-linejoin="round"/><path d="M437.18 180.05L439.88 177.80L439.88 185.30M436.95 185.30L442.65 185.30" fill="none" stroke="#ffffff" stroke-width="1.5" stroke-linecap="round" stroke-linejoin="round"/><path d="M429.83 197.30L429.83 192.30L432.44 192.30L433.24 192.60L433.53 193.10L433.53 193.95L433.24 194.45L432.44 194.75L429.83 194.75M431.82 194.75L433.62 197.30M434.95 193.50L435.99 192.30L437.70 192.30L438.74 193.40L438.74 196.30L437.79 197.30L435.90 197.30L434.95 196.30L434.95 193.50M440.07 192.30L441.35 197.30L442.49 193.65L443.63 197.30L444.91 192.30M446.52 193.80L448.23 192.30L448.23 197.30M446.38 197.30L449.98 197.30" fill="none" stroke="#ffffff" stroke-width="1.3" stroke-linecap="round" stroke-linejoin="round"/><path d="M365.63 207.68L367.24 206.75L368.77 206.60L370.23 206.91L371.30 207.91L371.30 209.30L370.07 210.84L365.48 214.30L371.53 214.30" fill="none" stroke="#ffffff" stroke-width="1.5" stroke-linecap="round" stroke-linejoin="round"/><path d="M517.54 180.05L520.24 177.80L520.24 185.30M517.31 185.30L523.01 185.30" fill="none" stroke="#ffffff" stroke-width="1.5" stroke-linecap="round" stroke-linejoin="round"/><path d="M510.19 197.30L510.19 192.30L512.79 192.30L513.60 192.60L513.88 193.10L513.88 193.95L513.60 194.45L512.79 194.75L510.19 194.75M512.18 194.75L513.98 197.30M515.31 193.50L516.35 192.30L518.06 192.30L519.10 193.40L519.10 196.30L518.15 197.30L516.26 197.30L515.31 196.30L515.31 193.50M520.43 192.30L521.71 197.30L522.85 193.65L523.98 197.30L525.26 192.30M526.88 193.80L528.58 192.30L528.58 197.30M526.73 197.30L530.34 197.30" fill="none" stroke="#ffffff" stroke-width="1.3" stroke-linecap="round" stroke-linejoin="round"/><path d="M445.99 207.68L447.60 206.75L449.13 206.60L450.58 206.91L451.66 207.91L451.66 209.30L450.43 210.84L445.84 214.30L451.89 214.30" fill="none" stroke="#ffffff" stroke-width="1.5" stroke-linecap="round" stroke-linejoin="round"/><path d="M544.32 180.05L547.02 177.80L547.02 185.30M544.10 185.30L549.80 185.30" fill="none" stroke="#ffffff" stroke-width="1.5" stroke-linecap="round" stroke-linejoin="round"/><path d="M536.97 197.30L536.97 192.30L539.58 192.30L540.39 192.60L540.67 193.10L540.67 193.95L540.39 194.45L539.58 194.75L536.97 194.75M538.96 194.75L540.76 197.30M542.09 193.50L543.14 192.30L544.84 192.30L545.89 193.40L545.89 196.30L544.94 197.30L543.04 197.30L542.09 196.30L542.09 193.50M547.21 192.30L548.49 197.30L549.63 193.65L550.77 197.30L552.05 192.30M553.66 193.80L555.37 192.30L555.37 197.30M553.52 197.30L557.12 197.30" fill="none" stroke="#ffffff" stroke-width="1.3" stroke-linecap="round" stroke-linejoin="round"/><path d="M472.78 207.68L474.38 206.75L475.92 206.60L477.37 206.91L478.44 207.91L478.44 209.30L477.22 210.84L472.62 214.30L478.67 214.30" fill="none" stroke="#ffffff" stroke-width="1.5" stroke-linecap="round" stroke-linejoin="round"/><path d="M624.68 180.05L627.38 177.80L627.38 185.30M624.45 185.30L630.15 185.30" fill="none" stroke="#ffffff" stroke-width="1.5" stroke-linecap="round" stroke-linejoin="round"/><path d="M617.33 197.30L617.33 192.30L619.94 192.30L620.74 192.60L621.03 193.10L621.03 193.95L620.74 194.45L619.94 194.75L617.33 194.75M619.32 194.75L621.12 197.30M622.45 193.50L623.49 192.30L625.20 192.30L626.24 193.40L626.24 196.30L625.29 197.30L623.40 197.30L622.45 196.30L622.45 193.50M627.57 192.30L628.85 197.30L629.99 193.65L631.13 197.30L632.41 192.30M634.02 193.80L635.73 192.30L635.73 197.30M633.88 197.30L637.48 197.30" fill="none" stroke="#ffffff" stroke-width="1.3" stroke-linecap="round" stroke-linejoin="round"/><path d="M553.13 207.68L554.74 206.75L556.27 206.60L557.73 206.91L558.80 207.91L558.80 209.30L557.57 210.84L552.98 214.30L559.03 214.30" fill="none" stroke="#ffffff" stroke-width="1.5" stroke-linecap="round" stroke-linejoin="round"/><path d="M651.46 180.05L654.16 177.80L654.16 185.30M651.24 185.30L656.94 185.30" fill="none" stroke="#ffffff" stroke-width="1.5" stroke-linecap="round" stroke-linejoin="round"/><path d="M644.11 197.30L644.11 192.30L646.72 192.30L647.53 192.60L647.81 193.10L647.81 193.95L647.53 194.45L646.72 194.75L644.11 194.75M646.11 194.75L647.91 197.30M649.24 193.50L650.28 192.30L651.99 192.30L653.03 193.40L653.03 196.30L652.08 197.30L650.18 197.30L649.24 196.30L649.24 193.50M654.36 192.30L655.64 197.30L656.77 193.65L657.91 197.30L659.19 192.30M660.81 193.80L662.51 192.30L662.51 197.30M660.66 197.30L664.27 197.30" fill="none" stroke="#ffffff" stroke-width="1.3" stroke-linecap="round" stroke-linejoin="round"/><path d="M579.92 207.68L581.53 206.75L583.06 206.60L584.51 206.91L585.58 207.91L585.58 209.30L584.36 210.84L579.77 214.30L585.81 214.30" fill="none" stroke="#ffffff" stroke-width="1.5" stroke-linecap="round" stroke-linejoin="round"/><path d="M678.25 180.05L680.95 177.80L680.95 185.30M678.02 185.30L683.72 185.30" fill="none" stroke="#ffffff" stroke-width="1.5" stroke-linecap="round" stroke-linejoin="round"/><path d="M670.90 197.30L670.90 192.30L673.51 192.30L674.31 192.60L674.60 193.10L674.60 193.95L674.31 194.45L673.51 194.75L670.90 194.75M672.89 194.75L674.69 197.30M676.02 193.50L677.06 192.30L678.77 192.30L679.81 193.40L679.81 196.30L678.87 197.30L676.97 197.30L676.02 196.30L676.02 193.50M681.14 192.30L682.42 197.30L683.56 193.65L684.70 197.30L685.98 192.30M687.59 193.80L689.30 192.30L689.30 197.30M687.45 197.30L691.05 197.30" fill="none" stroke="#ffffff" stroke-width="1.3" stroke-linecap="round" stroke-linejoin="round"/><path d="M606.71 207.68L608.31 206.75L609.84 206.60L611.30 206.91L612.37 207.91L612.37 209.30L611.15 210.84L606.55 214.30L612.60 214.30" fill="none" stroke="#ffffff" stroke-width="1.5" stroke-linecap="round" stroke-linejoin="round"/><path d="M705.04 180.05L707.74 177.80L707.74 185.30M704.81 185.30L710.51 185.30" fill="none" stroke="#ffffff" stroke-width="1.5" stroke-linecap="round" stroke-linejoin="round"/><path d="M697.69 197.30L697.69 192.30L700.29 192.30L701.10 192.60L701.38 193.10L701.38 193.95L701.10 194.45L700.29 194.75L697.69 194.75M699.68 194.75L701.48 197.30M702.81 193.50L703.85 192.30L705.56 192.30L706.60 193.40L706.60 196.30L705.65 197.30L703.76 197.30L702.81 196.30L702.81 193.50M707.93 192.30L709.21 197.30L710.35 193.65L711.48 197.30L712.76 192.30M714.38 193.80L716.08 192.30L716.08 197.30M714.23 197.30L717.84 197.30" fill="none" stroke="#ffffff" stroke-width="1.3" stroke-linecap="round" stroke-linejoin="round"/><path d="M633.49 207.68L635.10 206.75L636.63 206.60L638.08 206.91L639.16 207.91L639.16 209.30L637.93 210.84L633.34 214.30L639.39 214.30" fill="none" stroke="#ffffff" stroke-width="1.5" stroke-linecap="round" stroke-linejoin="round"/><path d="M731.82 180.05L734.52 177.80L734.52 185.30M731.60 185.30L737.30 185.30" fill="none" stroke="#ffffff" stroke-width="1.5" stroke-linecap="round" stroke-linejoin="round"/><path d="M724.47 197.30L724.47 192.30L727.08 192.30L727.89 192.60L728.17 193.10L728.17 193.95L727.89 194.45L727.08 194.75L724.47 194.75M726.46 194.75L728.26 197.30M729.59 193.50L730.64 192.30L732.34 192.30L733.39 193.40L733.39 196.30L732.44 197.30L730.54 197.30L729.59 196.30L729.59 193.50M734.71 192.30L735.99 197.30L737.13 193.65L738.27 197.30L739.55 192.30M741.16 193.80L742.87 192.30L742.87 197.30M741.02 197.30L744.62 197.30" fill="none" stroke="#ffffff" stroke-width="1.3" stroke-linecap="round" stroke-linejoin="round"/><path d="M660.28 207.68L661.88 206.75L663.42 206.60L664.87 206.91L665.94 207.91L665.94 209.30L664.72 210.84L660.12 214.30L666.17 214.30" fill="none" stroke="#ffffff" stroke-width="1.5" stroke-linecap="round" stroke-linejoin="round"/><path d="M35.39 394.35L38.09 392.10L38.09 399.60M35.17 399.60L40.87 399.60" fill="none" stroke="#ffffff" stroke-width="1.5" stroke-linecap="round" stroke-linejoin="round"/><path d="M28.04 411.60L28.04 406.60L30.70 406.60L31.52 406.90L31.81 407.40L31.81 408.25L31.52 408.75L30.70 409.05L28.04 409.05M30.07 409.05L31.91 411.60M33.26 407.80L34.33 406.60L36.06 406.60L37.13 407.70L37.13 410.60L36.16 411.60L34.23 411.60L33.26 410.60L33.26 407.80M38.48 406.60L39.79 411.60L40.95 407.95L42.11 411.60L43.41 406.60M44.76 407.70L45.87 406.60L47.18 406.60L48.24 407.60L48.24 410.80L47.47 411.60L45.49 411.60L44.76 410.80L44.76 407.70" fill="none" stroke="#ffffff" stroke-width="1.3" stroke-linecap="round" stroke-linejoin="round"/><path d="M62.18 394.35L64.88 392.10L64.88 399.60M61.95 399.60L67.65 399.60" fill="none" stroke="#ffffff" stroke-width="1.5" stroke-linecap="round" stroke-linejoin="round"/><path d="M54.83 411.60L54.83 406.60L57.49 406.60L58.31 406.90L58.60 407.40L58.60 408.25L58.31 408.75L57.49 409.05L54.83 409.05M56.86 409.05L58.69 411.60M60.05 407.80L61.11 406.60L62.85 406.60L63.91 407.70L63.91 410.60L62.95 411.60L61.01 411.60L60.05 410.60L60.05 407.80M65.27 406.60L66.57 411.60L67.73 407.95L68.89 411.60L70.20 406.60M71.55 407.70L72.66 406.60L73.97 406.60L75.03 407.60L75.03 410.80L74.26 411.60L72.27 411.60L71.55 410.80L71.55 407.70" fill="none" stroke="#ffffff" stroke-width="1.3" stroke-linecap="round" stroke-linejoin="round"/><path d="M115.75 394.35L118.45 392.10L118.45 399.60M115.53 399.60L121.23 399.60" fill="none" stroke="#ffffff" stroke-width="1.5" stroke-linecap="round" stroke-linejoin="round"/><path d="M108.40 411.60L108.40 406.60L111.06 406.60L111.88 406.90L112.17 407.40L112.17 408.25L111.88 408.75L111.06 409.05L108.40 409.05M110.43 409.05L112.27 411.60M113.62 407.80L114.68 406.60L116.42 406.60L117.49 407.70L117.49 410.60L116.52 411.60L114.59 411.60L113.62 410.60L113.62 407.80M118.84 406.60L120.14 411.60L121.30 407.95L122.46 411.60L123.77 406.60M125.12 407.70L126.23 406.60L127.54 406.60L128.60 407.60L128.60 410.80L127.83 411.60L125.85 411.60L125.12 410.80L125.12 407.70" fill="none" stroke="#ffffff" stroke-width="1.3" stroke-linecap="round" stroke-linejoin="round"/><path d="M142.54 394.35L145.24 392.10L145.24 399.60M142.31 399.60L148.01 399.60" fill="none" stroke="#ffffff" stroke-width="1.5" stroke-linecap="round" stroke-linejoin="round"/><path d="M135.19 411.60L135.19 406.60L137.84 406.60L138.67 406.90L138.96 407.40L138.96 408.25L138.67 408.75L137.84 409.05L135.19 409.05M137.22 409.05L139.05 411.60M140.40 407.80L141.47 406.60L143.21 406.60L144.27 407.70L144.27 410.60L143.30 411.60L141.37 411.60L140.40 410.60L140.40 407.80M145.62 406.60L146.93 411.60L148.09 407.95L149.25 411.60L150.55 406.60M151.91 407.70L153.02 406.60L154.32 406.60L155.39 407.60L155.39 410.80L154.61 411.60L152.63 411.60L151.91 410.80L151.91 407.70" fill="none" stroke="#ffffff" stroke-width="1.3" stroke-linecap="round" stroke-linejoin="round"/><path d="M169.32 394.35L172.02 392.10L172.02 399.60M169.10 399.60L174.80 399.60" fill="none" stroke="#ffffff" stroke-width="1.5" stroke-linecap="round" stroke-linejoin="round"/><path d="M161.97 411.60L161.97 406.60L164.63 406.60L165.45 406.90L165.74 407.40L165.74 408.25L165.45 408.75L164.63 409.05L161.97 409.05M164.00 409.05L165.84 411.60M167.19 407.80L168.25 406.60L169.99 406.60L171.06 407.70L171.06 410.60L170.09 411.60L168.16 411.60L167.19 410.60L167.19 407.80M172.41 406.60L173.71 411.60L174.87 407.95L176.03 411.60L177.34 406.60M178.69 407.70L179.80 406.60L181.11 406.60L182.17 407.60L182.17 410.80L181.40 411.60L179.42 411.60L178.69 410.80L178.69 407.70" fill="none" stroke="#ffffff" stroke-width="1.3" stroke-linecap="round" stroke-linejoin="round"/><path d="M196.11 394.35L198.81 392.10L198.81 399.60M195.88 399.60L201.58 399.60" fill="none" stroke="#ffffff" stroke-width="1.5" stroke-linecap="round" stroke-linejoin="round"/><path d="M188.76 411.60L188.76 406.60L191.42 406.60L192.24 406.90L192.53 407.40L192.53 408.25L192.24 408.75L191.42 409.05L188.76 409.05M190.79 409.05L192.62 411.60M193.98 407.80L195.04 406.60L196.78 406.60L197.84 407.70L197.84 410.60L196.88 411.60L194.94 411.60L193.98 410.60L193.98 407.80M199.20 406.60L200.50 411.60L201.66 407.95L202.82 411.60L204.12 406.60M205.48 407.70L206.59 406.60L207.89 406.60L208.96 407.60L208.96 410.80L208.18 411.60L206.20 411.60L205.48 410.80L205.48 407.70" fill="none" stroke="#ffffff" stroke-width="1.3" stroke-linecap="round" stroke-linejoin="round"/><path d="M222.89 394.35L225.59 392.10L225.59 399.60M222.67 399.60L228.37 399.60" fill="none" stroke="#ffffff" stroke-width="1.5" stroke-linecap="round" stroke-linejoin="round"/><path d="M215.54 411.60L215.54 406.60L218.20 406.60L219.02 406.90L219.31 407.40L219.31 408.25L219.02 408.75L218.20 409.05L215.54 409.05M217.57 409.05L219.41 411.60M220.76 407.80L221.83 406.60L223.56 406.60L224.63 407.70L224.63 410.60L223.66 411.60L221.73 411.60L220.76 410.60L220.76 407.80M225.98 406.60L227.29 411.60L228.45 407.95L229.61 411.60L230.91 406.60M232.26 407.70L233.37 406.60L234.68 406.60L235.74 407.60L235.74 410.80L234.97 411.60L232.99 411.60L232.26 410.80L232.26 407.70" fill="none" stroke="#ffffff" stroke-width="1.3" stroke-linecap="round" stroke-linejoin="round"/><path d="M249.68 394.35L252.38 392.10L252.38 399.60M249.45 399.60L255.15 399.60" fill="none" stroke="#ffffff" stroke-width="1.5" stroke-linecap="round" stroke-linejoin="round"/><path d="M242.33 411.60L242.33 406.60L244.99 406.60L245.81 406.90L246.10 407.40L246.10 408.25L245.81 408.75L244.99 409.05L242.33 409.05M244.36 409.05L246.19 411.60M247.55 407.80L248.61 406.60L250.35 406.60L251.41 407.70L251.41 410.60L250.45 411.60L248.51 411.60L247.55 410.60L247.55 407.80M252.77 406.60L254.07 411.60L255.23 407.95L256.39 411.60L257.70 406.60M259.05 407.70L260.16 406.60L261.47 406.60L262.53 407.60L262.53 410.80L261.76 411.60L259.77 411.60L259.05 410.80L259.05 407.70" fill="none" stroke="#ffffff" stroke-width="1.3" stroke-linecap="round" stroke-linejoin="round"/><path d="M276.46 394.35L279.16 392.10L279.16 399.60M276.24 399.60L281.94 399.60" fill="none" stroke="#ffffff" stroke-width="1.5" stroke-linecap="round" stroke-linejoin="round"/><path d="M269.11 411.60L269.11 406.60L271.77 406.60L272.59 406.90L272.88 407.40L272.88 408.25L272.59 408.75L271.77 409.05L269.11 409.05M271.14 409.05L272.98 411.60M274.33 407.80L275.40 406.60L277.14 406.60L278.20 407.70L278.20 410.60L277.23 411.60L275.30 411.60L274.33 410.60L274.33 407.80M279.55 406.60L280.86 411.60L282.02 407.95L283.18 411.60L284.48 406.60M285.83 407.70L286.95 406.60L288.25 406.60L289.31 407.60L289.31 410.80L288.54 411.60L286.56 411.60L285.83 410.80L285.83 407.70" fill="none" stroke="#ffffff" stroke-width="1.3" stroke-linecap="round" stroke-linejoin="round"/><path d="M303.25 394.35L305.95 392.10L305.95 399.60M303.03 399.60L308.73 399.60" fill="none" stroke="#ffffff" stroke-width="1.5" stroke-linecap="round" stroke-linejoin="round"/><path d="M295.90 411.60L295.90 406.60L298.56 406.60L299.38 406.90L299.67 407.40L299.67 408.25L299.38 408.75L298.56 409.05L295.90 409.05M297.93 409.05L299.77 411.60M301.12 407.80L302.18 406.60L303.92 406.60L304.99 407.70L304.99 410.60L304.02 411.60L302.09 411.60L301.12 410.60L301.12 407.80M306.34 406.60L307.64 411.60L308.80 407.95L309.96 411.60L311.27 406.60M312.62 407.70L313.73 406.60L315.04 406.60L316.10 407.60L316.10 410.80L315.33 411.60L313.35 411.60L312.62 410.80L312.62 407.70" fill="none" stroke="#ffffff" stroke-width="1.3" stroke-linecap="round" stroke-linejoin="round"/><path d="M356.82 394.35L359.52 392.10L359.52 399.60M356.60 399.60L362.30 399.60" fill="none" stroke="#ffffff" stroke-width="1.5" stroke-linecap="round" stroke-linejoin="round"/><path d="M349.47 411.60L349.47 406.60L352.13 406.60L352.95 406.90L353.24 407.40L353.24 408.25L352.95 408.75L352.13 409.05L349.47 409.05M351.50 409.05L353.34 411.60M354.69 407.80L355.75 406.60L357.49 406.60L358.56 407.70L358.56 410.60L357.59 411.60L355.66 411.60L354.69 410.60L354.69 407.80M359.91 406.60L361.21 411.60L362.37 407.95L363.53 411.60L364.84 406.60M366.19 407.70L367.30 406.60L368.61 406.60L369.67 407.60L369.67 410.80L368.90 411.60L366.92 411.60L366.19 410.80L366.19 407.70" fill="none" stroke="#ffffff" stroke-width="1.3" stroke-linecap="round" stroke-linejoin="round"/><path d="M383.61 394.35L386.31 392.10L386.31 399.60M383.38 399.60L389.08 399.60" fill="none" stroke="#ffffff" stroke-width="1.5" stroke-linecap="round" stroke-linejoin="round"/><path d="M376.26 411.60L376.26 406.60L378.92 406.60L379.74 406.90L380.03 407.40L380.03 408.25L379.74 408.75L378.92 409.05L376.26 409.05M378.29 409.05L380.12 411.60M381.48 407.80L382.54 406.60L384.28 406.60L385.34 407.70L385.34 410.60L384.38 411.60L382.44 411.60L381.48 410.60L381.48 407.80M386.70 406.60L388.00 411.60L389.16 407.95L390.32 411.60L391.62 406.60M392.98 407.70L394.09 406.60L395.39 406.60L396.46 407.60L396.46 410.80L395.68 411.60L393.70 411.60L392.98 410.80L392.98 407.70" fill="none" stroke="#ffffff" stroke-width="1.3" stroke-linecap="round" stroke-linejoin="round"/><path d="M410.39 394.35L413.09 392.10L413.09 399.60M410.17 399.60L415.87 399.60" fill="none" stroke="#ffffff" stroke-width="1.5" stroke-linecap="round" stroke-linejoin="round"/><path d="M403.04 411.60L403.04 406.60L405.70 406.60L406.52 406.90L406.81 407.40L406.81 408.25L406.52 408.75L405.70 409.05L403.04 409.05M405.07 409.05L406.91 411.60M408.26 407.80L409.33 406.60L411.06 406.60L412.13 407.70L412.13 410.60L411.16 411.60L409.23 411.60L408.26 410.60L408.26 407.80M413.48 406.60L414.79 411.60L415.95 407.95L417.11 411.60L418.41 406.60M419.76 407.70L420.87 406.60L422.18 406.60L423.24 407.60L423.24 410.80L422.47 411.60L420.49 411.60L419.76 410.80L419.76 407.70" fill="none" stroke="#ffffff" stroke-width="1.3" stroke-linecap="round" stroke-linejoin="round"/><path d="M437.18 394.35L439.88 392.10L439.88 399.60M436.95 399.60L442.65 399.60" fill="none" stroke="#ffffff" stroke-width="1.5" stroke-linecap="round" stroke-linejoin="round"/><path d="M429.83 411.60L429.83 406.60L432.49 406.60L433.31 406.90L433.60 407.40L433.60 408.25L433.31 408.75L432.49 409.05L429.83 409.05M431.86 409.05L433.69 411.60M435.05 407.80L436.11 406.60L437.85 406.60L438.91 407.70L438.91 410.60L437.95 411.60L436.01 411.60L435.05 410.60L435.05 407.80M440.27 406.60L441.57 411.60L442.73 407.95L443.89 411.60L445.20 406.60M446.55 407.70L447.66 406.60L448.97 406.60L450.03 407.60L450.03 410.80L449.26 411.60L447.27 411.60L446.55 410.80L446.55 407.70" fill="none" stroke="#ffffff" stroke-width="1.3" stroke-linecap="round" stroke-linejoin="round"/><path d="M463.96 394.35L466.66 392.10L466.66 399.60M463.74 399.60L469.44 399.60" fill="none" stroke="#ffffff" stroke-width="1.5" stroke-linecap="round" stroke-linejoin="round"/><path d="M456.61 411.60L456.61 406.60L459.27 406.60L460.09 406.90L460.38 407.40L460.38 408.25L460.09 408.75L459.27 409.05L456.61 409.05M458.64 409.05L460.48 411.60M461.83 407.80L462.90 406.60L464.64 406.60L465.70 407.70L465.70 410.60L464.73 411.60L462.80 411.60L461.83 410.60L461.83 407.80M467.05 406.60L468.36 411.60L469.52 407.95L470.68 411.60L471.98 406.60M473.33 407.70L474.45 406.60L475.75 406.60L476.81 407.60L476.81 410.80L476.04 411.60L474.06 411.60L473.33 410.80L473.33 407.70" fill="none" stroke="#ffffff" stroke-width="1.3" stroke-linecap="round" stroke-linejoin="round"/><path d="M490.75 394.35L493.45 392.10L493.45 399.60M490.52 399.60L496.22 399.60" fill="none" stroke="#ffffff" stroke-width="1.5" stroke-linecap="round" stroke-linejoin="round"/><path d="M483.40 411.60L483.40 406.60L486.06 406.60L486.88 406.90L487.17 407.40L487.17 408.25L486.88 408.75L486.06 409.05L483.40 409.05M485.43 409.05L487.27 411.60M488.62 407.80L489.68 406.60L491.42 406.60L492.49 407.70L492.49 410.60L491.52 411.60L489.59 411.60L488.62 410.60L488.62 407.80M493.84 406.60L495.14 411.60L496.30 407.95L497.46 411.60L498.77 406.60M500.12 407.70L501.23 406.60L502.54 406.60L503.60 407.60L503.60 410.80L502.83 411.60L500.85 411.60L500.12 410.80L500.12 407.70" fill="none" stroke="#ffffff" stroke-width="1.3" stroke-linecap="round" stroke-linejoin="round"/><path d="M517.54 394.35L520.24 392.10L520.24 399.60M517.31 399.60L523.01 399.60" fill="none" stroke="#ffffff" stroke-width="1.5" stroke-linecap="round" stroke-linejoin="round"/><path d="M510.19 411.60L510.19 406.60L512.84 406.60L513.67 406.90L513.96 407.40L513.96 408.25L513.67 408.75L512.84 409.05L510.19 409.05M512.22 409.05L514.05 411.60M515.40 407.80L516.47 406.60L518.21 406.60L519.27 407.70L519.27 410.60L518.30 411.60L516.37 411.60L515.40 410.60L515.40 407.80M520.62 406.60L521.93 411.60L523.09 407.95L524.25 411.60L525.55 406.60M526.91 407.70L528.02 406.60L529.32 406.60L530.39 407.60L530.39 410.80L529.61 411.60L527.63 411.60L526.91 410.80L526.91 407.70" fill="none" stroke="#ffffff" stroke-width="1.3" stroke-linecap="round" stroke-linejoin="round"/><path d="M624.68 394.35L627.38 392.10L627.38 399.60M624.45 399.60L630.15 399.60" fill="none" stroke="#ffffff" stroke-width="1.5" stroke-linecap="round" stroke-linejoin="round"/><path d="M617.33 411.60L617.33 406.60L619.99 406.60L620.81 406.90L621.10 407.40L621.10 408.25L620.81 408.75L619.99 409.05L617.33 409.05M619.36 409.05L621.19 411.60M622.55 407.80L623.61 406.60L625.35 406.60L626.41 407.70L626.41 410.60L625.45 411.60L623.51 411.60L622.55 410.60L622.55 407.80M627.77 406.60L629.07 411.60L630.23 407.95L631.39 411.60L632.70 406.60M634.05 407.70L635.16 406.60L636.47 406.60L637.53 407.60L637.53 410.80L636.76 411.60L634.77 411.60L634.05 410.80L634.05 407.70" fill="none" stroke="#ffffff" stroke-width="1.3" stroke-linecap="round" stroke-linejoin="round"/><path d="M651.46 394.35L654.16 392.10L654.16 399.60M651.24 399.60L656.94 399.60" fill="none" stroke="#ffffff" stroke-width="1.5" stroke-linecap="round" stroke-linejoin="round"/><path d="M644.11 411.60L644.11 406.60L646.77 406.60L647.59 406.90L647.88 407.40L647.88 408.25L647.59 408.75L646.77 409.05L644.11 409.05M646.14 409.05L647.98 411.60M649.33 407.80L650.40 406.60L652.14 406.60L653.20 407.70L653.20 410.60L652.23 411.60L650.30 411.60L649.33 410.60L649.33 407.80M654.55 406.60L655.86 411.60L657.02 407.95L658.18 411.60L659.48 406.60M660.83 407.70L661.95 406.60L663.25 406.60L664.31 407.60L664.31 410.80L663.54 411.60L661.56 411.60L660.83 410.80L660.83 407.70" fill="none" stroke="#ffffff" stroke-width="1.3" stroke-linecap="round" stroke-linejoin="round"/><path d="M678.25 394.35L680.95 392.10L680.95 399.60M678.02 399.60L683.72 399.60" fill="none" stroke="#ffffff" stroke-width="1.5" stroke-linecap="round" stroke-linejoin="round"/><path d="M670.90 411.60L670.90 406.60L673.56 406.60L674.38 406.90L674.67 407.40L674.67 408.25L674.38 408.75L673.56 409.05L670.90 409.05M672.93 409.05L674.77 411.60M676.12 407.80L677.18 406.60L678.92 406.60L679.99 407.70L679.99 410.60L679.02 411.60L677.09 411.60L676.12 410.60L676.12 407.80M681.34 406.60L682.64 411.60L683.80 407.95L684.96 411.60L686.27 406.60M687.62 407.70L688.73 406.60L690.04 406.60L691.10 407.60L691.10 410.80L690.33 411.60L688.35 411.60L687.62 410.80L687.62 407.70" fill="none" stroke="#ffffff" stroke-width="1.3" stroke-linecap="round" stroke-linejoin="round"/><path d="M705.04 394.35L707.74 392.10L707.74 399.60M704.81 399.60L710.51 399.60" fill="none" stroke="#ffffff" stroke-width="1.5" stroke-linecap="round" stroke-linejoin="round"/><path d="M697.69 411.60L697.69 406.60L700.34 406.60L701.17 406.90L701.46 407.40L701.46 408.25L701.17 408.75L700.34 409.05L697.69 409.05M699.72 409.05L701.55 411.60M702.90 407.80L703.97 406.60L705.71 406.60L706.77 407.70L706.77 410.60L705.80 411.60L703.87 411.60L702.90 410.60L702.90 407.80M708.12 406.60L709.43 411.60L710.59 407.95L711.75 411.60L713.05 406.60M714.41 407.70L715.52 406.60L716.82 406.60L717.89 407.60L717.89 410.80L717.11 411.60L715.13 411.60L714.41 410.80L714.41 407.70" fill="none" stroke="#ffffff" stroke-width="1.3" stroke-linecap="round" stroke-linejoin="round"/><path d="M731.82 394.35L734.52 392.10L734.52 399.60M731.60 399.60L737.30 399.60" fill="none" stroke="#ffffff" stroke-width="1.5" stroke-linecap="round" stroke-linejoin="round"/><path d="M724.47 411.60L724.47 406.60L727.13 406.60L727.95 406.90L728.24 407.40L728.24 408.25L727.95 408.75L727.13 409.05L724.47 409.05M726.50 409.05L728.34 411.60M729.69 407.80L730.75 406.60L732.49 406.60L733.56 407.70L733.56 410.60L732.59 411.60L730.66 411.60L729.69 410.60L729.69 407.80M734.91 406.60L736.21 411.60L737.37 407.95L738.53 411.60L739.84 406.60M741.19 407.70L742.30 406.60L743.61 406.60L744.67 407.60L744.67 410.80L743.90 411.60L741.92 411.60L741.19 410.80L741.19 407.70" fill="none" stroke="#ffffff" stroke-width="1.3" stroke-linecap="round" stroke-linejoin="round"/><path d="M44.21 421.98L45.81 421.05L47.34 420.90L48.80 421.21L49.87 422.21L49.87 423.60L48.65 425.14L44.05 428.60L50.10 428.60" fill="none" stroke="#ffffff" stroke-width="1.5" stroke-linecap="round" stroke-linejoin="round"/><path d="M70.99 421.98L72.60 421.05L74.13 420.90L75.58 421.21L76.66 422.21L76.66 423.60L75.43 425.14L70.84 428.60L76.89 428.60" fill="none" stroke="#ffffff" stroke-width="1.5" stroke-linecap="round" stroke-linejoin="round"/><path d="M97.78 421.98L99.39 421.05L100.92 420.90L102.37 421.21L103.44 422.21L103.44 423.60L102.22 425.14L97.62 428.60L103.67 428.60" fill="none" stroke="#ffffff" stroke-width="1.5" stroke-linecap="round" stroke-linejoin="round"/><path d="M124.56 421.98L126.17 421.05L127.70 420.90L129.16 421.21L130.23 422.21L130.23 423.60L129.00 425.14L124.41 428.60L130.46 428.60" fill="none" stroke="#ffffff" stroke-width="1.5" stroke-linecap="round" stroke-linejoin="round"/><path d="M151.35 421.98L152.96 421.05L154.49 420.90L155.94 421.21L157.01 422.21L157.01 423.60L155.79 425.14L151.20 428.60L157.24 428.60" fill="none" stroke="#ffffff" stroke-width="1.5" stroke-linecap="round" stroke-linejoin="round"/><path d="M178.13 421.98L179.74 421.05L181.27 420.90L182.73 421.21L183.80 422.21L183.80 423.60L182.57 425.14L177.98 428.60L184.03 428.60" fill="none" stroke="#ffffff" stroke-width="1.5" stroke-linecap="round" stroke-linejoin="round"/><path d="M204.92 421.98L206.53 421.05L208.06 420.90L209.51 421.21L210.58 422.21L210.58 423.60L209.36 425.14L204.77 428.60L210.81 428.60" fill="none" stroke="#ffffff" stroke-width="1.5" stroke-linecap="round" stroke-linejoin="round"/><path d="M231.71 421.98L233.31 421.05L234.84 420.90L236.30 421.21L237.37 422.21L237.37 423.60L236.15 425.14L231.55 428.60L237.60 428.60" fill="none" stroke="#ffffff" stroke-width="1.5" stroke-linecap="round" stroke-linejoin="round"/><path d="M285.28 421.98L286.89 421.05L288.42 420.90L289.87 421.21L290.94 422.21L290.94 423.60L289.72 425.14L285.12 428.60L291.17 428.60" fill="none" stroke="#ffffff" stroke-width="1.5" stroke-linecap="round" stroke-linejoin="round"/><path d="M312.06 421.98L313.67 421.05L315.20 420.90L316.66 421.21L317.73 422.21L317.73 423.60L316.50 425.14L311.91 428.60L317.96 428.60" fill="none" stroke="#ffffff" stroke-width="1.5" stroke-linecap="round" stroke-linejoin="round"/><path d="M338.85 421.98L340.46 421.05L341.99 420.90L343.44 421.21L344.51 422.21L344.51 423.60L343.29 425.14L338.70 428.60L344.74 428.60" fill="none" stroke="#ffffff" stroke-width="1.5" stroke-linecap="round" stroke-linejoin="round"/><path d="M365.63 421.98L367.24 421.05L368.77 420.90L370.23 421.21L371.30 422.21L371.30 423.60L370.07 425.14L365.48 428.60L371.53 428.60" fill="none" stroke="#ffffff" stroke-width="1.5" stroke-linecap="round" stroke-linejoin="round"/><path d="M392.42 421.98L394.03 421.05L395.56 420.90L397.01 421.21L398.08 422.21L398.08 423.60L396.86 425.14L392.27 428.60L398.31 428.60" fill="none" stroke="#ffffff" stroke-width="1.5" stroke-linecap="round" stroke-linejoin="round"/><path d="M419.21 421.98L420.81 421.05L422.34 420.90L423.80 421.21L424.87 422.21L424.87 423.60L423.65 425.14L419.05 428.60L425.10 428.60" fill="none" stroke="#ffffff" stroke-width="1.5" stroke-linecap="round" stroke-linejoin="round"/><path d="M445.99 421.98L447.60 421.05L449.13 420.90L450.58 421.21L451.66 422.21L451.66 423.60L450.43 425.14L445.84 428.60L451.89 428.60" fill="none" stroke="#ffffff" stroke-width="1.5" stroke-linecap="round" stroke-linejoin="round"/><path d="M553.13 421.98L554.74 421.05L556.27 420.90L557.73 421.21L558.80 422.21L558.80 423.60L557.57 425.14L552.98 428.60L559.03 428.60" fill="none" stroke="#ffffff" stroke-width="1.5" stroke-linecap="round" stroke-linejoin="round"/><path d="M579.92 421.98L581.53 421.05L583.06 420.90L584.51 421.21L585.58 422.21L585.58 423.60L584.36 425.14L579.77 428.60L585.81 428.60" fill="none" stroke="#ffffff" stroke-width="1.5" stroke-linecap="round" stroke-linejoin="round"/><path d="M606.71 421.98L608.31 421.05L609.84 420.90L611.30 421.21L612.37 422.21L612.37 423.60L611.15 425.14L606.55 428.60L612.60 428.60" fill="none" stroke="#ffffff" stroke-width="1.5" stroke-linecap="round" stroke-linejoin="round"/><path d="M633.49 421.98L635.10 421.05L636.63 420.90L638.08 421.21L639.16 422.21L639.16 423.60L637.93 425.14L633.34 428.60L639.39 428.60" fill="none" stroke="#ffffff" stroke-width="1.5" stroke-linecap="round" stroke-linejoin="round"/><path d="M660.28 421.98L661.88 421.05L663.42 420.90L664.87 421.21L665.94 422.21L665.94 423.60L664.72 425.14L660.12 428.60L666.17 428.60" fill="none" stroke="#ffffff" stroke-width="1.5" stroke-linecap="round" stroke-linejoin="round"/><path fill="#fff" d="M3 29h1v1h-1zM5 29h1v1h-1zM3 30h1v1h-1zM5 30h1v1h-1zM3 31h1v1h-1zM4 31h1v1h-1zM5 31h1v1h-1zM3 32h1v1h-1zM5 32h1v1h-1zM3 33h1v1h-1zM5 33h1v1h-1zM8 29h1v1h-1zM7 30h1v1h-1zM9 30h1v1h-1zM7 31h1v1h-1zM9 31h1v1h-1zM7 32h1v1h-1zM9 32h1v1h-1zM8 33h1v1h-1zM11 29h1v1h-1zM11 30h1v1h-1zM11 31h1v1h-1zM11 32h1v1h-1zM11 33h1v1h-1zM12 33h1v1h-1zM13 33h1v1h-1zM14 29h1v1h-1zM15 29h1v1h-1zM16 29h1v1h-1zM14 30h1v1h-1zM14 31h1v1h-1zM15 31h1v1h-1zM16 31h1v1h-1zM14 32h1v1h-1zM14 33h1v1h-1zM15 33h1v1h-1zM16 33h1v1h-1z"/><path fill="#fff" d="M218 29h1v1h-1zM220 29h1v1h-1zM218 30h1v1h-1zM220 30h1v1h-1zM218 31h1v1h-1zM219 31h1v1h-1zM220 31h1v1h-1zM218 32h1v1h-1zM220 32h1v1h-1zM218 33h1v1h-1zM220 33h1v1h-1zM223 29h1v1h-1zM222 30h1v1h-1zM224 30h1v1h-1zM222 31h1v1h-1zM224 31h1v1h-1zM222 32h1v1h-1zM224 32h1v1h-1zM223 33h1v1h-1zM226 29h1v1h-1zM226 30h1v1h-1zM226 31h1v1h-1zM226 32h1v1h-1zM226 33h1v1h-1zM227 33h1v1h-1zM228 33h1v1h-1zM229 29h1v1h-1zM230 29h1v1h-1zM231 29h1v1h-1zM229 30h1v1h-1zM229 31h1v1h-1zM230 31h1v1h-1zM231 31h1v1h-1zM229 32h1v1h-1zM229 33h1v1h-1zM230 33h1v1h-1zM231 33h1v1h-1z"/><path fill="#fff" d="M432 29h1v1h-1zM434 29h1v1h-1zM432 30h1v1h-1zM434 30h1v1h-1zM432 31h1v1h-1zM433 31h1v1h-1zM434 31h1v1h-1zM432 32h1v1h-1zM434 32h1v1h-1zM432 33h1v1h-1zM434 33h1v1h-1zM437 29h1v1h-1zM436 30h1v1h-1zM438 30h1v1h-1zM436 31h1v1h-1zM438 31h1v1h-1zM436 32h1v1h-1zM438 32h1v1h-1zM437 33h1v1h-1zM440 29h1v1h-1zM440 30h1v1h-1zM440 31h1v1h-1zM440 32h1v1h-1zM440 33h1v1h-1zM441 33h1v1h-1zM442 33h1v1h-1zM443 29h1v1h-1zM444 29h1v1h-1zM445 29h1v1h-1zM443 30h1v1h-1zM443 31h1v1h-1zM444 31h1v1h-1zM445 31h1v1h-1zM443 32h1v1h-1zM443 33h1v1h-1zM444 33h1v1h-1zM445 33h1v1h-1z"/><path fill="#fff" d="M566 29h1v1h-1zM568 29h1v1h-1zM566 30h1v1h-1zM568 30h1v1h-1zM566 31h1v1h-1zM567 31h1v1h-1zM568 31h1v1h-1zM566 32h1v1h-1zM568 32h1v1h-1zM566 33h1v1h-1zM568 33h1v1h-1zM571 29h1v1h-1zM570 30h1v1h-1zM572 30h1v1h-1zM570 31h1v1h-1zM572 31h1v1h-1zM570 32h1v1h-1zM572 32h1v1h-1zM571 33h1v1h-1zM574 29h1v1h-1zM574 30h1v1h-1zM574 31h1v1h-1zM574 32h1v1h-1zM574 33h1v1h-1zM575 33h1v1h-1zM576 33h1v1h-1zM577 29h1v1h-1zM578 29h1v1h-1zM579 29h1v1h-1zM577 30h1v1h-1zM577 31h1v1h-1zM578 31h1v1h-1zM579 31h1v1h-1zM577 32h1v1h-1zM577 33h1v1h-1zM578 33h1v1h-1zM579 33h1v1h-1z"/><path fill="#fff" d="M673 29h1v1h-1zM675 29h1v1h-1zM673 30h1v1h-1zM675 30h1v1h-1zM673 31h1v1h-1zM674 31h1v1h-1zM675 31h1v1h-1zM673 32h1v1h-1zM675 32h1v1h-1zM673 33h1v1h-1zM675 33h1v1h-1zM678 29h1v1h-1zM677 30h1v1h-1zM679 30h1v1h-1zM677 31h1v1h-1zM679 31h1v1h-1zM677 32h1v1h-1zM679 32h1v1h-1zM678 33h1v1h-1zM681 29h1v1h-1zM681 30h1v1h-1zM681 31h1v1h-1zM681 32h1v1h-1zM681 33h1v1h-1zM682 33h1v1h-1zM683 33h1v1h-1zM684 29h1v1h-1zM685 29h1v1h-1zM686 29h1v1h-1zM684 30h1v1h-1zM684 31h1v1h-1zM685 31h1v1h-1zM686 31h1v1h-1zM684 32h1v1h-1zM684 33h1v1h-1zM685 33h1v1h-1zM686 33h1v1h-1z"/><path fill="#fff" d="M3 458h1v1h-1zM5 458h1v1h-1zM3 459h1v1h-1zM5 459h1v1h-1zM3 460h1v1h-1zM4 460h1v1h-1zM5 460h1v1h-1zM3 461h1v1h-1zM5 461h1v1h-1zM3 462h1v1h-1zM5 462h1v1h-1zM8 458h1v1h-1zM7 459h1v1h-1zM9 459h1v1h-1zM7 460h1v1h-1zM9 460h1v1h-1zM7 461h1v1h-1zM9 461h1v1h-1zM8 462h1v1h-1zM11 458h1v1h-1zM11 459h1v1h-1zM11 460h1v1h-1zM11 461h1v1h-1zM11 462h1v1h-1zM12 462h1v1h-1zM13 462h1v1h-1zM14 458h1v1h-1zM15 458h1v1h-1zM16 458h1v1h-1zM14 459h1v1h-1zM14 460h1v1h-1zM15 460h1v1h-1zM16 460h1v1h-1zM14 461h1v1h-1zM14 462h1v1h-1zM15 462h1v1h-1zM16 462h1v1h-1z"/><path fill="#fff" d="M30 458h1v1h-1zM32 458h1v1h-1zM30 459h1v1h-1zM32 459h1v1h-1zM30 460h1v1h-1zM31 460h1v1h-1zM32 460h1v1h-1zM30 461h1v1h-1zM32 461h1v1h-1zM30 462h1v1h-1zM32 462h1v1h-1zM35 458h1v1h-1zM34 459h1v1h-1zM36 459h1v1h-1zM34 460h1v1h-1zM36 460h1v1h-1zM34 461h1v1h-1zM36 461h1v1h-1zM35 462h1v1h-1zM38 458h1v1h-1zM38 459h1v1h-1zM38 460h1v1h-1zM38 461h1v1h-1zM38 462h1v1h-1zM39 462h1v1h-1zM40 462h1v1h-1zM41 458h1v1h-1zM42 458h1v1h-1zM43 458h1v1h-1zM41 459h1v1h-1zM41 460h1v1h-1zM42 460h1v1h-1zM43 460h1v1h-1zM41 461h1v1h-1zM41 462h1v1h-1zM42 462h1v1h-1zM43 462h1v1h-1z"/><path fill="#fff" d="M56 244h1v1h-1zM58 244h1v1h-1zM56 245h1v1h-1zM58 245h1v1h-1zM56 246h1v1h-1zM57 246h1v1h-1zM58 246h1v1h-1zM56 247h1v1h-1zM58 247h1v1h-1zM56 248h1v1h-1zM58 248h1v1h-1zM61 244h1v1h-1zM60 245h1v1h-1zM62 245h1v1h-1zM60 246h1v1h-1zM62 246h1v1h-1zM60 247h1v1h-1zM62 247h1v1h-1zM61 248h1v1h-1zM64 244h1v1h-1zM64 245h1v1h-1zM64 246h1v1h-1zM64 247h1v1h-1zM64 248h1v1h-1zM65 248h1v1h-1zM66 248h1v1h-1zM67 244h1v1h-1zM68 244h1v1h-1zM69 244h1v1h-1zM67 245h1v1h-1zM67 246h1v1h-1zM68 246h1v1h-1zM69 246h1v1h-1zM67 247h1v1h-1zM67 248h1v1h-1zM68 248h1v1h-1zM69 248h1v1h-1z"/><path fill="#fff" d="M110 244h1v1h-1zM112 244h1v1h-1zM110 245h1v1h-1zM112 245h1v1h-1zM110 246h1v1h-1zM111 246h1v1h-1zM112 246h1v1h-1zM110 247h1v1h-1zM112 247h1v1h-1zM110 248h1v1h-1zM112 248h1v1h-1zM115 244h1v1h-1zM114 245h1v1h-1zM116 245h1v1h-1zM114 246h1v1h-1zM116 246h1v1h-1zM114 247h1v1h-1zM116 247h1v1h-1zM115 248h1v1h-1zM118 244h1v1h-1zM118 245h1v1h-1zM118 246h1v1h-1zM118 247h1v1h-1zM118 248h1v1h-1zM119 248h1v1h-1zM120 248h1v1h-1zM121 244h1v1h-1zM122 244h1v1h-1zM123 244h1v1h-1zM121 245h1v1h-1zM121 246h1v1h-1zM122 246h1v1h-1zM123 246h1v1h-1zM121 247h1v1h-1zM121 248h1v1h-1zM122 248h1v1h-1zM123 248h1v1h-1z"/><path fill="#fff" d="M270 244h1v1h-1zM272 244h1v1h-1zM270 245h1v1h-1zM272 245h1v1h-1zM270 246h1v1h-1zM271 246h1v1h-1zM272 246h1v1h-1zM270 247h1v1h-1zM272 247h1v1h-1zM270 248h1v1h-1zM272 248h1v1h-1zM275 244h1v1h-1zM274 245h1v1h-1zM276 245h1v1h-1zM274 246h1v1h-1zM276 246h1v1h-1zM274 247h1v1h-1zM276 247h1v1h-1zM275 248h1v1h-1zM278 244h1v1h-1zM278 245h1v1h-1zM278 246h1v1h-1zM278 247h1v1h-1zM278 248h1v1h-1zM279 248h1v1h-1zM280 248h1v1h-1zM281 244h1v1h-1zM282 244h1v1h-1zM283 244h1v1h-1zM281 245h1v1h-1zM281 246h1v1h-1zM282 246h1v1h-1zM283 246h1v1h-1zM281 247h1v1h-1zM281 248h1v1h-1zM282 248h1v1h-1zM283 248h1v1h-1z"/><path fill="#fff" d="M297 244h1v1h-1zM299 244h1v1h-1zM297 245h1v1h-1zM299 245h1v1h-1zM297 246h1v1h-1zM298 246h1v1h-1zM299 246h1v1h-1zM297 247h1v1h-1zM299 247h1v1h-1zM297 248h1v1h-1zM299 248h1v1h-1zM302 244h1v1h-1zM301 245h1v1h-1zM303 245h1v1h-1zM301 246h1v1h-1zM303 246h1v1h-1zM301 247h1v1h-1zM303 247h1v1h-1zM302 248h1v1h-1zM305 244h1v1h-1zM305 245h1v1h-1zM305 246h1v1h-1zM305 247h1v1h-1zM305 248h1v1h-1zM306 248h1v1h-1zM307 248h1v1h-1zM308 244h1v1h-1zM309 244h1v1h-1zM310 244h1v1h-1zM308 245h1v1h-1zM308 246h1v1h-1zM309 246h1v1h-1zM310 246h1v1h-1zM308 247h1v1h-1zM308 248h1v1h-1zM309 248h1v1h-1zM310 248h1v1h-1z"/><path fill="#fff" d="M324 244h1v1h-1zM326 244h1v1h-1zM324 245h1v1h-1zM326 245h1v1h-1zM324 246h1v1h-1zM325 246h1v1h-1zM326 246h1v1h-1zM324 247h1v1h-1zM326 247h1v1h-1zM324 248h1v1h-1zM326 248h1v1h-1zM329 244h1v1h-1zM328 245h1v1h-1zM330 245h1v1h-1zM328 246h1v1h-1zM330 246h1v1h-1zM328 247h1v1h-1zM330 247h1v1h-1zM329 248h1v1h-1zM332 244h1v1h-1zM332 245h1v1h-1zM332 246h1v1h-1zM332 247h1v1h-1zM332 248h1v1h-1zM333 248h1v1h-1zM334 248h1v1h-1zM335 244h1v1h-1zM336 244h1v1h-1zM337 244h1v1h-1zM335 245h1v1h-1zM335 246h1v1h-1zM336 246h1v1h-1zM337 246h1v1h-1zM335 247h1v1h-1zM335 248h1v1h-1zM336 248h1v1h-1zM337 248h1v1h-1z"/><path fill="#fff" d="M351 244h1v1h-1zM353 244h1v1h-1zM351 245h1v1h-1zM353 245h1v1h-1zM351 246h1v1h-1zM352 246h1v1h-1zM353 246h1v1h-1zM351 247h1v1h-1zM353 247h1v1h-1zM351 248h1v1h-1zM353 248h1v1h-1zM356 244h1v1h-1zM355 245h1v1h-1zM357 245h1v1h-1zM355 246h1v1h-1zM357 246h1v1h-1zM355 247h1v1h-1zM357 247h1v1h-1zM356 248h1v1h-1zM359 244h1v1h-1zM359 245h1v1h-1zM359 246h1v1h-1zM359 247h1v1h-1zM359 248h1v1h-1zM360 248h1v1h-1zM361 248h1v1h-1zM362 244h1v1h-1zM363 244h1v1h-1zM364 244h1v1h-1zM362 245h1v1h-1zM362 246h1v1h-1zM363 246h1v1h-1zM364 246h1v1h-1zM362 247h1v1h-1zM362 248h1v1h-1zM363 248h1v1h-1zM364 248h1v1h-1z"/><path fill="#fff" d="M378 244h1v1h-1zM380 244h1v1h-1zM378 245h1v1h-1zM380 245h1v1h-1zM378 246h1v1h-1zM379 246h1v1h-1zM380 246h1v1h-1zM378 247h1v1h-1zM380 247h1v1h-1zM378 248h1v1h-1zM380 248h1v1h-1zM383 244h1v1h-1zM382 245h1v1h-1zM384 245h1v1h-1zM382 246h1v1h-1zM384 246h1v1h-1zM382 247h1v1h-1zM384 247h1v1h-1zM383 248h1v1h-1zM386 244h1v1h-1zM386 245h1v1h-1zM386 246h1v1h-1zM386 247h1v1h-1zM386 248h1v1h-1zM387 248h1v1h-1zM388 248h1v1h-1zM389 244h1v1h-1zM390 244h1v1h-1zM391 244h1v1h-1zM389 245h1v1h-1zM389 246h1v1h-1zM390 246h1v1h-1zM391 246h1v1h-1zM389 247h1v1h-1zM389 248h1v1h-1zM390 248h1v1h-1zM391 248h1v1h-1z"/><path fill="#fff" d="M404 244h1v1h-1zM406 244h1v1h-1zM404 245h1v1h-1zM406 245h1v1h-1zM404 246h1v1h-1zM405 246h1v1h-1zM406 246h1v1h-1zM404 247h1v1h-1zM406 247h1v1h-1zM404 248h1v1h-1zM406 248h1v1h-1zM409 244h1v1h-1zM408 245h1v1h-1zM410 245h1v1h-1zM408 246h1v1h-1zM410 246h1v1h-1zM408 247h1v1h-1zM410 247h1v1h-1zM409 248h1v1h-1zM412 244h1v1h-1zM412 245h1v1h-1zM412 246h1v1h-1zM412 247h1v1h-1zM412 248h1v1h-1zM413 248h1v1h-1zM414 248h1v1h-1zM415 244h1v1h-1zM416 244h1v1h-1zM417 244h1v1h-1zM415 245h1v1h-1zM415 246h1v1h-1zM416 246h1v1h-1zM417 246h1v1h-1zM415 247h1v1h-1zM415 248h1v1h-1zM416 248h1v1h-1zM417 248h1v1h-1z"/><path fill="#fff" d="M486 244h1v1h-1zM488 244h1v1h-1zM486 245h1v1h-1zM488 245h1v1h-1zM486 246h1v1h-1zM487 246h1v1h-1zM488 246h1v1h-1zM486 247h1v1h-1zM488 247h1v1h-1zM486 248h1v1h-1zM488 248h1v1h-1zM491 244h1v1h-1zM490 245h1v1h-1zM492 245h1v1h-1zM490 246h1v1h-1zM492 246h1v1h-1zM490 247h1v1h-1zM492 247h1v1h-1zM491 248h1v1h-1zM494 244h1v1h-1zM494 245h1v1h-1zM494 246h1v1h-1zM494 247h1v1h-1zM494 248h1v1h-1zM495 248h1v1h-1zM496 248h1v1h-1zM497 244h1v1h-1zM498 244h1v1h-1zM499 244h1v1h-1zM497 245h1v1h-1zM497 246h1v1h-1zM498 246h1v1h-1zM499 246h1v1h-1zM497 247h1v1h-1zM497 248h1v1h-1zM498 248h1v1h-1zM499 248h1v1h-1z"/><path fill="#fff" d="M512 244h1v1h-1zM514 244h1v1h-1zM512 245h1v1h-1zM514 245h1v1h-1zM512 246h1v1h-1zM513 246h1v1h-1zM514 246h1v1h-1zM512 247h1v1h-1zM514 247h1v1h-1zM512 248h1v1h-1zM514 248h1v1h-1zM517 244h1v1h-1zM516 245h1v1h-1zM518 245h1v1h-1zM516 246h1v1h-1zM518 246h1v1h-1zM516 247h1v1h-1zM518 247h1v1h-1zM517 248h1v1h-1zM520 244h1v1h-1zM520 245h1v1h-1zM520 246h1v1h-1zM520 247h1v1h-1zM520 248h1v1h-1zM521 248h1v1h-1zM522 248h1v1h-1zM523 244h1v1h-1zM524 244h1v1h-1zM525 244h1v1h-1zM523 245h1v1h-1zM523 246h1v1h-1zM524 246h1v1h-1zM525 246h1v1h-1zM523 247h1v1h-1zM523 248h1v1h-1zM524 248h1v1h-1zM525 248h1v1h-1z"/><path fill="#fff" d="M592 244h1v1h-1zM594 244h1v1h-1zM592 245h1v1h-1zM594 245h1v1h-1zM592 246h1v1h-1zM593 246h1v1h-1zM594 246h1v1h-1zM592 247h1v1h-1zM594 247h1v1h-1zM592 248h1v1h-1zM594 248h1v1h-1zM597 244h1v1h-1zM596 245h1v1h-1zM598 245h1v1h-1zM596 246h1v1h-1zM598 246h1v1h-1zM596 247h1v1h-1zM598 247h1v1h-1zM597 248h1v1h-1zM600 244h1v1h-1zM600 245h1v1h-1zM600 246h1v1h-1zM600 247h1v1h-1zM600 248h1v1h-1zM601 248h1v1h-1zM602 248h1v1h-1zM603 244h1v1h-1zM604 244h1v1h-1zM605 244h1v1h-1zM603 245h1v1h-1zM603 246h1v1h-1zM604 246h1v1h-1zM605 246h1v1h-1zM603 247h1v1h-1zM603 248h1v1h-1zM604 248h1v1h-1zM605 248h1v1h-1z"/><path fill="#fff" d="M618 244h1v1h-1zM620 244h1v1h-1zM618 245h1v1h-1zM620 245h1v1h-1zM618 246h1v1h-1zM619 246h1v1h-1zM620 246h1v1h-1zM618 247h1v1h-1zM620 247h1v1h-1zM618 248h1v1h-1zM620 248h1v1h-1zM623 244h1v1h-1zM622 245h1v1h-1zM624 245h1v1h-1zM622 246h1v1h-1zM624 246h1v1h-1zM622 247h1v1h-1zM624 247h1v1h-1zM623 248h1v1h-1zM626 244h1v1h-1zM626 245h1v1h-1zM626 246h1v1h-1zM626 247h1v1h-1zM626 248h1v1h-1zM627 248h1v1h-1zM628 248h1v1h-1zM629 244h1v1h-1zM630 244h1v1h-1zM631 244h1v1h-1zM629 245h1v1h-1zM629 246h1v1h-1zM630 246h1v1h-1zM631 246h1v1h-1zM629 247h1v1h-1zM629 248h1v1h-1zM630 248h1v1h-1zM631 248h1v1h-1z"/><path fill="#fff" d="M645 244h1v1h-1zM647 244h1v1h-1zM645 245h1v1h-1zM647 245h1v1h-1zM645 246h1v1h-1zM646 246h1v1h-1zM647 246h1v1h-1zM645 247h1v1h-1zM647 247h1v1h-1zM645 248h1v1h-1zM647 248h1v1h-1zM650 244h1v1h-1zM649 245h1v1h-1zM651 245h1v1h-1zM649 246h1v1h-1zM651 246h1v1h-1zM649 247h1v1h-1zM651 247h1v1h-1zM650 248h1v1h-1zM653 244h1v1h-1zM653 245h1v1h-1zM653 246h1v1h-1zM653 247h1v1h-1zM653 248h1v1h-1zM654 248h1v1h-1zM655 248h1v1h-1zM656 244h1v1h-1zM657 244h1v1h-1zM658 244h1v1h-1zM656 245h1v1h-1zM656 246h1v1h-1zM657 246h1v1h-1zM658 246h1v1h-1zM656 247h1v1h-1zM656 248h1v1h-1zM657 248h1v1h-1zM658 248h1v1h-1z"/><path fill="#fff" d="M672 244h1v1h-1zM674 244h1v1h-1zM672 245h1v1h-1zM674 245h1v1h-1zM672 246h1v1h-1zM673 246h1v1h-1zM674 246h1v1h-1zM672 247h1v1h-1zM674 247h1v1h-1zM672 248h1v1h-1zM674 248h1v1h-1zM677 244h1v1h-1zM676 245h1v1h-1zM678 245h1v1h-1zM676 246h1v1h-1zM678 246h1v1h-1zM676 247h1v1h-1zM678 247h1v1h-1zM677 248h1v1h-1zM680 244h1v1h-1zM680 245h1v1h-1zM680 246h1v1h-1zM680 247h1v1h-1zM680 248h1v1h-1zM681 248h1v1h-1zM682 248h1v1h-1zM683 244h1v1h-1zM684 244h1v1h-1zM685 244h1v1h-1zM683 245h1v1h-1zM683 246h1v1h-1zM684 246h1v1h-1zM685 246h1v1h-1zM683 247h1v1h-1zM683 248h1v1h-1zM684 248h1v1h-1zM685 248h1v1h-1z"/><path fill="#fff" d="M699 244h1v1h-1zM701 244h1v1h-1zM699 245h1v1h-1zM701 245h1v1h-1zM699 246h1v1h-1zM700 246h1v1h-1zM701 246h1v1h-1zM699 247h1v1h-1zM701 247h1v1h-1zM699 248h1v1h-1zM701 248h1v1h-1zM704 244h1v1h-1zM703 245h1v1h-1zM705 245h1v1h-1zM703 246h1v1h-1zM705 246h1v1h-1zM703 247h1v1h-1zM705 247h1v1h-1zM704 248h1v1h-1zM707 244h1v1h-1zM707 245h1v1h-1zM707 246h1v1h-1zM707 247h1v1h-1zM707 248h1v1h-1zM708 248h1v1h-1zM709 248h1v1h-1zM710 244h1v1h-1zM711 244h1v1h-1zM712 244h1v1h-1zM710 245h1v1h-1zM710 246h1v1h-1zM711 246h1v1h-1zM712 246h1v1h-1zM710 247h1v1h-1zM710 248h1v1h-1zM711 248h1v1h-1zM712 248h1v1h-1z"/><path fill="#fff" d="M84 458h1v1h-1zM86 458h1v1h-1zM84 459h1v1h-1zM86 459h1v1h-1zM84 460h1v1h-1zM85 460h1v1h-1zM86 460h1v1h-1zM84 461h1v1h-1zM86 461h1v1h-1zM84 462h1v1h-1zM86 462h1v1h-1zM89 458h1v1h-1zM88 459h1v1h-1zM90 459h1v1h-1zM88 460h1v1h-1zM90 460h1v1h-1zM88 461h1v1h-1zM90 461h1v1h-1zM89 462h1v1h-1zM92 458h1v1h-1zM92 459h1v1h-1zM92 460h1v1h-1zM92 461h1v1h-1zM92 462h1v1h-1zM93 462h1v1h-1zM94 462h1v1h-1zM95 458h1v1h-1zM96 458h1v1h-1zM97 458h1v1h-1zM95 459h1v1h-1zM95 460h1v1h-1zM96 460h1v1h-1zM97 460h1v1h-1zM95 461h1v1h-1zM95 462h1v1h-1zM96 462h1v1h-1zM97 462h1v1h-1z"/><path fill="#fff" d="M110 458h1v1h-1zM112 458h1v1h-1zM110 459h1v1h-1zM112 459h1v1h-1zM110 460h1v1h-1zM111 460h1v1h-1zM112 460h1v1h-1zM110 461h1v1h-1zM112 461h1v1h-1zM110 462h1v1h-1zM112 462h1v1h-1zM115 458h1v1h-1zM114 459h1v1h-1zM116 459h1v1h-1zM114 460h1v1h-1zM116 460h1v1h-1zM114 461h1v1h-1zM116 461h1v1h-1zM115 462h1v1h-1zM118 458h1v1h-1zM118 459h1v1h-1zM118 460h1v1h-1zM118 461h1v1h-1zM118 462h1v1h-1zM119 462h1v1h-1zM120 462h1v1h-1zM121 458h1v1h-1zM122 458h1v1h-1zM123 458h1v1h-1zM121 459h1v1h-1zM121 460h1v1h-1zM122 460h1v1h-1zM123 460h1v1h-1zM121 461h1v1h-1zM121 462h1v1h-1zM122 462h1v1h-1zM123 462h1v1h-1z"/><path fill="#fff" d="M137 458h1v1h-1zM139 458h1v1h-1zM137 459h1v1h-1zM139 459h1v1h-1zM137 460h1v1h-1zM138 460h1v1h-1zM139 460h1v1h-1zM137 461h1v1h-1zM139 461h1v1h-1zM137 462h1v1h-1zM139 462h1v1h-1zM142 458h1v1h-1zM141 459h1v1h-1zM143 459h1v1h-1zM141 460h1v1h-1zM143 460h1v1h-1zM141 461h1v1h-1zM143 461h1v1h-1zM142 462h1v1h-1zM145 458h1v1h-1zM145 459h1v1h-1zM145 460h1v1h-1zM145 461h1v1h-1zM145 462h1v1h-1zM146 462h1v1h-1zM147 462h1v1h-1zM148 458h1v1h-1zM149 458h1v1h-1zM150 458h1v1h-1zM148 459h1v1h-1zM148 460h1v1h-1zM149 460h1v1h-1zM150 460h1v1h-1zM148 461h1v1h-1zM148 462h1v1h-1zM149 462h1v1h-1zM150 462h1v1h-1z"/><path fill="#fff" d="M164 458h1v1h-1zM166 458h1v1h-1zM164 459h1v1h-1zM166 459h1v1h-1zM164 460h1v1h-1zM165 460h1v1h-1zM166 460h1v1h-1zM164 461h1v1h-1zM166 461h1v1h-1zM164 462h1v1h-1zM166 462h1v1h-1zM169 458h1v1h-1zM168 459h1v1h-1zM170 459h1v1h-1zM168 460h1v1h-1zM170 460h1v1h-1zM168 461h1v1h-1zM170 461h1v1h-1zM169 462h1v1h-1zM172 458h1v1h-1zM172 459h1v1h-1zM172 460h1v1h-1zM172 461h1v1h-1zM172 462h1v1h-1zM173 462h1v1h-1zM174 462h1v1h-1zM175 458h1v1h-1zM176 458h1v1h-1zM177 458h1v1h-1zM175 459h1v1h-1zM175 460h1v1h-1zM176 460h1v1h-1zM177 460h1v1h-1zM175 461h1v1h-1zM175 462h1v1h-1zM176 462h1v1h-1zM177 462h1v1h-1z"/><path fill="#fff" d="M191 458h1v1h-1zM193 458h1v1h-1zM191 459h1v1h-1zM193 459h1v1h-1zM191 460h1v1h-1zM192 460h1v1h-1zM193 460h1v1h-1zM191 461h1v1h-1zM193 461h1v1h-1zM191 462h1v1h-1zM193 462h1v1h-1zM196 458h1v1h-1zM195 459h1v1h-1zM197 459h1v1h-1zM195 460h1v1h-1zM197 460h1v1h-1zM195 461h1v1h-1zM197 461h1v1h-1zM196 462h1v1h-1zM199 458h1v1h-1zM199 459h1v1h-1zM199 460h1v1h-1zM199 461h1v1h-1zM199 462h1v1h-1zM200 462h1v1h-1zM201 462h1v1h-1zM202 458h1v1h-1zM203 458h1v1h-1zM204 458h1v1h-1zM202 459h1v1h-1zM202 460h1v1h-1zM203 460h1v1h-1zM204 460h1v1h-1zM202 461h1v1h-1zM202 462h1v1h-1zM203 462h1v1h-1zM204 462h1v1h-1z"/><path fill="#fff" d="M217 458h1v1h-1zM219 458h1v1h-1zM217 459h1v1h-1zM219 459h1v1h-1zM217 460h1v1h-1zM218 460h1v1h-1zM219 460h1v1h-1zM217 461h1v1h-1zM219 461h1v1h-1zM217 462h1v1h-1zM219 462h1v1h-1zM222 458h1v1h-1zM221 459h1v1h-1zM223 459h1v1h-1zM221 460h1v1h-1zM223 460h1v1h-1zM221 461h1v1h-1zM223 461h1v1h-1zM222 462h1v1h-1zM225 458h1v1h-1zM225 459h1v1h-1zM225 460h1v1h-1zM225 461h1v1h-1zM225 462h1v1h-1zM226 462h1v1h-1zM227 462h1v1h-1zM228 458h1v1h-1zM229 458h1v1h-1zM230 458h1v1h-1zM228 459h1v1h-1zM228 460h1v1h-1zM229 460h1v1h-1zM230 460h1v1h-1zM228 461h1v1h-1zM228 462h1v1h-1zM229 462h1v1h-1zM230 462h1v1h-1z"/><path fill="#fff" d="M244 458h1v1h-1zM246 458h1v1h-1zM244 459h1v1h-1zM246 459h1v1h-1zM244 460h1v1h-1zM245 460h1v1h-1zM246 460h1v1h-1zM244 461h1v1h-1zM246 461h1v1h-1zM244 462h1v1h-1zM246 462h1v1h-1zM249 458h1v1h-1zM248 459h1v1h-1zM250 459h1v1h-1zM248 460h1v1h-1zM250 460h1v1h-1zM248 461h1v1h-1zM250 461h1v1h-1zM249 462h1v1h-1zM252 458h1v1h-1zM252 459h1v1h-1zM252 460h1v1h-1zM252 461h1v1h-1zM252 462h1v1h-1zM253 462h1v1h-1zM254 462h1v1h-1zM255 458h1v1h-1zM256 458h1v1h-1zM257 458h1v1h-1zM255 459h1v1h-1zM255 460h1v1h-1zM256 460h1v1h-1zM257 460h1v1h-1zM255 461h1v1h-1zM255 462h1v1h-1zM256 462h1v1h-1zM257 462h1v1h-1z"/><path fill="#fff" d="M271 458h1v1h-1zM273 458h1v1h-1zM271 459h1v1h-1zM273 459h1v1h-1zM271 460h1v1h-1zM272 460h1v1h-1zM273 460h1v1h-1zM271 461h1v1h-1zM273 461h1v1h-1zM271 462h1v1h-1zM273 462h1v1h-1zM276 458h1v1h-1zM275 459h1v1h-1zM277 459h1v1h-1zM275 460h1v1h-1zM277 460h1v1h-1zM275 461h1v1h-1zM277 461h1v1h-1zM276 462h1v1h-1zM279 458h1v1h-1zM279 459h1v1h-1zM279 460h1v1h-1zM279 461h1v1h-1zM279 462h1v1h-1zM280 462h1v1h-1zM281 462h1v1h-1zM282 458h1v1h-1zM283 458h1v1h-1zM284 458h1v1h-1zM282 459h1v1h-1zM282 460h1v1h-1zM283 460h1v1h-1zM284 460h1v1h-1zM282 461h1v1h-1zM282 462h1v1h-1zM283 462h1v1h-1zM284 462h1v1h-1z"/><path fill="#fff" d="M324 458h1v1h-1zM326 458h1v1h-1zM324 459h1v1h-1zM326 459h1v1h-1zM324 460h1v1h-1zM325 460h1v1h-1zM326 460h1v1h-1zM324 461h1v1h-1zM326 461h1v1h-1zM324 462h1v1h-1zM326 462h1v1h-1zM329 458h1v1h-1zM328 459h1v1h-1zM330 459h1v1h-1zM328 460h1v1h-1zM330 460h1v1h-1zM328 461h1v1h-1zM330 461h1v1h-1zM329 462h1v1h-1zM332 458h1v1h-1zM332 459h1v1h-1zM332 460h1v1h-1zM332 461h1v1h-1zM332 462h1v1h-1zM333 462h1v1h-1zM334 462h1v1h-1zM335 458h1v1h-1zM336 458h1v1h-1zM337 458h1v1h-1zM335 459h1v1h-1zM335 460h1v1h-1zM336 460h1v1h-1zM337 460h1v1h-1zM335 461h1v1h-1zM335 462h1v1h-1zM336 462h1v1h-1zM337 462h1v1h-1z"/><path fill="#fff" d="M350 458h1v1h-1zM352 458h1v1h-1zM350 459h1v1h-1zM352 459h1v1h-1zM350 460h1v1h-1zM351 460h1v1h-1zM352 460h1v1h-1zM350 461h1v1h-1zM352 461h1v1h-1zM350 462h1v1h-1zM352 462h1v1h-1zM355 458h1v1h-1zM354 459h1v1h-1zM356 459h1v1h-1zM354 460h1v1h-1zM356 460h1v1h-1zM354 461h1v1h-1zM356 461h1v1h-1zM355 462h1v1h-1zM358 458h1v1h-1zM358 459h1v1h-1zM358 460h1v1h-1zM358 461h1v1h-1zM358 462h1v1h-1zM359 462h1v1h-1zM360 462h1v1h-1zM361 458h1v1h-1zM362 458h1v1h-1zM363 458h1v1h-1zM361 459h1v1h-1zM361 460h1v1h-1zM362 460h1v1h-1zM363 460h1v1h-1zM361 461h1v1h-1zM361 462h1v1h-1zM362 462h1v1h-1zM363 462h1v1h-1z"/><path fill="#fff" d="M377 458h1v1h-1zM379 458h1v1h-1zM377 459h1v1h-1zM379 459h1v1h-1zM377 460h1v1h-1zM378 460h1v1h-1zM379 460h1v1h-1zM377 461h1v1h-1zM379 461h1v1h-1zM377 462h1v1h-1zM379 462h1v1h-1zM382 458h1v1h-1zM381 459h1v1h-1zM383 459h1v1h-1zM381 460h1v1h-1zM383 460h1v1h-1zM381 461h1v1h-1zM383 461h1v1h-1zM382 462h1v1h-1zM385 458h1v1h-1zM385 459h1v1h-1zM385 460h1v1h-1zM385 461h1v1h-1zM385 462h1v1h-1zM386 462h1v1h-1zM387 462h1v1h-1zM388 458h1v1h-1zM389 458h1v1h-1zM390 458h1v1h-1zM388 459h1v1h-1zM388 460h1v1h-1zM389 460h1v1h-1zM390 460h1v1h-1zM388 461h1v1h-1zM388 462h1v1h-1zM389 462h1v1h-1zM390 462h1v1h-1z"/><path fill="#fff" d="M404 458h1v1h-1zM406 458h1v1h-1zM404 459h1v1h-1zM406 459h1v1h-1zM404 460h1v1h-1zM405 460h1v1h-1zM406 460h1v1h-1zM404 461h1v1h-1zM406 461h1v1h-1zM404 462h1v1h-1zM406 462h1v1h-1zM409 458h1v1h-1zM408 459h1v1h-1zM410 459h1v1h-1zM408 460h1v1h-1zM410 460h1v1h-1zM408 461h1v1h-1zM410 461h1v1h-1zM409 462h1v1h-1zM412 458h1v1h-1zM412 459h1v1h-1zM412 460h1v1h-1zM412 461h1v1h-1zM412 462h1v1h-1zM413 462h1v1h-1zM414 462h1v1h-1zM415 458h1v1h-1zM416 458h1v1h-1zM417 458h1v1h-1zM415 459h1v1h-1zM415 460h1v1h-1zM416 460h1v1h-1zM417 460h1v1h-1zM415 461h1v1h-1zM415 462h1v1h-1zM416 462h1v1h-1zM417 462h1v1h-1z"/><path fill="#fff" d="M431 458h1v1h-1zM433 458h1v1h-1zM431 459h1v1h-1zM433 459h1v1h-1zM431 460h1v1h-1zM432 460h1v1h-1zM433 460h1v1h-1zM431 461h1v1h-1zM433 461h1v1h-1zM431 462h1v1h-1zM433 462h1v1h-1zM436 458h1v1h-1zM435 459h1v1h-1zM437 459h1v1h-1zM435 460h1v1h-1zM437 460h1v1h-1zM435 461h1v1h-1zM437 461h1v1h-1zM436 462h1v1h-1zM439 458h1v1h-1zM439 459h1v1h-1zM439 460h1v1h-1zM439 461h1v1h-1zM439 462h1v1h-1zM440 462h1v1h-1zM441 462h1v1h-1zM442 458h1v1h-1zM443 458h1v1h-1zM444 458h1v1h-1zM442 459h1v1h-1zM442 460h1v1h-1zM443 460h1v1h-1zM444 460h1v1h-1zM442 461h1v1h-1zM442 462h1v1h-1zM443 462h1v1h-1zM444 462h1v1h-1z"/><path fill="#fff" d="M457 458h1v1h-1zM459 458h1v1h-1zM457 459h1v1h-1zM459 459h1v1h-1zM457 460h1v1h-1zM458 460h1v1h-1zM459 460h1v1h-1zM457 461h1v1h-1zM459 461h1v1h-1zM457 462h1v1h-1zM459 462h1v1h-1zM462 458h1v1h-1zM461 459h1v1h-1zM463 459h1v1h-1zM461 460h1v1h-1zM463 460h1v1h-1zM461 461h1v1h-1zM463 461h1v1h-1zM462 462h1v1h-1zM465 458h1v1h-1zM465 459h1v1h-1zM465 460h1v1h-1zM465 461h1v1h-1zM465 462h1v1h-1zM466 462h1v1h-1zM467 462h1v1h-1zM468 458h1v1h-1zM469 458h1v1h-1zM470 458h1v1h-1zM468 459h1v1h-1zM468 460h1v1h-1zM469 460h1v1h-1zM470 460h1v1h-1zM468 461h1v1h-1zM468 462h1v1h-1zM469 462h1v1h-1zM470 462h1v1h-1z"/><path fill="#fff" d="M484 458h1v1h-1zM486 458h1v1h-1zM484 459h1v1h-1zM486 459h1v1h-1zM484 460h1v1h-1zM485 460h1v1h-1zM486 460h1v1h-1zM484 461h1v1h-1zM486 461h1v1h-1zM484 462h1v1h-1zM486 462h1v1h-1zM489 458h1v1h-1zM488 459h1v1h-1zM490 459h1v1h-1zM488 460h1v1h-1zM490 460h1v1h-1zM488 461h1v1h-1zM490 461h1v1h-1zM489 462h1v1h-1zM492 458h1v1h-1zM492 459h1v1h-1zM492 460h1v1h-1zM492 461h1v1h-1zM492 462h1v1h-1zM493 462h1v1h-1zM494 462h1v1h-1zM495 458h1v1h-1zM496 458h1v1h-1zM497 458h1v1h-1zM495 459h1v1h-1zM495 460h1v1h-1zM496 460h1v1h-1zM497 460h1v1h-1zM495 461h1v1h-1zM495 462h1v1h-1zM496 462h1v1h-1zM497 462h1v1h-1z"/><path fill="#fff" d="M592 458h1v1h-1zM594 458h1v1h-1zM592 459h1v1h-1zM594 459h1v1h-1zM592 460h1v1h-1zM593 460h1v1h-1zM594 460h1v1h-1zM592 461h1v1h-1zM594 461h1v1h-1zM592 462h1v1h-1zM594 462h1v1h-1zM597 458h1v1h-1zM596 459h1v1h-1zM598 459h1v1h-1zM596 460h1v1h-1zM598 460h1v1h-1zM596 461h1v1h-1zM598 461h1v1h-1zM597 462h1v1h-1zM600 458h1v1h-1zM600 459h1v1h-1zM600 460h1v1h-1zM600 461h1v1h-1zM600 462h1v1h-1zM601 462h1v1h-1zM602 462h1v1h-1zM603 458h1v1h-1zM604 458h1v1h-1zM605 458h1v1h-1zM603 459h1v1h-1zM603 460h1v1h-1zM604 460h1v1h-1zM605 460h1v1h-1zM603 461h1v1h-1zM603 462h1v1h-1zM604 462h1v1h-1zM605 462h1v1h-1z"/><path fill="#fff" d="M618 458h1v1h-1zM620 458h1v1h-1zM618 459h1v1h-1zM620 459h1v1h-1zM618 460h1v1h-1zM619 460h1v1h-1zM620 460h1v1h-1zM618 461h1v1h-1zM620 461h1v1h-1zM618 462h1v1h-1zM620 462h1v1h-1zM623 458h1v1h-1zM622 459h1v1h-1zM624 459h1v1h-1zM622 460h1v1h-1zM624 460h1v1h-1zM622 461h1v1h-1zM624 461h1v1h-1zM623 462h1v1h-1zM626 458h1v1h-1zM626 459h1v1h-1zM626 460h1v1h-1zM626 461h1v1h-1zM626 462h1v1h-1zM627 462h1v1h-1zM628 462h1v1h-1zM629 458h1v1h-1zM630 458h1v1h-1zM631 458h1v1h-1zM629 459h1v1h-1zM629 460h1v1h-1zM630 460h1v1h-1zM631 460h1v1h-1zM629 461h1v1h-1zM629 462h1v1h-1zM630 462h1v1h-1zM631 462h1v1h-1z"/><path fill="#fff" d="M645 458h1v1h-1zM647 458h1v1h-1zM645 459h1v1h-1zM647 459h1v1h-1zM645 460h1v1h-1zM646 460h1v1h-1zM647 460h1v1h-1zM645 461h1v1h-1zM647 461h1v1h-1zM645 462h1v1h-1zM647 462h1v1h-1zM650 458h1v1h-1zM649 459h1v1h-1zM651 459h1v1h-1zM649 460h1v1h-1zM651 460h1v1h-1zM649 461h1v1h-1zM651 461h1v1h-1zM650 462h1v1h-1zM653 458h1v1h-1zM653 459h1v1h-1zM653 460h1v1h-1zM653 461h1v1h-1zM653 462h1v1h-1zM654 462h1v1h-1zM655 462h1v1h-1zM656 458h1v1h-1zM657 458h1v1h-1zM658 458h1v1h-1zM656 459h1v1h-1zM656 460h1v1h-1zM657 460h1v1h-1zM658 460h1v1h-1zM656 461h1v1h-1zM656 462h1v1h-1zM657 462h1v1h-1zM658 462h1v1h-1z"/><path fill="#fff" d="M672 458h1v1h-1zM674 458h1v1h-1zM672 459h1v1h-1zM674 459h1v1h-1zM672 460h1v1h-1zM673 460h1v1h-1zM674 460h1v1h-1zM672 461h1v1h-1zM674 461h1v1h-1zM672 462h1v1h-1zM674 462h1v1h-1zM677 458h1v1h-1zM676 459h1v1h-1zM678 459h1v1h-1zM676 460h1v1h-1zM678 460h1v1h-1zM676 461h1v1h-1zM678 461h1v1h-1zM677 462h1v1h-1zM680 458h1v1h-1zM680 459h1v1h-1zM680 460h1v1h-1zM680 461h1v1h-1zM680 462h1v1h-1zM681 462h1v1h-1zM682 462h1v1h-1zM683 458h1v1h-1zM684 458h1v1h-1zM685 458h1v1h-1zM683 459h1v1h-1zM683 460h1v1h-1zM684 460h1v1h-1zM685 460h1v1h-1zM683 461h1v1h-1zM683 462h1v1h-1zM684 462h1v1h-1zM685 462h1v1h-1z"/><path fill="#fff" d="M699 458h1v1h-1zM701 458h1v1h-1zM699 459h1v1h-1zM701 459h1v1h-1zM699 460h1v1h-1zM700 460h1v1h-1zM701 460h1v1h-1zM699 461h1v1h-1zM701 461h1v1h-1zM699 462h1v1h-1zM701 462h1v1h-1zM704 458h1v1h-1zM703 459h1v1h-1zM705 459h1v1h-1zM703 460h1v1h-1zM705 460h1v1h-1zM703 461h1v1h-1zM705 461h1v1h-1zM704 462h1v1h-1zM707 458h1v1h-1zM707 459h1v1h-1zM707 460h1v1h-1zM707 461h1v1h-1zM707 462h1v1h-1zM708 462h1v1h-1zM709 462h1v1h-1zM710 458h1v1h-1zM711 458h1v1h-1zM712 458h1v1h-1zM710 459h1v1h-1zM710 460h1v1h-1zM711 460h1v1h-1zM712 460h1v1h-1zM710 461h1v1h-1zM710 462h1v1h-1zM711 462h1v1h-1zM712 462h1v1h-1z"/></g></svg></body></html>
